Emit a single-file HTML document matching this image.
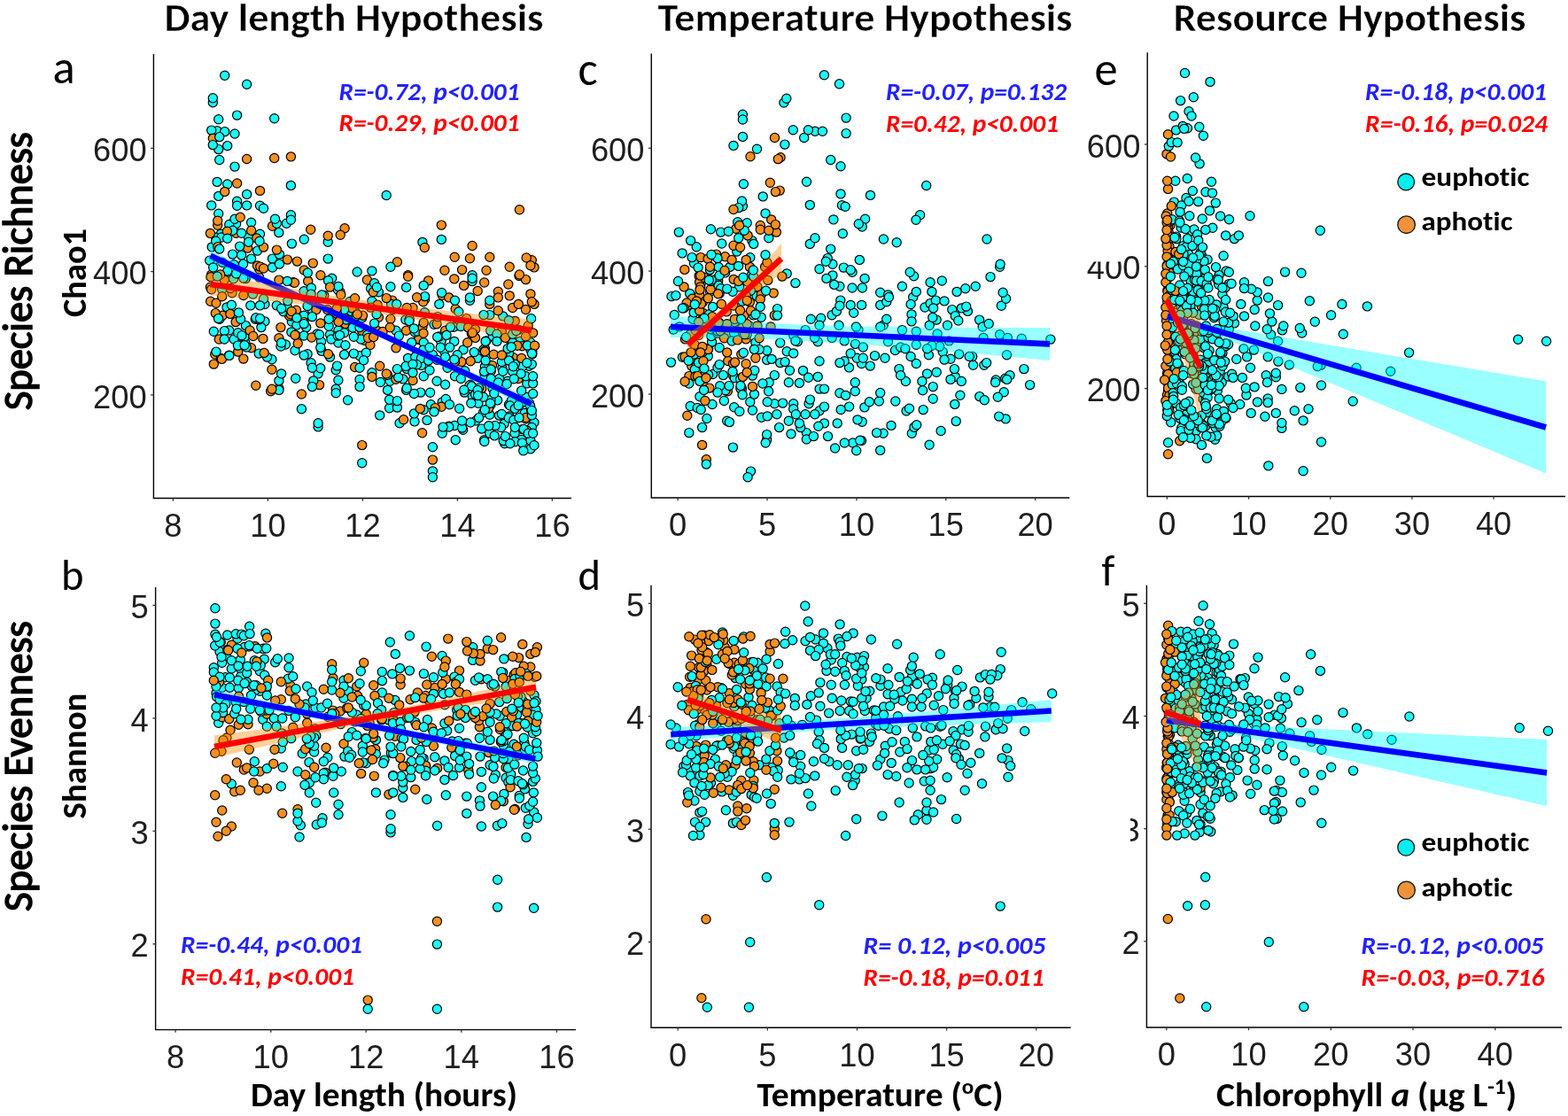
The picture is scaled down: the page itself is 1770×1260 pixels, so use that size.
<!DOCTYPE html>
<html><head><meta charset="utf-8"><title>Figure</title>
<style>html,body{margin:0;padding:0;background:#fff;overflow:hidden;} svg{display:block;} text{font-variant-ligatures:none;font-kerning:normal;} .c{fill:#18FFFC;} .o{fill:#F8901E;}</style>
</head><body>
<svg width="1770" height="1260" viewBox="0 0 1770 1260">
<rect width="1770" height="1260" fill="#fff"/>
<g stroke="#000" stroke-width="1.2">
<circle cx="597.1" cy="413.3" r="5.1" class="c"/>
<circle cx="574.5" cy="456.7" r="5.1" class="c"/>
<circle cx="266.6" cy="252.6" r="5.1" class="c"/>
<circle cx="470.8" cy="399.4" r="5.1" class="c"/>
<circle cx="283.5" cy="392.8" r="5.1" class="o"/>
<circle cx="241.3" cy="374.3" r="5.1" class="c"/>
<circle cx="592.2" cy="466.4" r="5.1" class="c"/>
<circle cx="474.8" cy="443.1" r="5.1" class="c"/>
<circle cx="588.3" cy="455.4" r="5.1" class="c"/>
<circle cx="545.6" cy="465.8" r="5.1" class="c"/>
<circle cx="547.4" cy="393.6" r="5.1" class="c"/>
<circle cx="406.0" cy="401.8" r="5.1" class="c"/>
<circle cx="533.1" cy="310.7" r="5.1" class="c"/>
<circle cx="248.0" cy="360.3" r="5.1" class="c"/>
<circle cx="372.5" cy="377.7" r="5.1" class="c"/>
<circle cx="306.9" cy="405.8" r="5.1" class="c"/>
<circle cx="599.5" cy="463.3" r="5.1" class="c"/>
<circle cx="383.3" cy="353.3" r="5.1" class="c"/>
<circle cx="466.0" cy="347.5" r="5.1" class="o"/>
<circle cx="399.3" cy="399.1" r="5.1" class="c"/>
<circle cx="598.9" cy="506.9" r="5.1" class="c"/>
<circle cx="594.5" cy="448.5" r="5.1" class="c"/>
<circle cx="523.0" cy="394.9" r="5.1" class="c"/>
<circle cx="488.4" cy="400.5" r="5.1" class="c"/>
<circle cx="589.9" cy="484.6" r="5.1" class="c"/>
<circle cx="589.7" cy="413.8" r="5.1" class="c"/>
<circle cx="247.7" cy="180.5" r="5.1" class="c"/>
<circle cx="598.9" cy="331.9" r="5.1" class="o"/>
<circle cx="372.5" cy="403.1" r="5.1" class="c"/>
<circle cx="347.1" cy="399.8" r="5.1" class="c"/>
<circle cx="488.4" cy="504.8" r="5.1" class="c"/>
<circle cx="408.7" cy="358.9" r="5.1" class="c"/>
<circle cx="514.2" cy="496.7" r="5.1" class="c"/>
<circle cx="381.9" cy="387.0" r="5.1" class="c"/>
<circle cx="278.6" cy="231.9" r="5.1" class="c"/>
<circle cx="309.7" cy="133.7" r="5.1" class="c"/>
<circle cx="513.5" cy="424.7" r="5.1" class="c"/>
<circle cx="292.6" cy="313.1" r="5.1" class="o"/>
<circle cx="460.6" cy="310.7" r="5.1" class="o"/>
<circle cx="381.8" cy="362.0" r="5.1" class="c"/>
<circle cx="546.7" cy="319.0" r="5.1" class="o"/>
<circle cx="488.4" cy="531.9" r="5.1" class="c"/>
<circle cx="269.4" cy="389.0" r="5.1" class="c"/>
<circle cx="501.0" cy="379.0" r="5.1" class="o"/>
<circle cx="521.6" cy="304.6" r="5.1" class="o"/>
<circle cx="601.6" cy="375.9" r="5.1" class="o"/>
<circle cx="278.6" cy="95.3" r="5.1" class="c"/>
<circle cx="383.9" cy="329.5" r="5.1" class="c"/>
<circle cx="298.9" cy="362.9" r="5.1" class="c"/>
<circle cx="238.7" cy="310.0" r="5.1" class="o"/>
<circle cx="335.4" cy="295.1" r="5.1" class="o"/>
<circle cx="245.1" cy="147.7" r="5.1" class="c"/>
<circle cx="603.0" cy="301.9" r="5.1" class="o"/>
<circle cx="307.5" cy="255.2" r="5.1" class="o"/>
<circle cx="527.7" cy="386.8" r="5.1" class="o"/>
<circle cx="360.5" cy="434.6" r="5.1" class="o"/>
<circle cx="499.2" cy="333.2" r="5.1" class="o"/>
<circle cx="563.5" cy="469.1" r="5.1" class="c"/>
<circle cx="460.6" cy="404.4" r="5.1" class="c"/>
<circle cx="552.8" cy="290.3" r="5.1" class="o"/>
<circle cx="546.6" cy="496.7" r="5.1" class="c"/>
<circle cx="576.8" cy="385.6" r="5.1" class="c"/>
<circle cx="345.7" cy="369.6" r="5.1" class="c"/>
<circle cx="352.4" cy="349.5" r="5.1" class="c"/>
<circle cx="401.2" cy="352.4" r="5.1" class="c"/>
<circle cx="505.1" cy="415.2" r="5.1" class="c"/>
<circle cx="556.9" cy="481.1" r="5.1" class="c"/>
<circle cx="358.2" cy="376.9" r="5.1" class="c"/>
<circle cx="579.6" cy="403.8" r="5.1" class="o"/>
<circle cx="442.7" cy="339.1" r="5.1" class="o"/>
<circle cx="328.4" cy="209.4" r="5.1" class="c"/>
<circle cx="322.4" cy="389.0" r="5.1" class="c"/>
<circle cx="400.6" cy="414.5" r="5.1" class="o"/>
<circle cx="427.4" cy="358.3" r="5.1" class="o"/>
<circle cx="343.1" cy="379.0" r="5.1" class="c"/>
<circle cx="329.3" cy="363.0" r="5.1" class="c"/>
<circle cx="459.2" cy="416.6" r="5.1" class="c"/>
<circle cx="298.9" cy="343.5" r="5.1" class="c"/>
<circle cx="242.7" cy="400.0" r="5.1" class="o"/>
<circle cx="258.8" cy="253.5" r="5.1" class="c"/>
<circle cx="408.7" cy="522.7" r="5.1" class="c"/>
<circle cx="577.4" cy="452.3" r="5.1" class="c"/>
<circle cx="499.2" cy="454.0" r="5.1" class="c"/>
<circle cx="285.5" cy="332.1" r="5.1" class="c"/>
<circle cx="512.8" cy="385.4" r="5.1" class="c"/>
<circle cx="515.4" cy="367.9" r="5.1" class="o"/>
<circle cx="353.3" cy="297.1" r="5.1" class="o"/>
<circle cx="594.8" cy="432.9" r="5.1" class="c"/>
<circle cx="293.5" cy="232.3" r="5.1" class="c"/>
<circle cx="381.9" cy="429.2" r="5.1" class="c"/>
<circle cx="329.7" cy="356.9" r="5.1" class="c"/>
<circle cx="485.6" cy="443.2" r="5.1" class="c"/>
<circle cx="543.7" cy="438.9" r="5.1" class="o"/>
<circle cx="314.9" cy="438.6" r="5.1" class="c"/>
<circle cx="483.6" cy="316.9" r="5.1" class="o"/>
<circle cx="249.2" cy="264.2" r="5.1" class="c"/>
<circle cx="429.4" cy="431.5" r="5.1" class="c"/>
<circle cx="408.9" cy="373.9" r="5.1" class="o"/>
<circle cx="277.4" cy="367.6" r="5.1" class="c"/>
<circle cx="288.2" cy="360.3" r="5.1" class="c"/>
<circle cx="293.5" cy="264.2" r="5.1" class="c"/>
<circle cx="381.9" cy="358.9" r="5.1" class="c"/>
<circle cx="536.0" cy="371.8" r="5.1" class="o"/>
<circle cx="294.9" cy="369.6" r="5.1" class="c"/>
<circle cx="506.7" cy="481.1" r="5.1" class="c"/>
<circle cx="243.7" cy="268.2" r="5.1" class="c"/>
<circle cx="262.0" cy="330.8" r="5.1" class="o"/>
<circle cx="593.5" cy="473.0" r="5.1" class="c"/>
<circle cx="471.9" cy="383.2" r="5.1" class="o"/>
<circle cx="307.5" cy="292.1" r="5.1" class="c"/>
<circle cx="328.4" cy="242.7" r="5.1" class="c"/>
<circle cx="246.7" cy="221.4" r="5.1" class="c"/>
<circle cx="532.3" cy="376.6" r="5.1" class="o"/>
<circle cx="468.0" cy="475.9" r="5.1" class="c"/>
<circle cx="246.7" cy="134.7" r="5.1" class="c"/>
<circle cx="533.3" cy="447.8" r="5.1" class="c"/>
<circle cx="569.1" cy="478.4" r="5.1" class="c"/>
<circle cx="333.0" cy="395.7" r="5.1" class="c"/>
<circle cx="493.1" cy="430.2" r="5.1" class="c"/>
<circle cx="323.4" cy="252.2" r="5.1" class="c"/>
<circle cx="297.5" cy="337.5" r="5.1" class="c"/>
<circle cx="539.9" cy="455.3" r="5.1" class="c"/>
<circle cx="600.3" cy="293.7" r="5.1" class="o"/>
<circle cx="343.1" cy="356.2" r="5.1" class="c"/>
<circle cx="513.2" cy="290.3" r="5.1" class="o"/>
<circle cx="588.7" cy="441.1" r="5.1" class="c"/>
<circle cx="334.4" cy="350.2" r="5.1" class="o"/>
<circle cx="379.4" cy="358.2" r="5.1" class="c"/>
<circle cx="573.1" cy="430.2" r="5.1" class="c"/>
<circle cx="548.8" cy="384.9" r="5.1" class="c"/>
<circle cx="239.2" cy="278.9" r="5.1" class="c"/>
<circle cx="512.1" cy="369.2" r="5.1" class="c"/>
<circle cx="388.6" cy="364.3" r="5.1" class="c"/>
<circle cx="440.3" cy="430.2" r="5.1" class="c"/>
<circle cx="603.0" cy="477.0" r="5.1" class="c"/>
<circle cx="472.8" cy="382.7" r="5.1" class="o"/>
<circle cx="601.6" cy="432.9" r="5.1" class="c"/>
<circle cx="328.4" cy="248.3" r="5.1" class="c"/>
<circle cx="539.2" cy="404.4" r="5.1" class="c"/>
<circle cx="588.7" cy="404.4" r="5.1" class="o"/>
<circle cx="343.1" cy="363.6" r="5.1" class="o"/>
<circle cx="333.6" cy="378.4" r="5.1" class="c"/>
<circle cx="264.1" cy="383.0" r="5.1" class="c"/>
<circle cx="454.9" cy="427.9" r="5.1" class="c"/>
<circle cx="440.9" cy="323.7" r="5.1" class="c"/>
<circle cx="312.3" cy="344.9" r="5.1" class="c"/>
<circle cx="549.8" cy="400.7" r="5.1" class="c"/>
<circle cx="594.2" cy="291.0" r="5.1" class="o"/>
<circle cx="238.7" cy="231.9" r="5.1" class="c"/>
<circle cx="335.0" cy="367.0" r="5.1" class="c"/>
<circle cx="411.7" cy="384.4" r="5.1" class="o"/>
<circle cx="262.0" cy="313.4" r="5.1" class="c"/>
<circle cx="276.9" cy="387.1" r="5.1" class="c"/>
<circle cx="439.6" cy="460.8" r="5.1" class="c"/>
<circle cx="266.4" cy="356.2" r="5.1" class="o"/>
<circle cx="490.0" cy="366.2" r="5.1" class="c"/>
<circle cx="536.5" cy="381.4" r="5.1" class="o"/>
<circle cx="240.3" cy="115.8" r="5.1" class="c"/>
<circle cx="554.2" cy="419.3" r="5.1" class="c"/>
<circle cx="556.0" cy="438.4" r="5.1" class="c"/>
<circle cx="552.8" cy="468.2" r="5.1" class="c"/>
<circle cx="478.2" cy="424.7" r="5.1" class="c"/>
<circle cx="292.2" cy="360.9" r="5.1" class="o"/>
<circle cx="280.6" cy="268.2" r="5.1" class="c"/>
<circle cx="562.3" cy="329.2" r="5.1" class="o"/>
<circle cx="585.3" cy="427.5" r="5.1" class="o"/>
<circle cx="440.9" cy="360.3" r="5.1" class="o"/>
<circle cx="424.6" cy="327.2" r="5.1" class="o"/>
<circle cx="237.4" cy="324.3" r="5.1" class="o"/>
<circle cx="266.6" cy="263.2" r="5.1" class="o"/>
<circle cx="258.7" cy="373.0" r="5.1" class="c"/>
<circle cx="593.5" cy="424.7" r="5.1" class="c"/>
<circle cx="290.5" cy="283.1" r="5.1" class="c"/>
<circle cx="447.0" cy="392.9" r="5.1" class="o"/>
<circle cx="565.6" cy="482.5" r="5.1" class="c"/>
<circle cx="343.1" cy="401.1" r="5.1" class="c"/>
<circle cx="467.4" cy="444.5" r="5.1" class="c"/>
<circle cx="389.9" cy="365.6" r="5.1" class="o"/>
<circle cx="419.9" cy="420.7" r="5.1" class="c"/>
<circle cx="256.0" cy="346.9" r="5.1" class="c"/>
<circle cx="260.1" cy="325.5" r="5.1" class="o"/>
<circle cx="506.7" cy="335.9" r="5.1" class="o"/>
<circle cx="498.6" cy="382.7" r="5.1" class="c"/>
<circle cx="447.0" cy="373.2" r="5.1" class="c"/>
<circle cx="414.6" cy="378.3" r="5.1" class="c"/>
<circle cx="437.5" cy="423.4" r="5.1" class="c"/>
<circle cx="241.3" cy="411.1" r="5.1" class="o"/>
<circle cx="369.6" cy="349.8" r="5.1" class="o"/>
<circle cx="408.7" cy="502.6" r="5.1" class="o"/>
<circle cx="446.9" cy="428.3" r="5.1" class="o"/>
<circle cx="326.6" cy="356.5" r="5.1" class="o"/>
<circle cx="245.1" cy="205.4" r="5.1" class="c"/>
<circle cx="283.6" cy="292.1" r="5.1" class="c"/>
<circle cx="552.8" cy="355.6" r="5.1" class="c"/>
<circle cx="251.3" cy="356.2" r="5.1" class="o"/>
<circle cx="253.3" cy="316.1" r="5.1" class="o"/>
<circle cx="406.0" cy="415.2" r="5.1" class="c"/>
<circle cx="276.1" cy="380.3" r="5.1" class="c"/>
<circle cx="258.7" cy="401.1" r="5.1" class="o"/>
<circle cx="322.0" cy="330.7" r="5.1" class="o"/>
<circle cx="256.7" cy="208.0" r="5.1" class="c"/>
<circle cx="501.3" cy="396.3" r="5.1" class="c"/>
<circle cx="552.8" cy="343.4" r="5.1" class="o"/>
<circle cx="547.2" cy="423.5" r="5.1" class="c"/>
<circle cx="359.1" cy="421.9" r="5.1" class="c"/>
<circle cx="468.7" cy="403.1" r="5.1" class="c"/>
<circle cx="514.2" cy="348.8" r="5.1" class="o"/>
<circle cx="267.6" cy="227.3" r="5.1" class="c"/>
<circle cx="586.7" cy="385.4" r="5.1" class="c"/>
<circle cx="240.6" cy="294.6" r="5.1" class="c"/>
<circle cx="585.1" cy="372.1" r="5.1" class="c"/>
<circle cx="266.7" cy="354.9" r="5.1" class="c"/>
<circle cx="417.9" cy="389.5" r="5.1" class="o"/>
<circle cx="293.5" cy="344.9" r="5.1" class="c"/>
<circle cx="443.5" cy="349.5" r="5.1" class="c"/>
<circle cx="581.3" cy="362.4" r="5.1" class="o"/>
<circle cx="555.5" cy="412.5" r="5.1" class="o"/>
<circle cx="314.9" cy="316.1" r="5.1" class="o"/>
<circle cx="513.1" cy="480.5" r="5.1" class="c"/>
<circle cx="238.6" cy="326.8" r="5.1" class="o"/>
<circle cx="567.7" cy="356.9" r="5.1" class="c"/>
<circle cx="353.8" cy="429.9" r="5.1" class="c"/>
<circle cx="312.4" cy="252.2" r="5.1" class="c"/>
<circle cx="363.1" cy="396.4" r="5.1" class="c"/>
<circle cx="448.4" cy="460.1" r="5.1" class="c"/>
<circle cx="598.9" cy="497.4" r="5.1" class="c"/>
<circle cx="314.9" cy="429.9" r="5.1" class="c"/>
<circle cx="497.8" cy="385.7" r="5.1" class="c"/>
<circle cx="309.7" cy="178.5" r="5.1" class="o"/>
<circle cx="540.6" cy="438.3" r="5.1" class="c"/>
<circle cx="319.9" cy="351.8" r="5.1" class="c"/>
<circle cx="381.3" cy="327.0" r="5.1" class="c"/>
<circle cx="365.8" cy="333.5" r="5.1" class="o"/>
<circle cx="370.2" cy="292.1" r="5.1" class="c"/>
<circle cx="351.1" cy="409.8" r="5.1" class="c"/>
<circle cx="246.7" cy="241.3" r="5.1" class="c"/>
<circle cx="265.0" cy="188.1" r="5.1" class="c"/>
<circle cx="343.1" cy="328.8" r="5.1" class="c"/>
<circle cx="249.3" cy="404.4" r="5.1" class="c"/>
<circle cx="291.8" cy="360.6" r="5.1" class="c"/>
<circle cx="495.8" cy="380.0" r="5.1" class="c"/>
<circle cx="336.2" cy="387.8" r="5.1" class="o"/>
<circle cx="498.3" cy="270.4" r="5.1" class="c"/>
<circle cx="441.6" cy="343.4" r="5.1" class="c"/>
<circle cx="384.2" cy="357.5" r="5.1" class="o"/>
<circle cx="479.6" cy="338.0" r="5.1" class="c"/>
<circle cx="575.2" cy="301.2" r="5.1" class="o"/>
<circle cx="578.6" cy="386.8" r="5.1" class="c"/>
<circle cx="297.5" cy="279.1" r="5.1" class="o"/>
<circle cx="479.4" cy="352.8" r="5.1" class="c"/>
<circle cx="394.0" cy="353.2" r="5.1" class="c"/>
<circle cx="574.9" cy="469.9" r="5.1" class="c"/>
<circle cx="507.6" cy="392.1" r="5.1" class="c"/>
<circle cx="278.2" cy="392.0" r="5.1" class="c"/>
<circle cx="589.4" cy="390.8" r="5.1" class="o"/>
<circle cx="305.6" cy="441.7" r="5.1" class="o"/>
<circle cx="563.6" cy="427.5" r="5.1" class="c"/>
<circle cx="371.2" cy="368.3" r="5.1" class="c"/>
<circle cx="379.2" cy="417.8" r="5.1" class="c"/>
<circle cx="274.8" cy="333.5" r="5.1" class="o"/>
<circle cx="264.1" cy="298.7" r="5.1" class="c"/>
<circle cx="476.6" cy="488.7" r="5.1" class="o"/>
<circle cx="558.6" cy="381.8" r="5.1" class="c"/>
<circle cx="600.8" cy="396.4" r="5.1" class="o"/>
<circle cx="361.8" cy="415.8" r="5.1" class="c"/>
<circle cx="343.3" cy="270.2" r="5.1" class="c"/>
<circle cx="458.6" cy="440.4" r="5.1" class="c"/>
<circle cx="296.9" cy="382.4" r="5.1" class="o"/>
<circle cx="477.7" cy="340.8" r="5.1" class="o"/>
<circle cx="381.9" cy="323.4" r="5.1" class="c"/>
<circle cx="259.9" cy="354.4" r="5.1" class="o"/>
<circle cx="600.3" cy="482.5" r="5.1" class="c"/>
<circle cx="596.2" cy="367.8" r="5.1" class="o"/>
<circle cx="520.3" cy="368.5" r="5.1" class="c"/>
<circle cx="581.1" cy="489.3" r="5.1" class="c"/>
<circle cx="479.0" cy="393.9" r="5.1" class="c"/>
<circle cx="457.9" cy="361.0" r="5.1" class="c"/>
<circle cx="395.1" cy="340.5" r="5.1" class="c"/>
<circle cx="488.4" cy="519.1" r="5.1" class="o"/>
<circle cx="262.6" cy="260.2" r="5.1" class="c"/>
<circle cx="268.7" cy="375.7" r="5.1" class="c"/>
<circle cx="561.6" cy="451.9" r="5.1" class="c"/>
<circle cx="333.7" cy="427.2" r="5.1" class="c"/>
<circle cx="292.7" cy="304.0" r="5.1" class="o"/>
<circle cx="356.9" cy="349.8" r="5.1" class="o"/>
<circle cx="559.0" cy="480.6" r="5.1" class="c"/>
<circle cx="243.3" cy="353.6" r="5.1" class="o"/>
<circle cx="374.7" cy="314.3" r="5.1" class="c"/>
<circle cx="581.3" cy="411.2" r="5.1" class="c"/>
<circle cx="566.9" cy="415.8" r="5.1" class="c"/>
<circle cx="498.6" cy="330.5" r="5.1" class="c"/>
<circle cx="450.4" cy="379.1" r="5.1" class="c"/>
<circle cx="554.0" cy="457.0" r="5.1" class="c"/>
<circle cx="569.7" cy="500.8" r="5.1" class="c"/>
<circle cx="546.0" cy="355.6" r="5.1" class="c"/>
<circle cx="418.6" cy="325.8" r="5.1" class="c"/>
<circle cx="594.9" cy="486.2" r="5.1" class="o"/>
<circle cx="574.5" cy="399.0" r="5.1" class="c"/>
<circle cx="520.9" cy="408.5" r="5.1" class="o"/>
<circle cx="419.9" cy="340.0" r="5.1" class="c"/>
<circle cx="249.9" cy="268.0" r="5.1" class="c"/>
<circle cx="475.5" cy="412.5" r="5.1" class="c"/>
<circle cx="557.3" cy="400.3" r="5.1" class="o"/>
<circle cx="310.5" cy="247.3" r="5.1" class="c"/>
<circle cx="522.7" cy="485.3" r="5.1" class="c"/>
<circle cx="478.2" cy="386.8" r="5.1" class="c"/>
<circle cx="266.1" cy="363.6" r="5.1" class="o"/>
<circle cx="533.1" cy="317.6" r="5.1" class="c"/>
<circle cx="591.1" cy="484.6" r="5.1" class="c"/>
<circle cx="278.6" cy="219.4" r="5.1" class="c"/>
<circle cx="324.3" cy="346.9" r="5.1" class="c"/>
<circle cx="476.9" cy="273.4" r="5.1" class="c"/>
<circle cx="331.0" cy="318.7" r="5.1" class="c"/>
<circle cx="265.0" cy="247.3" r="5.1" class="c"/>
<circle cx="464.7" cy="386.8" r="5.1" class="c"/>
<circle cx="315.4" cy="287.1" r="5.1" class="c"/>
<circle cx="359.1" cy="481.9" r="5.1" class="c"/>
<circle cx="547.4" cy="413.9" r="5.1" class="c"/>
<circle cx="530.4" cy="339.3" r="5.1" class="c"/>
<circle cx="521.6" cy="483.1" r="5.1" class="c"/>
<circle cx="575.7" cy="458.0" r="5.1" class="c"/>
<circle cx="459.2" cy="438.3" r="5.1" class="c"/>
<circle cx="468.3" cy="375.0" r="5.1" class="c"/>
<circle cx="524.3" cy="443.1" r="5.1" class="c"/>
<circle cx="600.3" cy="411.2" r="5.1" class="c"/>
<circle cx="531.8" cy="455.3" r="5.1" class="c"/>
<circle cx="272.9" cy="378.7" r="5.1" class="c"/>
<circle cx="528.6" cy="369.9" r="5.1" class="o"/>
<circle cx="271.2" cy="245.3" r="5.1" class="o"/>
<circle cx="240.3" cy="110.8" r="5.1" class="c"/>
<circle cx="598.9" cy="394.9" r="5.1" class="c"/>
<circle cx="343.3" cy="305.0" r="5.1" class="o"/>
<circle cx="400.6" cy="336.8" r="5.1" class="o"/>
<circle cx="253.7" cy="148.6" r="5.1" class="c"/>
<circle cx="427.4" cy="329.8" r="5.1" class="c"/>
<circle cx="495.8" cy="343.4" r="5.1" class="c"/>
<circle cx="567.1" cy="401.5" r="5.1" class="c"/>
<circle cx="581.3" cy="461.4" r="5.1" class="c"/>
<circle cx="588.5" cy="496.5" r="5.1" class="c"/>
<circle cx="467.4" cy="466.9" r="5.1" class="c"/>
<circle cx="237.9" cy="312.7" r="5.1" class="o"/>
<circle cx="277.2" cy="314.6" r="5.1" class="c"/>
<circle cx="573.1" cy="393.6" r="5.1" class="c"/>
<circle cx="554.2" cy="427.5" r="5.1" class="c"/>
<circle cx="361.8" cy="364.9" r="5.1" class="o"/>
<circle cx="407.3" cy="383.0" r="5.1" class="c"/>
<circle cx="283.6" cy="251.2" r="5.1" class="c"/>
<circle cx="603.0" cy="343.4" r="5.1" class="o"/>
<circle cx="379.2" cy="439.3" r="5.1" class="c"/>
<circle cx="597.5" cy="455.3" r="5.1" class="c"/>
<circle cx="596.2" cy="489.2" r="5.1" class="c"/>
<circle cx="328.1" cy="354.8" r="5.1" class="o"/>
<circle cx="598.9" cy="386.8" r="5.1" class="c"/>
<circle cx="250.7" cy="326.8" r="5.1" class="c"/>
<circle cx="458.6" cy="324.4" r="5.1" class="c"/>
<circle cx="396.1" cy="351.4" r="5.1" class="c"/>
<circle cx="436.2" cy="336.6" r="5.1" class="o"/>
<circle cx="329.1" cy="351.5" r="5.1" class="o"/>
<circle cx="458.6" cy="373.2" r="5.1" class="o"/>
<circle cx="530.4" cy="291.7" r="5.1" class="o"/>
<circle cx="545.9" cy="394.7" r="5.1" class="c"/>
<circle cx="584.0" cy="390.2" r="5.1" class="o"/>
<circle cx="462.3" cy="360.2" r="5.1" class="c"/>
<circle cx="409.5" cy="356.2" r="5.1" class="o"/>
<circle cx="437.5" cy="440.4" r="5.1" class="c"/>
<circle cx="531.1" cy="434.2" r="5.1" class="c"/>
<circle cx="238.7" cy="147.1" r="5.1" class="c"/>
<circle cx="265.0" cy="151.0" r="5.1" class="c"/>
<circle cx="240.3" cy="156.2" r="5.1" class="o"/>
<circle cx="458.1" cy="413.5" r="5.1" class="c"/>
<circle cx="461.9" cy="362.4" r="5.1" class="c"/>
<circle cx="593.8" cy="471.5" r="5.1" class="o"/>
<circle cx="389.9" cy="389.7" r="5.1" class="c"/>
<circle cx="588.1" cy="422.0" r="5.1" class="c"/>
<circle cx="271.6" cy="360.3" r="5.1" class="c"/>
<circle cx="475.5" cy="404.4" r="5.1" class="c"/>
<circle cx="552.8" cy="489.2" r="5.1" class="c"/>
<circle cx="568.2" cy="497.6" r="5.1" class="c"/>
<circle cx="578.6" cy="419.3" r="5.1" class="c"/>
<circle cx="289.8" cy="269.0" r="5.1" class="o"/>
<circle cx="535.2" cy="397.6" r="5.1" class="c"/>
<circle cx="256.3" cy="261.2" r="5.1" class="o"/>
<circle cx="390.8" cy="361.0" r="5.1" class="c"/>
<circle cx="256.7" cy="306.0" r="5.1" class="c"/>
<circle cx="312.4" cy="282.1" r="5.1" class="o"/>
<circle cx="350.7" cy="259.2" r="5.1" class="o"/>
<circle cx="593.5" cy="349.5" r="5.1" class="o"/>
<circle cx="577.2" cy="391.8" r="5.1" class="c"/>
<circle cx="493.1" cy="365.8" r="5.1" class="o"/>
<circle cx="499.2" cy="489.2" r="5.1" class="c"/>
<circle cx="328.9" cy="374.9" r="5.1" class="c"/>
<circle cx="352.4" cy="415.2" r="5.1" class="c"/>
<circle cx="578.6" cy="347.5" r="5.1" class="o"/>
<circle cx="256.7" cy="269.2" r="5.1" class="c"/>
<circle cx="470.6" cy="411.7" r="5.1" class="c"/>
<circle cx="566.4" cy="467.5" r="5.1" class="c"/>
<circle cx="347.7" cy="317.4" r="5.1" class="o"/>
<circle cx="290.5" cy="300.0" r="5.1" class="o"/>
<circle cx="268.7" cy="397.1" r="5.1" class="o"/>
<circle cx="581.3" cy="498.7" r="5.1" class="c"/>
<circle cx="536.5" cy="371.9" r="5.1" class="o"/>
<circle cx="575.2" cy="333.9" r="5.1" class="o"/>
<circle cx="543.7" cy="484.1" r="5.1" class="c"/>
<circle cx="317.6" cy="421.9" r="5.1" class="c"/>
<circle cx="556.2" cy="379.4" r="5.1" class="c"/>
<circle cx="601.6" cy="424.7" r="5.1" class="c"/>
<circle cx="516.2" cy="400.8" r="5.1" class="c"/>
<circle cx="589.4" cy="500.1" r="5.1" class="c"/>
<circle cx="575.0" cy="407.1" r="5.1" class="c"/>
<circle cx="567.7" cy="419.3" r="5.1" class="c"/>
<circle cx="425.1" cy="354.7" r="5.1" class="c"/>
<circle cx="397.1" cy="347.7" r="5.1" class="o"/>
<circle cx="566.4" cy="408.5" r="5.1" class="c"/>
<circle cx="466.0" cy="411.2" r="5.1" class="c"/>
<circle cx="237.4" cy="263.4" r="5.1" class="o"/>
<circle cx="316.9" cy="391.0" r="5.1" class="c"/>
<circle cx="595.3" cy="390.1" r="5.1" class="c"/>
<circle cx="419.9" cy="305.9" r="5.1" class="c"/>
<circle cx="314.9" cy="381.7" r="5.1" class="o"/>
<circle cx="537.2" cy="475.0" r="5.1" class="c"/>
<circle cx="246.5" cy="359.6" r="5.1" class="c"/>
<circle cx="382.0" cy="373.0" r="5.1" class="c"/>
<circle cx="370.2" cy="273.2" r="5.1" class="c"/>
<circle cx="384.8" cy="332.7" r="5.1" class="o"/>
<circle cx="388.6" cy="375.7" r="5.1" class="c"/>
<circle cx="574.3" cy="471.8" r="5.1" class="c"/>
<circle cx="340.4" cy="461.8" r="5.1" class="c"/>
<circle cx="402.1" cy="356.5" r="5.1" class="c"/>
<circle cx="362.5" cy="385.7" r="5.1" class="c"/>
<circle cx="548.1" cy="407.1" r="5.1" class="c"/>
<circle cx="288.9" cy="358.8" r="5.1" class="c"/>
<circle cx="488.4" cy="538.7" r="5.1" class="c"/>
<circle cx="471.0" cy="374.0" r="5.1" class="c"/>
<circle cx="333.0" cy="378.3" r="5.1" class="o"/>
<circle cx="347.1" cy="345.5" r="5.1" class="c"/>
<circle cx="517.8" cy="352.0" r="5.1" class="c"/>
<circle cx="598.7" cy="458.6" r="5.1" class="c"/>
<circle cx="246.7" cy="168.6" r="5.1" class="c"/>
<circle cx="494.1" cy="357.6" r="5.1" class="c"/>
<circle cx="413.3" cy="398.3" r="5.1" class="c"/>
<circle cx="288.8" cy="435.2" r="5.1" class="o"/>
<circle cx="600.3" cy="468.9" r="5.1" class="c"/>
<circle cx="586.4" cy="236.8" r="5.1" class="o"/>
<circle cx="549.0" cy="305.3" r="5.1" class="o"/>
<circle cx="554.0" cy="451.4" r="5.1" class="c"/>
<circle cx="351.4" cy="325.0" r="5.1" class="c"/>
<circle cx="380.6" cy="413.1" r="5.1" class="c"/>
<circle cx="340.4" cy="445.0" r="5.1" class="o"/>
<circle cx="274.8" cy="314.1" r="5.1" class="c"/>
<circle cx="392.6" cy="451.7" r="5.1" class="c"/>
<circle cx="398.5" cy="368.0" r="5.1" class="o"/>
<circle cx="536.5" cy="445.2" r="5.1" class="c"/>
<circle cx="603.0" cy="502.8" r="5.1" class="c"/>
<circle cx="398.1" cy="370.0" r="5.1" class="c"/>
<circle cx="359.1" cy="477.8" r="5.1" class="c"/>
<circle cx="574.5" cy="407.1" r="5.1" class="c"/>
<circle cx="579.9" cy="474.3" r="5.1" class="c"/>
<circle cx="449.7" cy="426.1" r="5.1" class="c"/>
<circle cx="580.2" cy="427.7" r="5.1" class="c"/>
<circle cx="478.2" cy="322.4" r="5.1" class="c"/>
<circle cx="603.6" cy="390.2" r="5.1" class="o"/>
<circle cx="599.6" cy="359.7" r="5.1" class="c"/>
<circle cx="552.8" cy="339.3" r="5.1" class="c"/>
<circle cx="501.9" cy="305.3" r="5.1" class="o"/>
<circle cx="493.3" cy="406.3" r="5.1" class="c"/>
<circle cx="406.0" cy="369.6" r="5.1" class="c"/>
<circle cx="279.6" cy="280.1" r="5.1" class="o"/>
<circle cx="586.0" cy="471.6" r="5.1" class="c"/>
<circle cx="301.5" cy="403.1" r="5.1" class="c"/>
<circle cx="479.6" cy="334.6" r="5.1" class="c"/>
<circle cx="388.6" cy="349.5" r="5.1" class="c"/>
<circle cx="486.4" cy="456.7" r="5.1" class="c"/>
<circle cx="539.2" cy="328.5" r="5.1" class="o"/>
<circle cx="280.6" cy="273.2" r="5.1" class="c"/>
<circle cx="531.1" cy="477.0" r="5.1" class="c"/>
<circle cx="502.6" cy="434.2" r="5.1" class="c"/>
<circle cx="293.8" cy="301.1" r="5.1" class="o"/>
<circle cx="425.8" cy="373.4" r="5.1" class="o"/>
<circle cx="593.5" cy="380.0" r="5.1" class="o"/>
<circle cx="256.7" cy="164.6" r="5.1" class="c"/>
<circle cx="600.3" cy="463.5" r="5.1" class="c"/>
<circle cx="422.6" cy="365.1" r="5.1" class="c"/>
<circle cx="586.0" cy="311.5" r="5.1" class="o"/>
<circle cx="245.7" cy="254.2" r="5.1" class="o"/>
<circle cx="546.6" cy="419.4" r="5.1" class="c"/>
<circle cx="530.4" cy="335.9" r="5.1" class="c"/>
<circle cx="250.4" cy="405.4" r="5.1" class="o"/>
<circle cx="545.6" cy="448.3" r="5.1" class="c"/>
<circle cx="247.7" cy="154.6" r="5.1" class="c"/>
<circle cx="447.7" cy="343.4" r="5.1" class="c"/>
<circle cx="547.1" cy="396.2" r="5.1" class="o"/>
<circle cx="593.5" cy="315.6" r="5.1" class="o"/>
<circle cx="439.6" cy="451.3" r="5.1" class="c"/>
<circle cx="258.8" cy="401.4" r="5.1" class="c"/>
<circle cx="261.4" cy="344.2" r="5.1" class="c"/>
<circle cx="476.9" cy="369.2" r="5.1" class="o"/>
<circle cx="373.9" cy="383.0" r="5.1" class="c"/>
<circle cx="502.6" cy="373.2" r="5.1" class="o"/>
<circle cx="262.6" cy="287.1" r="5.1" class="c"/>
<circle cx="293.5" cy="215.4" r="5.1" class="o"/>
<circle cx="243.7" cy="272.2" r="5.1" class="c"/>
<circle cx="253.3" cy="373.6" r="5.1" class="c"/>
<circle cx="370.5" cy="399.8" r="5.1" class="o"/>
<circle cx="274.8" cy="405.1" r="5.1" class="o"/>
<circle cx="361.9" cy="310.8" r="5.1" class="o"/>
<circle cx="551.6" cy="461.1" r="5.1" class="o"/>
<circle cx="585.2" cy="457.8" r="5.1" class="c"/>
<circle cx="415.6" cy="381.5" r="5.1" class="o"/>
<circle cx="470.6" cy="335.7" r="5.1" class="o"/>
<circle cx="506.8" cy="482.0" r="5.1" class="c"/>
<circle cx="351.8" cy="381.0" r="5.1" class="o"/>
<circle cx="504.0" cy="378.4" r="5.1" class="c"/>
<circle cx="553.6" cy="373.3" r="5.1" class="c"/>
<circle cx="533.1" cy="314.2" r="5.1" class="c"/>
<circle cx="335.0" cy="358.9" r="5.1" class="c"/>
<circle cx="566.4" cy="373.9" r="5.1" class="o"/>
<circle cx="406.0" cy="428.5" r="5.1" class="c"/>
<circle cx="253.7" cy="216.4" r="5.1" class="o"/>
<circle cx="297.5" cy="235.3" r="5.1" class="c"/>
<circle cx="459.2" cy="347.5" r="5.1" class="o"/>
<circle cx="498.3" cy="254.1" r="5.1" class="o"/>
<circle cx="421.7" cy="380.5" r="5.1" class="o"/>
<circle cx="253.7" cy="85.3" r="5.1" class="c"/>
<circle cx="479.3" cy="279.5" r="5.1" class="o"/>
<circle cx="272.6" cy="288.1" r="5.1" class="c"/>
<circle cx="500.1" cy="482.1" r="5.1" class="c"/>
<circle cx="598.9" cy="299.8" r="5.1" class="o"/>
<circle cx="343.1" cy="365.6" r="5.1" class="c"/>
<circle cx="553.5" cy="455.3" r="5.1" class="c"/>
<circle cx="406.0" cy="436.6" r="5.1" class="c"/>
<circle cx="278.6" cy="179.5" r="5.1" class="o"/>
<circle cx="388.6" cy="400.4" r="5.1" class="c"/>
<circle cx="432.0" cy="374.5" r="5.1" class="o"/>
<circle cx="314.9" cy="440.4" r="5.1" class="c"/>
<circle cx="263.6" cy="314.7" r="5.1" class="c"/>
<circle cx="448.4" cy="295.8" r="5.1" class="o"/>
<circle cx="600.9" cy="399.7" r="5.1" class="o"/>
<circle cx="466.0" cy="429.5" r="5.1" class="o"/>
<circle cx="498.3" cy="459.2" r="5.1" class="o"/>
<circle cx="566.4" cy="401.0" r="5.1" class="o"/>
<circle cx="477.6" cy="395.3" r="5.1" class="c"/>
<circle cx="236.7" cy="294.1" r="5.1" class="c"/>
<circle cx="332.5" cy="319.2" r="5.1" class="o"/>
<circle cx="370.5" cy="316.7" r="5.1" class="c"/>
<circle cx="466.0" cy="420.7" r="5.1" class="c"/>
<circle cx="478.2" cy="364.4" r="5.1" class="o"/>
<circle cx="562.5" cy="432.0" r="5.1" class="c"/>
<circle cx="293.5" cy="359.6" r="5.1" class="c"/>
<circle cx="267.6" cy="130.1" r="5.1" class="c"/>
<circle cx="485.0" cy="392.2" r="5.1" class="c"/>
<circle cx="513.5" cy="339.3" r="5.1" class="c"/>
<circle cx="292.2" cy="399.1" r="5.1" class="c"/>
<circle cx="237.6" cy="340.3" r="5.1" class="o"/>
<circle cx="240.3" cy="163.6" r="5.1" class="c"/>
<circle cx="247.3" cy="383.0" r="5.1" class="o"/>
<circle cx="316.9" cy="369.6" r="5.1" class="o"/>
<circle cx="414.4" cy="316.0" r="5.1" class="o"/>
<circle cx="399.3" cy="380.3" r="5.1" class="c"/>
<circle cx="389.1" cy="257.8" r="5.1" class="o"/>
<circle cx="381.2" cy="379.1" r="5.1" class="c"/>
<circle cx="282.1" cy="373.0" r="5.1" class="o"/>
<circle cx="570.4" cy="381.4" r="5.1" class="o"/>
<circle cx="600.3" cy="340.7" r="5.1" class="o"/>
<circle cx="448.4" cy="452.6" r="5.1" class="c"/>
<circle cx="560.9" cy="377.3" r="5.1" class="c"/>
<circle cx="491.2" cy="460.6" r="5.1" class="o"/>
<circle cx="521.6" cy="475.0" r="5.1" class="c"/>
<circle cx="317.6" cy="348.2" r="5.1" class="c"/>
<circle cx="578.6" cy="377.3" r="5.1" class="c"/>
<circle cx="426.1" cy="344.1" r="5.1" class="o"/>
<circle cx="379.2" cy="443.7" r="5.1" class="c"/>
<circle cx="547.3" cy="462.8" r="5.1" class="c"/>
<circle cx="317.6" cy="387.0" r="5.1" class="c"/>
<circle cx="370.2" cy="266.2" r="5.1" class="o"/>
<circle cx="524.7" cy="418.8" r="5.1" class="c"/>
<circle cx="531.1" cy="407.8" r="5.1" class="o"/>
<circle cx="436.2" cy="422.0" r="5.1" class="o"/>
<circle cx="306.9" cy="439.3" r="5.1" class="o"/>
<circle cx="351.1" cy="332.1" r="5.1" class="c"/>
<circle cx="600.5" cy="399.2" r="5.1" class="c"/>
<circle cx="372.5" cy="324.1" r="5.1" class="o"/>
<circle cx="533.3" cy="375.8" r="5.1" class="o"/>
<circle cx="285.8" cy="379.5" r="5.1" class="o"/>
<circle cx="586.4" cy="310.0" r="5.1" class="o"/>
<circle cx="360.5" cy="377.7" r="5.1" class="c"/>
<circle cx="562.3" cy="335.9" r="5.1" class="o"/>
<circle cx="601.6" cy="489.2" r="5.1" class="c"/>
<circle cx="267.6" cy="232.3" r="5.1" class="c"/>
<circle cx="573.8" cy="321.0" r="5.1" class="o"/>
<circle cx="547.4" cy="396.9" r="5.1" class="o"/>
<circle cx="497.2" cy="392.2" r="5.1" class="c"/>
<circle cx="558.2" cy="491.9" r="5.1" class="c"/>
<circle cx="530.0" cy="435.1" r="5.1" class="c"/>
<circle cx="448.4" cy="416.6" r="5.1" class="c"/>
<circle cx="307.5" cy="302.0" r="5.1" class="c"/>
<circle cx="266.6" cy="309.0" r="5.1" class="c"/>
<circle cx="251.0" cy="296.2" r="5.1" class="c"/>
<circle cx="574.5" cy="361.7" r="5.1" class="c"/>
<circle cx="248.7" cy="310.0" r="5.1" class="o"/>
<circle cx="328.4" cy="176.9" r="5.1" class="o"/>
<circle cx="601.6" cy="444.5" r="5.1" class="c"/>
<circle cx="482.0" cy="474.4" r="5.1" class="c"/>
<circle cx="554.1" cy="417.0" r="5.1" class="c"/>
<circle cx="421.3" cy="329.8" r="5.1" class="o"/>
<circle cx="460.6" cy="312.2" r="5.1" class="o"/>
<circle cx="579.3" cy="413.7" r="5.1" class="c"/>
<circle cx="532.4" cy="436.1" r="5.1" class="c"/>
<circle cx="523.8" cy="440.2" r="5.1" class="c"/>
<circle cx="283.6" cy="260.2" r="5.1" class="o"/>
<circle cx="314.8" cy="262.6" r="5.1" class="c"/>
<circle cx="478.2" cy="462.8" r="5.1" class="c"/>
<circle cx="268.4" cy="390.1" r="5.1" class="c"/>
<circle cx="371.2" cy="360.3" r="5.1" class="c"/>
<circle cx="512.8" cy="314.9" r="5.1" class="o"/>
<circle cx="253.3" cy="383.0" r="5.1" class="c"/>
<circle cx="478.0" cy="376.3" r="5.1" class="o"/>
<circle cx="380.4" cy="354.2" r="5.1" class="o"/>
<circle cx="551.7" cy="480.7" r="5.1" class="c"/>
<circle cx="418.4" cy="347.1" r="5.1" class="o"/>
<circle cx="548.1" cy="385.4" r="5.1" class="c"/>
<circle cx="570.4" cy="492.6" r="5.1" class="c"/>
<circle cx="523.6" cy="322.4" r="5.1" class="o"/>
<circle cx="245.8" cy="278.6" r="5.1" class="o"/>
<circle cx="382.2" cy="363.4" r="5.1" class="o"/>
<circle cx="502.6" cy="403.1" r="5.1" class="c"/>
<circle cx="503.3" cy="450.5" r="5.1" class="c"/>
<circle cx="384.2" cy="265.2" r="5.1" class="o"/>
<circle cx="306.9" cy="417.2" r="5.1" class="o"/>
<circle cx="276.1" cy="389.7" r="5.1" class="c"/>
<circle cx="422.6" cy="319.7" r="5.1" class="c"/>
<circle cx="483.6" cy="407.1" r="5.1" class="c"/>
<circle cx="585.3" cy="343.4" r="5.1" class="o"/>
<circle cx="581.3" cy="482.5" r="5.1" class="c"/>
<circle cx="526.6" cy="359.6" r="5.1" class="o"/>
<circle cx="590.8" cy="508.9" r="5.1" class="c"/>
<circle cx="485.0" cy="418.0" r="5.1" class="c"/>
<circle cx="539.2" cy="440.4" r="5.1" class="c"/>
<circle cx="363.3" cy="333.0" r="5.1" class="c"/>
<circle cx="293.0" cy="272.3" r="5.1" class="c"/>
<circle cx="352.4" cy="436.6" r="5.1" class="c"/>
<circle cx="572.1" cy="433.5" r="5.1" class="c"/>
<circle cx="315.4" cy="298.1" r="5.1" class="c"/>
<circle cx="493.7" cy="380.4" r="5.1" class="c"/>
<circle cx="403.1" cy="307.0" r="5.1" class="c"/>
<circle cx="425.4" cy="324.2" r="5.1" class="c"/>
<circle cx="440.9" cy="301.2" r="5.1" class="c"/>
<circle cx="440.3" cy="369.8" r="5.1" class="o"/>
<circle cx="361.8" cy="392.4" r="5.1" class="c"/>
<circle cx="582.8" cy="373.6" r="5.1" class="c"/>
<circle cx="513.5" cy="408.4" r="5.1" class="o"/>
<circle cx="533.1" cy="277.5" r="5.1" class="o"/>
<circle cx="244.0" cy="397.1" r="5.1" class="c"/>
<circle cx="539.6" cy="446.6" r="5.1" class="c"/>
<circle cx="594.8" cy="409.8" r="5.1" class="c"/>
<circle cx="490.0" cy="464.9" r="5.1" class="c"/>
<circle cx="245.3" cy="312.1" r="5.1" class="c"/>
<circle cx="410.5" cy="406.7" r="5.1" class="c"/>
<circle cx="269.4" cy="352.9" r="5.1" class="c"/>
<circle cx="451.1" cy="477.7" r="5.1" class="c"/>
<circle cx="560.9" cy="385.4" r="5.1" class="c"/>
<circle cx="282.8" cy="344.9" r="5.1" class="c"/>
<circle cx="518.6" cy="461.2" r="5.1" class="c"/>
<circle cx="329.4" cy="275.1" r="5.1" class="c"/>
<circle cx="244.0" cy="342.2" r="5.1" class="o"/>
<circle cx="270.6" cy="278.1" r="5.1" class="c"/>
<circle cx="419.9" cy="425.4" r="5.1" class="o"/>
<circle cx="474.3" cy="461.4" r="5.1" class="o"/>
<circle cx="512.9" cy="405.9" r="5.1" class="c"/>
<circle cx="347.3" cy="308.0" r="5.1" class="c"/>
<circle cx="383.5" cy="378.4" r="5.1" class="c"/>
<circle cx="557.8" cy="444.2" r="5.1" class="c"/>
<circle cx="575.8" cy="500.8" r="5.1" class="c"/>
<circle cx="403.3" cy="354.9" r="5.1" class="o"/>
<circle cx="324.3" cy="317.4" r="5.1" class="c"/>
<circle cx="455.6" cy="473.8" r="5.1" class="o"/>
<circle cx="274.6" cy="298.1" r="5.1" class="c"/>
<circle cx="507.4" cy="456.7" r="5.1" class="c"/>
<circle cx="467.3" cy="370.9" r="5.1" class="c"/>
<circle cx="297.5" cy="303.0" r="5.1" class="o"/>
<circle cx="298.2" cy="398.4" r="5.1" class="o"/>
<circle cx="267.6" cy="207.0" r="5.1" class="o"/>
<circle cx="428.7" cy="468.9" r="5.1" class="c"/>
<circle cx="540.6" cy="471.6" r="5.1" class="c"/>
<circle cx="324.4" cy="293.1" r="5.1" class="o"/>
<circle cx="272.6" cy="263.2" r="5.1" class="c"/>
<circle cx="250.7" cy="334.8" r="5.1" class="o"/>
<circle cx="380.2" cy="348.4" r="5.1" class="o"/>
<circle cx="240.7" cy="302.0" r="5.1" class="c"/>
<circle cx="508.5" cy="369.3" r="5.1" class="c"/>
<circle cx="562.3" cy="350.8" r="5.1" class="o"/>
<circle cx="436.2" cy="220.5" r="5.1" class="c"/>
<circle cx="324.8" cy="339.7" r="5.1" class="c"/>
<circle cx="245.7" cy="249.2" r="5.1" class="o"/>
<circle cx="247.7" cy="281.1" r="5.1" class="c"/>
<circle cx="546.8" cy="498.5" r="5.1" class="c"/>
<circle cx="428.7" cy="413.2" r="5.1" class="o"/>
<circle cx="352.4" cy="357.6" r="5.1" class="c"/>
<circle cx="520.3" cy="427.5" r="5.1" class="c"/>
</g>
<polygon points="237.5,282.8 249.6,288.6 261.7,294.5 273.8,300.3 285.8,306.1 297.9,311.9 310.0,317.7 322.1,323.4 334.2,329.2 346.2,334.9 358.3,340.6 370.4,346.3 382.5,352.0 394.6,357.7 406.7,363.3 418.8,368.9 430.8,374.4 442.9,379.9 455.0,385.4 467.1,390.9 479.2,396.3 491.2,401.8 503.3,407.2 515.4,412.6 527.5,417.9 539.6,423.3 551.7,428.6 563.8,434.0 575.8,439.3 587.9,444.6 600.0,449.9 600.0,461.9 587.9,456.1 575.8,450.2 563.8,444.4 551.7,438.6 539.6,432.8 527.5,427.0 515.4,421.3 503.3,415.5 491.2,409.8 479.2,404.1 467.1,398.4 455.0,392.7 442.9,387.0 430.8,381.4 418.8,375.9 406.7,370.3 394.6,364.8 382.5,359.3 370.4,353.8 358.3,348.4 346.2,342.9 334.2,337.5 322.1,332.1 310.0,326.8 297.9,321.4 285.8,316.1 273.8,310.7 261.7,305.4 249.6,300.1 237.5,294.8" fill="#00FFFF" fill-opacity="0.4"/>
<line x1="237.5" y1="288.8" x2="600" y2="455.9" stroke="#0000FF" stroke-width="6.6"/>
<polygon points="237.5,308.5 249.6,310.8 261.7,313.1 273.8,315.4 285.8,317.7 297.9,320.0 310.0,322.2 322.1,324.4 334.2,326.6 346.2,328.7 358.3,330.8 370.4,332.9 382.5,334.8 394.6,336.7 406.7,338.6 418.8,340.4 430.8,342.0 442.9,343.7 455.0,345.2 467.1,346.7 479.2,348.1 491.2,349.5 503.3,350.9 515.4,352.2 527.5,353.5 539.6,354.7 551.7,356.0 563.8,357.2 575.8,358.4 587.9,359.5 600.0,360.7 600.0,384.7 587.9,382.4 575.8,380.1 563.8,377.9 551.7,375.7 539.6,373.4 527.5,371.2 515.4,369.1 503.3,366.9 491.2,364.8 479.2,362.8 467.1,360.8 455.0,358.8 442.9,356.9 430.8,355.1 418.8,353.4 406.7,351.7 394.6,350.1 382.5,348.5 370.4,347.1 358.3,345.6 346.2,344.3 334.2,343.0 322.1,341.7 310.0,340.5 297.9,339.3 285.8,338.1 273.8,336.9 261.7,335.8 249.6,334.6 237.5,333.5" fill="#FF8C00" fill-opacity="0.4"/>
<line x1="237.5" y1="321.0" x2="600" y2="372.7" stroke="#FF0000" stroke-width="6.6"/>
<path d="M173.4,61.0 V562.5 H645.0" fill="none" stroke="#000" stroke-width="1.4"/>
<line x1="195.4" y1="562.5" x2="195.4" y2="565.7" stroke="#333" stroke-width="1.3"/>
<text x="195.4" y="605.8" font-family="'Liberation Sans', Arial, sans-serif" font-size="36.3" font-weight="normal" font-style="normal" fill="#1e1e1e" text-anchor="middle">8</text>
<line x1="302.4" y1="562.5" x2="302.4" y2="565.7" stroke="#333" stroke-width="1.3"/>
<text x="302.4" y="605.8" font-family="'Liberation Sans', Arial, sans-serif" font-size="36.3" font-weight="normal" font-style="normal" fill="#1e1e1e" text-anchor="middle">10</text>
<line x1="409.4" y1="562.5" x2="409.4" y2="565.7" stroke="#333" stroke-width="1.3"/>
<text x="409.4" y="605.8" font-family="'Liberation Sans', Arial, sans-serif" font-size="36.3" font-weight="normal" font-style="normal" fill="#1e1e1e" text-anchor="middle">12</text>
<line x1="516.4" y1="562.5" x2="516.4" y2="565.7" stroke="#333" stroke-width="1.3"/>
<text x="516.4" y="605.8" font-family="'Liberation Sans', Arial, sans-serif" font-size="36.3" font-weight="normal" font-style="normal" fill="#1e1e1e" text-anchor="middle">14</text>
<line x1="623.4" y1="562.5" x2="623.4" y2="565.7" stroke="#333" stroke-width="1.3"/>
<text x="623.4" y="605.8" font-family="'Liberation Sans', Arial, sans-serif" font-size="36.3" font-weight="normal" font-style="normal" fill="#1e1e1e" text-anchor="middle">16</text>
<line x1="170.2" y1="445.9" x2="173.4" y2="445.9" stroke="#333" stroke-width="1.3"/>
<text x="165.6" y="460.5" font-family="'Liberation Sans', Arial, sans-serif" font-size="36.3" font-weight="normal" font-style="normal" fill="#1e1e1e" text-anchor="end">200</text>
<line x1="170.2" y1="306.6" x2="173.4" y2="306.6" stroke="#333" stroke-width="1.3"/>
<text x="165.6" y="321.2" font-family="'Liberation Sans', Arial, sans-serif" font-size="36.3" font-weight="normal" font-style="normal" fill="#1e1e1e" text-anchor="end">400</text>
<line x1="170.2" y1="167.3" x2="173.4" y2="167.3" stroke="#333" stroke-width="1.3"/>
<text x="165.6" y="181.9" font-family="'Liberation Sans', Arial, sans-serif" font-size="36.3" font-weight="normal" font-style="normal" fill="#1e1e1e" text-anchor="end">600</text>
<g stroke="#000" stroke-width="1.2">
<circle cx="1078.3" cy="425.4" r="5.1" class="c"/>
<circle cx="793.4" cy="341.1" r="5.1" class="o"/>
<circle cx="925.1" cy="463.8" r="5.1" class="c"/>
<circle cx="858.3" cy="254.5" r="5.1" class="o"/>
<circle cx="873.2" cy="330.9" r="5.1" class="o"/>
<circle cx="782.1" cy="360.4" r="5.1" class="c"/>
<circle cx="760.2" cy="372.1" r="5.1" class="c"/>
<circle cx="1079.2" cy="475.6" r="5.1" class="c"/>
<circle cx="766.3" cy="262.1" r="5.1" class="c"/>
<circle cx="939.9" cy="310.9" r="5.1" class="c"/>
<circle cx="818.6" cy="307.9" r="5.1" class="c"/>
<circle cx="997.2" cy="367.3" r="5.1" class="c"/>
<circle cx="949.0" cy="218.9" r="5.1" class="c"/>
<circle cx="837.3" cy="438.3" r="5.1" class="o"/>
<circle cx="776.7" cy="344.5" r="5.1" class="o"/>
<circle cx="827.8" cy="424.4" r="5.1" class="o"/>
<circle cx="758.0" cy="334.6" r="5.1" class="c"/>
<circle cx="945.2" cy="477.9" r="5.1" class="c"/>
<circle cx="811.1" cy="301.4" r="5.1" class="c"/>
<circle cx="784.1" cy="293.2" r="5.1" class="o"/>
<circle cx="1105.6" cy="361.1" r="5.1" class="c"/>
<circle cx="950.4" cy="231.8" r="5.1" class="c"/>
<circle cx="777.9" cy="424.6" r="5.1" class="o"/>
<circle cx="993.7" cy="508.4" r="5.1" class="c"/>
<circle cx="780.7" cy="413.3" r="5.1" class="o"/>
<circle cx="783.4" cy="373.5" r="5.1" class="o"/>
<circle cx="919.8" cy="467.8" r="5.1" class="c"/>
<circle cx="854.1" cy="334.3" r="5.1" class="c"/>
<circle cx="888.2" cy="308.9" r="5.1" class="c"/>
<circle cx="783.4" cy="297.2" r="5.1" class="c"/>
<circle cx="837.2" cy="440.1" r="5.1" class="c"/>
<circle cx="810.7" cy="316.7" r="5.1" class="o"/>
<circle cx="975.9" cy="459.9" r="5.1" class="c"/>
<circle cx="786.3" cy="411.4" r="5.1" class="o"/>
<circle cx="987.5" cy="401.6" r="5.1" class="c"/>
<circle cx="1058.1" cy="377.0" r="5.1" class="c"/>
<circle cx="778.7" cy="331.4" r="5.1" class="c"/>
<circle cx="925.1" cy="439.1" r="5.1" class="c"/>
<circle cx="888.2" cy="396.8" r="5.1" class="c"/>
<circle cx="942.6" cy="506.0" r="5.1" class="c"/>
<circle cx="1109.2" cy="369.0" r="5.1" class="c"/>
<circle cx="778.9" cy="406.4" r="5.1" class="o"/>
<circle cx="812.1" cy="364.6" r="5.1" class="o"/>
<circle cx="876.4" cy="262.1" r="5.1" class="o"/>
<circle cx="1130.3" cy="345.2" r="5.1" class="c"/>
<circle cx="1010.8" cy="453.0" r="5.1" class="c"/>
<circle cx="937.7" cy="180.5" r="5.1" class="c"/>
<circle cx="926.7" cy="359.3" r="5.1" class="c"/>
<circle cx="870.7" cy="247.9" r="5.1" class="o"/>
<circle cx="910.5" cy="205.2" r="5.1" class="c"/>
<circle cx="1074.8" cy="349.6" r="5.1" class="c"/>
<circle cx="1044.0" cy="347.0" r="5.1" class="c"/>
<circle cx="1069.5" cy="367.3" r="5.1" class="c"/>
<circle cx="1014.9" cy="416.6" r="5.1" class="c"/>
<circle cx="1077.8" cy="456.4" r="5.1" class="c"/>
<circle cx="808.4" cy="315.5" r="5.1" class="c"/>
<circle cx="1155.9" cy="416.6" r="5.1" class="c"/>
<circle cx="777.8" cy="433.0" r="5.1" class="c"/>
<circle cx="972.5" cy="497.5" r="5.1" class="c"/>
<circle cx="982.3" cy="413.1" r="5.1" class="c"/>
<circle cx="947.9" cy="443.7" r="5.1" class="c"/>
<circle cx="1082.7" cy="399.9" r="5.1" class="c"/>
<circle cx="834.6" cy="376.4" r="5.1" class="o"/>
<circle cx="820.2" cy="351.9" r="5.1" class="o"/>
<circle cx="997.1" cy="489.3" r="5.1" class="c"/>
<circle cx="854.5" cy="168.2" r="5.1" class="c"/>
<circle cx="791.0" cy="290.6" r="5.1" class="o"/>
<circle cx="1050.1" cy="342.6" r="5.1" class="c"/>
<circle cx="1023.1" cy="464.0" r="5.1" class="c"/>
<circle cx="895.7" cy="455.8" r="5.1" class="c"/>
<circle cx="1034.3" cy="410.5" r="5.1" class="c"/>
<circle cx="799.1" cy="292.1" r="5.1" class="o"/>
<circle cx="829.3" cy="426.8" r="5.1" class="c"/>
<circle cx="874.3" cy="455.8" r="5.1" class="c"/>
<circle cx="858.3" cy="259.3" r="5.1" class="o"/>
<circle cx="839.4" cy="207.7" r="5.1" class="c"/>
<circle cx="963.7" cy="353.2" r="5.1" class="c"/>
<circle cx="794.1" cy="353.7" r="5.1" class="o"/>
<circle cx="842.1" cy="382.9" r="5.1" class="o"/>
<circle cx="814.3" cy="343.2" r="5.1" class="o"/>
<circle cx="859.5" cy="471.2" r="5.1" class="c"/>
<circle cx="914.3" cy="231.4" r="5.1" class="c"/>
<circle cx="865.6" cy="496.6" r="5.1" class="c"/>
<circle cx="866.2" cy="453.8" r="5.1" class="c"/>
<circle cx="1073.0" cy="405.2" r="5.1" class="c"/>
<circle cx="859.3" cy="332.5" r="5.1" class="o"/>
<circle cx="972.6" cy="410.5" r="5.1" class="c"/>
<circle cx="864.0" cy="240.9" r="5.1" class="c"/>
<circle cx="1098.6" cy="412.2" r="5.1" class="c"/>
<circle cx="828.0" cy="164.4" r="5.1" class="c"/>
<circle cx="846.4" cy="301.4" r="5.1" class="o"/>
<circle cx="939.1" cy="381.4" r="5.1" class="c"/>
<circle cx="818.5" cy="289.7" r="5.1" class="o"/>
<circle cx="1022.4" cy="430.5" r="5.1" class="c"/>
<circle cx="793.1" cy="359.9" r="5.1" class="o"/>
<circle cx="775.8" cy="469.2" r="5.1" class="o"/>
<circle cx="958.5" cy="414.9" r="5.1" class="c"/>
<circle cx="784.3" cy="417.1" r="5.1" class="c"/>
<circle cx="849.5" cy="463.2" r="5.1" class="c"/>
<circle cx="939.9" cy="298.2" r="5.1" class="c"/>
<circle cx="767.1" cy="368.9" r="5.1" class="c"/>
<circle cx="801.4" cy="329.3" r="5.1" class="c"/>
<circle cx="893.0" cy="489.9" r="5.1" class="c"/>
<circle cx="821.1" cy="373.9" r="5.1" class="c"/>
<circle cx="847.1" cy="368.7" r="5.1" class="o"/>
<circle cx="1134.7" cy="427.2" r="5.1" class="c"/>
<circle cx="848.9" cy="271.6" r="5.1" class="c"/>
<circle cx="814.7" cy="275.0" r="5.1" class="c"/>
<circle cx="1049.2" cy="367.3" r="5.1" class="c"/>
<circle cx="799.7" cy="393.7" r="5.1" class="c"/>
<circle cx="1056.3" cy="339.1" r="5.1" class="c"/>
<circle cx="1085.3" cy="430.5" r="5.1" class="c"/>
<circle cx="1051.9" cy="329.4" r="5.1" class="c"/>
<circle cx="831.8" cy="284.0" r="5.1" class="c"/>
<circle cx="843.2" cy="377.5" r="5.1" class="o"/>
<circle cx="837.9" cy="340.0" r="5.1" class="c"/>
<circle cx="849.4" cy="424.1" r="5.1" class="c"/>
<circle cx="910.4" cy="488.6" r="5.1" class="c"/>
<circle cx="781.5" cy="337.3" r="5.1" class="o"/>
<circle cx="788.5" cy="409.5" r="5.1" class="c"/>
<circle cx="1016.6" cy="423.7" r="5.1" class="c"/>
<circle cx="880.7" cy="409.6" r="5.1" class="c"/>
<circle cx="835.9" cy="438.6" r="5.1" class="c"/>
<circle cx="920.0" cy="148.3" r="5.1" class="c"/>
<circle cx="852.9" cy="386.6" r="5.1" class="c"/>
<circle cx="762.9" cy="333.6" r="5.1" class="c"/>
<circle cx="838.4" cy="232.7" r="5.1" class="c"/>
<circle cx="934.5" cy="492.6" r="5.1" class="c"/>
<circle cx="802.1" cy="326.7" r="5.1" class="o"/>
<circle cx="976.1" cy="314.4" r="5.1" class="c"/>
<circle cx="842.1" cy="410.7" r="5.1" class="o"/>
<circle cx="846.8" cy="290.8" r="5.1" class="c"/>
<circle cx="1089.8" cy="325.8" r="5.1" class="c"/>
<circle cx="804.6" cy="422.5" r="5.1" class="c"/>
<circle cx="1050.1" cy="318.8" r="5.1" class="c"/>
<circle cx="948.8" cy="339.1" r="5.1" class="c"/>
<circle cx="788.6" cy="378.4" r="5.1" class="o"/>
<circle cx="811.1" cy="322.3" r="5.1" class="c"/>
<circle cx="793.8" cy="395.8" r="5.1" class="o"/>
<circle cx="949.0" cy="187.8" r="5.1" class="c"/>
<circle cx="842.2" cy="293.4" r="5.1" class="o"/>
<circle cx="812.1" cy="331.4" r="5.1" class="o"/>
<circle cx="1078.3" cy="356.7" r="5.1" class="c"/>
<circle cx="883.6" cy="455.1" r="5.1" class="c"/>
<circle cx="792.6" cy="482.6" r="5.1" class="c"/>
<circle cx="939.1" cy="355.8" r="5.1" class="c"/>
<circle cx="791.5" cy="319.3" r="5.1" class="c"/>
<circle cx="821.8" cy="407.5" r="5.1" class="o"/>
<circle cx="788.9" cy="374.3" r="5.1" class="o"/>
<circle cx="925.0" cy="303.8" r="5.1" class="c"/>
<circle cx="909.1" cy="467.8" r="5.1" class="c"/>
<circle cx="789.1" cy="311.6" r="5.1" class="o"/>
<circle cx="789.6" cy="332.5" r="5.1" class="o"/>
<circle cx="1010.5" cy="395.5" r="5.1" class="c"/>
<circle cx="1029.3" cy="489.3" r="5.1" class="c"/>
<circle cx="1118.0" cy="312.6" r="5.1" class="c"/>
<circle cx="827.4" cy="505.1" r="5.1" class="c"/>
<circle cx="1092.4" cy="351.4" r="5.1" class="c"/>
<circle cx="804.0" cy="456.5" r="5.1" class="c"/>
<circle cx="803.6" cy="386.1" r="5.1" class="c"/>
<circle cx="797.9" cy="472.5" r="5.1" class="c"/>
<circle cx="822.9" cy="376.4" r="5.1" class="o"/>
<circle cx="1029.0" cy="354.9" r="5.1" class="c"/>
<circle cx="820.7" cy="475.2" r="5.1" class="c"/>
<circle cx="834.6" cy="323.9" r="5.1" class="c"/>
<circle cx="955.1" cy="150.6" r="5.1" class="c"/>
<circle cx="868.2" cy="431.7" r="5.1" class="c"/>
<circle cx="793.1" cy="393.2" r="5.1" class="c"/>
<circle cx="848.6" cy="310.0" r="5.1" class="c"/>
<circle cx="1140.0" cy="423.7" r="5.1" class="c"/>
<circle cx="954.2" cy="233.3" r="5.1" class="c"/>
<circle cx="895.3" cy="146.8" r="5.1" class="c"/>
<circle cx="1133.2" cy="442.8" r="5.1" class="c"/>
<circle cx="914.3" cy="275.4" r="5.1" class="c"/>
<circle cx="843.6" cy="318.0" r="5.1" class="o"/>
<circle cx="813.7" cy="325.7" r="5.1" class="c"/>
<circle cx="783.5" cy="400.1" r="5.1" class="c"/>
<circle cx="808.7" cy="373.9" r="5.1" class="c"/>
<circle cx="877.5" cy="348.6" r="5.1" class="c"/>
<circle cx="795.6" cy="437.0" r="5.1" class="o"/>
<circle cx="1097.7" cy="402.5" r="5.1" class="c"/>
<circle cx="775.2" cy="342.0" r="5.1" class="o"/>
<circle cx="846.8" cy="453.8" r="5.1" class="c"/>
<circle cx="932.9" cy="314.4" r="5.1" class="c"/>
<circle cx="1128.6" cy="377.8" r="5.1" class="c"/>
<circle cx="865.6" cy="490.6" r="5.1" class="c"/>
<circle cx="1162.6" cy="434.6" r="5.1" class="c"/>
<circle cx="965.3" cy="441.7" r="5.1" class="c"/>
<circle cx="1062.1" cy="486.5" r="5.1" class="c"/>
<circle cx="930.5" cy="477.9" r="5.1" class="c"/>
<circle cx="789.9" cy="447.8" r="5.1" class="c"/>
<circle cx="953.2" cy="384.9" r="5.1" class="c"/>
<circle cx="895.7" cy="461.8" r="5.1" class="c"/>
<circle cx="947.5" cy="94.8" r="5.1" class="c"/>
<circle cx="795.0" cy="370.0" r="5.1" class="c"/>
<circle cx="850.5" cy="312.0" r="5.1" class="c"/>
<circle cx="1116.2" cy="365.5" r="5.1" class="c"/>
<circle cx="838.4" cy="129.3" r="5.1" class="c"/>
<circle cx="799.3" cy="402.1" r="5.1" class="c"/>
<circle cx="915.3" cy="360.2" r="5.1" class="c"/>
<circle cx="802.9" cy="379.6" r="5.1" class="c"/>
<circle cx="835.7" cy="359.5" r="5.1" class="c"/>
<circle cx="823.4" cy="476.6" r="5.1" class="c"/>
<circle cx="952.3" cy="302.1" r="5.1" class="c"/>
<circle cx="903.7" cy="482.6" r="5.1" class="c"/>
<circle cx="1185.9" cy="383.1" r="5.1" class="c"/>
<circle cx="810.0" cy="415.0" r="5.1" class="c"/>
<circle cx="846.4" cy="341.1" r="5.1" class="o"/>
<circle cx="800.4" cy="355.0" r="5.1" class="c"/>
<circle cx="962.6" cy="500.0" r="5.1" class="c"/>
<circle cx="890.3" cy="475.2" r="5.1" class="c"/>
<circle cx="885.9" cy="163.1" r="5.1" class="c"/>
<circle cx="1110.1" cy="381.4" r="5.1" class="c"/>
<circle cx="784.3" cy="389.3" r="5.1" class="o"/>
<circle cx="812.1" cy="311.1" r="5.1" class="c"/>
<circle cx="865.7" cy="406.4" r="5.1" class="c"/>
<circle cx="1073.0" cy="428.4" r="5.1" class="c"/>
<circle cx="860.9" cy="433.0" r="5.1" class="c"/>
<circle cx="816.4" cy="423.6" r="5.1" class="c"/>
<circle cx="863.6" cy="301.4" r="5.1" class="o"/>
<circle cx="1083.9" cy="446.2" r="5.1" class="c"/>
<circle cx="770.4" cy="403.2" r="5.1" class="c"/>
<circle cx="879.6" cy="482.6" r="5.1" class="c"/>
<circle cx="808.6" cy="287.1" r="5.1" class="o"/>
<circle cx="958.6" cy="459.1" r="5.1" class="c"/>
<circle cx="838.4" cy="154.4" r="5.1" class="c"/>
<circle cx="810.0" cy="291.6" r="5.1" class="c"/>
<circle cx="972.6" cy="344.4" r="5.1" class="c"/>
<circle cx="772.2" cy="347.8" r="5.1" class="o"/>
<circle cx="840.6" cy="377.6" r="5.1" class="o"/>
<circle cx="962.0" cy="307.3" r="5.1" class="c"/>
<circle cx="1136.6" cy="428.4" r="5.1" class="c"/>
<circle cx="781.1" cy="290.6" r="5.1" class="c"/>
<circle cx="852.9" cy="404.3" r="5.1" class="o"/>
<circle cx="910.4" cy="496.0" r="5.1" class="c"/>
<circle cx="838.1" cy="445.8" r="5.1" class="c"/>
<circle cx="828.2" cy="315.4" r="5.1" class="o"/>
<circle cx="850.3" cy="305.0" r="5.1" class="c"/>
<circle cx="913.1" cy="455.8" r="5.1" class="c"/>
<circle cx="884.9" cy="116.0" r="5.1" class="c"/>
<circle cx="838.4" cy="135.0" r="5.1" class="c"/>
<circle cx="1006.0" cy="480.4" r="5.1" class="c"/>
<circle cx="993.7" cy="344.4" r="5.1" class="c"/>
<circle cx="871.1" cy="405.4" r="5.1" class="c"/>
<circle cx="779.0" cy="381.7" r="5.1" class="o"/>
<circle cx="997.4" cy="270.0" r="5.1" class="c"/>
<circle cx="969.0" cy="372.6" r="5.1" class="c"/>
<circle cx="1034.3" cy="389.3" r="5.1" class="c"/>
<circle cx="859.3" cy="358.2" r="5.1" class="c"/>
<circle cx="965.3" cy="431.7" r="5.1" class="c"/>
<circle cx="799.3" cy="336.8" r="5.1" class="o"/>
<circle cx="803.6" cy="372.1" r="5.1" class="c"/>
<circle cx="799.6" cy="423.1" r="5.1" class="c"/>
<circle cx="833.6" cy="317.5" r="5.1" class="o"/>
<circle cx="810.0" cy="376.4" r="5.1" class="o"/>
<circle cx="923.2" cy="425.4" r="5.1" class="c"/>
<circle cx="989.6" cy="488.6" r="5.1" class="c"/>
<circle cx="772.8" cy="304.4" r="5.1" class="o"/>
<circle cx="880.2" cy="215.1" r="5.1" class="o"/>
<circle cx="1038.6" cy="242.7" r="5.1" class="c"/>
<circle cx="865.9" cy="296.3" r="5.1" class="o"/>
<circle cx="804.0" cy="357.6" r="5.1" class="o"/>
<circle cx="923.8" cy="481.2" r="5.1" class="c"/>
<circle cx="947.0" cy="367.3" r="5.1" class="c"/>
<circle cx="837.9" cy="367.9" r="5.1" class="o"/>
<circle cx="786.2" cy="278.8" r="5.1" class="c"/>
<circle cx="858.2" cy="337.9" r="5.1" class="o"/>
<circle cx="960.2" cy="304.7" r="5.1" class="c"/>
<circle cx="1114.0" cy="270.0" r="5.1" class="c"/>
<circle cx="1000.8" cy="340.8" r="5.1" class="c"/>
<circle cx="965.5" cy="388.4" r="5.1" class="c"/>
<circle cx="780.0" cy="376.4" r="5.1" class="o"/>
<circle cx="854.9" cy="323.8" r="5.1" class="o"/>
<circle cx="1136.5" cy="400.8" r="5.1" class="c"/>
<circle cx="866.2" cy="469.9" r="5.1" class="c"/>
<circle cx="1094.2" cy="402.5" r="5.1" class="c"/>
<circle cx="828.7" cy="459.8" r="5.1" class="c"/>
<circle cx="925.0" cy="407.8" r="5.1" class="c"/>
<circle cx="823.9" cy="301.4" r="5.1" class="c"/>
<circle cx="866.8" cy="316.4" r="5.1" class="o"/>
<circle cx="783.2" cy="352.9" r="5.1" class="c"/>
<circle cx="993.7" cy="330.3" r="5.1" class="c"/>
<circle cx="974.3" cy="392.0" r="5.1" class="c"/>
<circle cx="1110.9" cy="412.2" r="5.1" class="c"/>
<circle cx="827.1" cy="329.3" r="5.1" class="c"/>
<circle cx="797.3" cy="518.7" r="5.1" class="o"/>
<circle cx="1046.6" cy="421.9" r="5.1" class="c"/>
<circle cx="874.3" cy="356.1" r="5.1" class="o"/>
<circle cx="1126.3" cy="448.2" r="5.1" class="c"/>
<circle cx="840.0" cy="356.1" r="5.1" class="o"/>
<circle cx="1016.6" cy="392.0" r="5.1" class="c"/>
<circle cx="812.1" cy="392.5" r="5.1" class="c"/>
<circle cx="1002.5" cy="332.9" r="5.1" class="c"/>
<circle cx="891.4" cy="418.2" r="5.1" class="c"/>
<circle cx="1135.2" cy="472.9" r="5.1" class="c"/>
<circle cx="907.7" cy="155.5" r="5.1" class="c"/>
<circle cx="1064.2" cy="397.2" r="5.1" class="c"/>
<circle cx="812.1" cy="411.6" r="5.1" class="c"/>
<circle cx="967.3" cy="404.3" r="5.1" class="c"/>
<circle cx="801.4" cy="304.6" r="5.1" class="c"/>
<circle cx="804.6" cy="346.4" r="5.1" class="c"/>
<circle cx="847.4" cy="328.3" r="5.1" class="c"/>
<circle cx="864.6" cy="328.2" r="5.1" class="c"/>
<circle cx="828.7" cy="376.7" r="5.1" class="c"/>
<circle cx="1048.4" cy="400.8" r="5.1" class="c"/>
<circle cx="842.1" cy="333.6" r="5.1" class="o"/>
<circle cx="1063.3" cy="317.0" r="5.1" class="c"/>
<circle cx="1085.4" cy="347.9" r="5.1" class="c"/>
<circle cx="1128.6" cy="301.2" r="5.1" class="c"/>
<circle cx="838.9" cy="313.2" r="5.1" class="c"/>
<circle cx="817.5" cy="381.8" r="5.1" class="o"/>
<circle cx="792.6" cy="502.4" r="5.1" class="o"/>
<circle cx="820.7" cy="397.9" r="5.1" class="o"/>
<circle cx="1057.2" cy="361.1" r="5.1" class="c"/>
<circle cx="826.1" cy="385.0" r="5.1" class="c"/>
<circle cx="770.1" cy="285.9" r="5.1" class="c"/>
<circle cx="835.7" cy="427.9" r="5.1" class="c"/>
<circle cx="1028.1" cy="402.5" r="5.1" class="c"/>
<circle cx="779.2" cy="458.5" r="5.1" class="c"/>
<circle cx="1090.7" cy="346.1" r="5.1" class="c"/>
<circle cx="844.1" cy="265.9" r="5.1" class="o"/>
<circle cx="821.4" cy="441.7" r="5.1" class="o"/>
<circle cx="1101.2" cy="323.2" r="5.1" class="c"/>
<circle cx="800.8" cy="438.1" r="5.1" class="o"/>
<circle cx="1026.5" cy="461.2" r="5.1" class="c"/>
<circle cx="1052.8" cy="358.5" r="5.1" class="c"/>
<circle cx="826.1" cy="293.4" r="5.1" class="o"/>
<circle cx="954.6" cy="446.4" r="5.1" class="c"/>
<circle cx="865.7" cy="395.7" r="5.1" class="c"/>
<circle cx="772.1" cy="323.9" r="5.1" class="o"/>
<circle cx="1032.0" cy="482.4" r="5.1" class="c"/>
<circle cx="830.8" cy="258.3" r="5.1" class="o"/>
<circle cx="779.6" cy="271.6" r="5.1" class="c"/>
<circle cx="789.6" cy="318.6" r="5.1" class="o"/>
<circle cx="1031.6" cy="311.7" r="5.1" class="c"/>
<circle cx="1018.4" cy="323.2" r="5.1" class="c"/>
<circle cx="966.4" cy="369.0" r="5.1" class="c"/>
<circle cx="1030.7" cy="335.5" r="5.1" class="c"/>
<circle cx="992.3" cy="453.0" r="5.1" class="c"/>
<circle cx="881.1" cy="177.7" r="5.1" class="o"/>
<circle cx="973.2" cy="476.3" r="5.1" class="c"/>
<circle cx="784.9" cy="424.9" r="5.1" class="o"/>
<circle cx="1060.7" cy="391.1" r="5.1" class="c"/>
<circle cx="831.0" cy="363.0" r="5.1" class="o"/>
<circle cx="757.5" cy="409.1" r="5.1" class="c"/>
<circle cx="902.4" cy="432.4" r="5.1" class="c"/>
<circle cx="828.0" cy="277.3" r="5.1" class="o"/>
<circle cx="819.0" cy="440.7" r="5.1" class="c"/>
<circle cx="787.2" cy="460.5" r="5.1" class="c"/>
<circle cx="1105.8" cy="447.6" r="5.1" class="c"/>
<circle cx="832.7" cy="250.8" r="5.1" class="c"/>
<circle cx="928.5" cy="148.3" r="5.1" class="c"/>
<circle cx="974.3" cy="404.3" r="5.1" class="c"/>
<circle cx="793.9" cy="407.5" r="5.1" class="o"/>
<circle cx="934.2" cy="291.6" r="5.1" class="c"/>
<circle cx="1135.6" cy="337.3" r="5.1" class="c"/>
<circle cx="818.0" cy="305.5" r="5.1" class="o"/>
<circle cx="1153.2" cy="382.3" r="5.1" class="c"/>
<circle cx="930.4" cy="84.7" r="5.1" class="c"/>
<circle cx="932.3" cy="295.3" r="5.1" class="c"/>
<circle cx="837.5" cy="227.0" r="5.1" class="c"/>
<circle cx="1051.9" cy="390.2" r="5.1" class="c"/>
<circle cx="788.1" cy="302.1" r="5.1" class="c"/>
<circle cx="864.0" cy="287.8" r="5.1" class="c"/>
<circle cx="982.5" cy="220.4" r="5.1" class="c"/>
<circle cx="973.4" cy="325.0" r="5.1" class="c"/>
<circle cx="802.5" cy="317.5" r="5.1" class="c"/>
<circle cx="813.7" cy="262.1" r="5.1" class="c"/>
<circle cx="761.3" cy="355.5" r="5.1" class="c"/>
<circle cx="1034.7" cy="479.7" r="5.1" class="c"/>
<circle cx="795.9" cy="452.5" r="5.1" class="o"/>
<circle cx="1066.0" cy="406.1" r="5.1" class="c"/>
<circle cx="823.0" cy="435.6" r="5.1" class="c"/>
<circle cx="970.3" cy="293.4" r="5.1" class="c"/>
<circle cx="829.3" cy="363.6" r="5.1" class="o"/>
<circle cx="855.0" cy="367.9" r="5.1" class="o"/>
<circle cx="810.2" cy="374.1" r="5.1" class="c"/>
<circle cx="828.0" cy="345.0" r="5.1" class="o"/>
<circle cx="1034.3" cy="374.3" r="5.1" class="c"/>
<circle cx="1127.7" cy="470.1" r="5.1" class="c"/>
<circle cx="793.1" cy="397.6" r="5.1" class="c"/>
<circle cx="833.7" cy="234.6" r="5.1" class="c"/>
<circle cx="1053.2" cy="450.3" r="5.1" class="c"/>
<circle cx="1124.2" cy="429.0" r="5.1" class="c"/>
<circle cx="906.5" cy="418.4" r="5.1" class="c"/>
<circle cx="953.2" cy="407.8" r="5.1" class="c"/>
<circle cx="1053.6" cy="347.9" r="5.1" class="c"/>
<circle cx="791.2" cy="462.5" r="5.1" class="c"/>
<circle cx="803.2" cy="316.1" r="5.1" class="c"/>
<circle cx="789.6" cy="350.7" r="5.1" class="o"/>
<circle cx="1137.4" cy="381.4" r="5.1" class="c"/>
<circle cx="981.4" cy="453.7" r="5.1" class="c"/>
<circle cx="836.8" cy="400.0" r="5.1" class="o"/>
<circle cx="1132.1" cy="330.3" r="5.1" class="c"/>
<circle cx="799.4" cy="315.1" r="5.1" class="o"/>
<circle cx="843.3" cy="339.4" r="5.1" class="o"/>
<circle cx="887.8" cy="111.3" r="5.1" class="c"/>
<circle cx="874.3" cy="423.6" r="5.1" class="c"/>
<circle cx="857.1" cy="394.6" r="5.1" class="c"/>
<circle cx="765.5" cy="317.5" r="5.1" class="c"/>
<circle cx="1002.5" cy="385.8" r="5.1" class="c"/>
<circle cx="1034.3" cy="329.4" r="5.1" class="c"/>
<circle cx="955.1" cy="133.1" r="5.1" class="c"/>
<circle cx="858.2" cy="346.4" r="5.1" class="c"/>
<circle cx="912.6" cy="426.3" r="5.1" class="c"/>
<circle cx="777.8" cy="488.6" r="5.1" class="c"/>
<circle cx="970.7" cy="497.3" r="5.1" class="c"/>
<circle cx="1012.2" cy="273.7" r="5.1" class="c"/>
<circle cx="867.8" cy="268.8" r="5.1" class="c"/>
<circle cx="773.0" cy="402.9" r="5.1" class="o"/>
<circle cx="795.0" cy="359.3" r="5.1" class="c"/>
<circle cx="787.5" cy="424.6" r="5.1" class="o"/>
<circle cx="794.6" cy="440.4" r="5.1" class="c"/>
<circle cx="780.0" cy="397.9" r="5.1" class="o"/>
<circle cx="795.0" cy="313.2" r="5.1" class="o"/>
<circle cx="851.5" cy="445.1" r="5.1" class="c"/>
<circle cx="797.3" cy="524.1" r="5.1" class="c"/>
<circle cx="849.5" cy="436.4" r="5.1" class="o"/>
<circle cx="947.9" cy="323.2" r="5.1" class="c"/>
<circle cx="847.5" cy="532.1" r="5.1" class="c"/>
<circle cx="875.4" cy="253.6" r="5.1" class="o"/>
<circle cx="886.1" cy="408.6" r="5.1" class="c"/>
<circle cx="1081.8" cy="362.0" r="5.1" class="c"/>
<circle cx="870.0" cy="368.9" r="5.1" class="o"/>
<circle cx="777.2" cy="407.3" r="5.1" class="c"/>
<circle cx="976.6" cy="247.3" r="5.1" class="c"/>
<circle cx="835.5" cy="350.5" r="5.1" class="o"/>
<circle cx="785.3" cy="373.0" r="5.1" class="o"/>
<circle cx="820.7" cy="365.7" r="5.1" class="o"/>
<circle cx="843.2" cy="365.7" r="5.1" class="o"/>
<circle cx="827.5" cy="410.6" r="5.1" class="o"/>
<circle cx="898.4" cy="467.8" r="5.1" class="c"/>
<circle cx="828.0" cy="236.5" r="5.1" class="o"/>
<circle cx="773.4" cy="382.9" r="5.1" class="o"/>
<circle cx="902.4" cy="477.9" r="5.1" class="c"/>
<circle cx="820.7" cy="326.1" r="5.1" class="c"/>
<circle cx="940.9" cy="247.9" r="5.1" class="c"/>
<circle cx="1029.0" cy="362.9" r="5.1" class="c"/>
<circle cx="827.0" cy="419.5" r="5.1" class="c"/>
<circle cx="960.2" cy="399.0" r="5.1" class="c"/>
<circle cx="973.2" cy="256.0" r="5.1" class="c"/>
<circle cx="832.5" cy="383.9" r="5.1" class="o"/>
<circle cx="925.0" cy="367.3" r="5.1" class="c"/>
<circle cx="912.4" cy="146.8" r="5.1" class="c"/>
<circle cx="829.3" cy="360.4" r="5.1" class="o"/>
<circle cx="791.5" cy="343.1" r="5.1" class="o"/>
<circle cx="788.6" cy="363.6" r="5.1" class="o"/>
<circle cx="867.6" cy="441.7" r="5.1" class="c"/>
<circle cx="851.8" cy="418.2" r="5.1" class="c"/>
<circle cx="802.0" cy="371.4" r="5.1" class="c"/>
<circle cx="844.1" cy="538.8" r="5.1" class="c"/>
<circle cx="789.9" cy="430.4" r="5.1" class="c"/>
<circle cx="923.2" cy="385.8" r="5.1" class="c"/>
<circle cx="850.5" cy="355.9" r="5.1" class="c"/>
<circle cx="790.7" cy="311.1" r="5.1" class="o"/>
<circle cx="834.8" cy="464.5" r="5.1" class="c"/>
<circle cx="838.5" cy="425.4" r="5.1" class="o"/>
<circle cx="969.3" cy="252.7" r="5.1" class="c"/>
<circle cx="802.4" cy="258.7" r="5.1" class="c"/>
<circle cx="1057.2" cy="420.2" r="5.1" class="c"/>
<circle cx="812.7" cy="435.7" r="5.1" class="c"/>
<circle cx="1003.4" cy="335.5" r="5.1" class="c"/>
<circle cx="895.7" cy="398.9" r="5.1" class="c"/>
<circle cx="801.5" cy="301.2" r="5.1" class="o"/>
<circle cx="1041.6" cy="440.7" r="5.1" class="c"/>
<circle cx="822.3" cy="261.2" r="5.1" class="c"/>
<circle cx="944.4" cy="351.4" r="5.1" class="c"/>
<circle cx="966.7" cy="508.7" r="5.1" class="c"/>
<circle cx="803.0" cy="287.5" r="5.1" class="c"/>
<circle cx="839.3" cy="398.3" r="5.1" class="c"/>
<circle cx="1021.9" cy="393.7" r="5.1" class="c"/>
<circle cx="857.1" cy="381.8" r="5.1" class="o"/>
<circle cx="810.0" cy="443.1" r="5.1" class="c"/>
<circle cx="882.9" cy="312.1" r="5.1" class="o"/>
<circle cx="790.7" cy="323.9" r="5.1" class="o"/>
<circle cx="864.2" cy="500.0" r="5.1" class="c"/>
<circle cx="773.1" cy="430.7" r="5.1" class="o"/>
<circle cx="851.4" cy="394.4" r="5.1" class="c"/>
<circle cx="909.1" cy="372.6" r="5.1" class="c"/>
<circle cx="1018.4" cy="372.6" r="5.1" class="c"/>
<circle cx="876.9" cy="467.8" r="5.1" class="c"/>
<circle cx="833.7" cy="268.8" r="5.1" class="c"/>
<circle cx="1077.4" cy="416.6" r="5.1" class="c"/>
<circle cx="861.2" cy="221.9" r="5.1" class="c"/>
<circle cx="799.3" cy="394.6" r="5.1" class="o"/>
<circle cx="1028.1" cy="343.5" r="5.1" class="c"/>
<circle cx="797.0" cy="426.7" r="5.1" class="o"/>
<circle cx="835.6" cy="279.2" r="5.1" class="o"/>
<circle cx="790.0" cy="327.1" r="5.1" class="o"/>
<circle cx="949.2" cy="462.5" r="5.1" class="c"/>
<circle cx="1045.7" cy="209.5" r="5.1" class="c"/>
<circle cx="792.9" cy="391.4" r="5.1" class="o"/>
<circle cx="1066.0" cy="339.9" r="5.1" class="c"/>
<circle cx="836.6" cy="360.3" r="5.1" class="c"/>
<circle cx="843.2" cy="251.7" r="5.1" class="c"/>
<circle cx="1071.3" cy="384.9" r="5.1" class="c"/>
<circle cx="836.0" cy="435.5" r="5.1" class="c"/>
<circle cx="960.2" cy="344.4" r="5.1" class="c"/>
<circle cx="930.5" cy="439.1" r="5.1" class="c"/>
<circle cx="847.5" cy="350.7" r="5.1" class="o"/>
<circle cx="1111.3" cy="451.7" r="5.1" class="c"/>
<circle cx="1000.8" cy="360.2" r="5.1" class="c"/>
<circle cx="1080.1" cy="329.4" r="5.1" class="c"/>
<circle cx="895.7" cy="378.6" r="5.1" class="c"/>
<circle cx="900.3" cy="385.8" r="5.1" class="c"/>
<circle cx="850.7" cy="275.4" r="5.1" class="c"/>
<circle cx="877.5" cy="356.1" r="5.1" class="c"/>
<circle cx="918.4" cy="492.6" r="5.1" class="c"/>
<circle cx="817.4" cy="452.5" r="5.1" class="c"/>
<circle cx="812.9" cy="373.6" r="5.1" class="o"/>
<circle cx="800.3" cy="316.2" r="5.1" class="c"/>
<circle cx="993.7" cy="369.0" r="5.1" class="c"/>
<circle cx="1046.6" cy="393.7" r="5.1" class="c"/>
<circle cx="890.3" cy="431.7" r="5.1" class="c"/>
<circle cx="1049.1" cy="502.2" r="5.1" class="c"/>
<circle cx="774.6" cy="380.5" r="5.1" class="c"/>
<circle cx="999.0" cy="404.3" r="5.1" class="c"/>
<circle cx="993.7" cy="443.5" r="5.1" class="c"/>
<circle cx="811.1" cy="364.1" r="5.1" class="o"/>
<circle cx="786.4" cy="340.0" r="5.1" class="o"/>
<circle cx="878.3" cy="179.6" r="5.1" class="o"/>
<circle cx="875.4" cy="216.6" r="5.1" class="o"/>
<circle cx="784.3" cy="343.8" r="5.1" class="c"/>
<circle cx="930.5" cy="459.1" r="5.1" class="c"/>
<circle cx="843.2" cy="420.4" r="5.1" class="o"/>
<circle cx="833.6" cy="300.4" r="5.1" class="c"/>
<circle cx="790.7" cy="397.9" r="5.1" class="o"/>
<circle cx="947.9" cy="409.6" r="5.1" class="c"/>
<circle cx="852.9" cy="355.0" r="5.1" class="c"/>
<circle cx="795.0" cy="416.1" r="5.1" class="c"/>
<circle cx="1053.2" cy="436.6" r="5.1" class="c"/>
<circle cx="919.7" cy="381.4" r="5.1" class="c"/>
<circle cx="880.7" cy="387.1" r="5.1" class="c"/>
<circle cx="920.0" cy="268.8" r="5.1" class="c"/>
<circle cx="962.0" cy="325.0" r="5.1" class="c"/>
<circle cx="937.7" cy="281.1" r="5.1" class="c"/>
<circle cx="953.3" cy="500.0" r="5.1" class="c"/>
<circle cx="869.3" cy="206.2" r="5.1" class="o"/>
<circle cx="947.9" cy="345.2" r="5.1" class="c"/>
<circle cx="897.9" cy="319.6" r="5.1" class="c"/>
<circle cx="847.0" cy="176.7" r="5.1" class="o"/>
<circle cx="1123.6" cy="431.8" r="5.1" class="c"/>
<circle cx="1129.1" cy="298.3" r="5.1" class="c"/>
<circle cx="1027.2" cy="307.3" r="5.1" class="c"/>
<circle cx="867.8" cy="260.2" r="5.1" class="o"/>
<circle cx="1040.9" cy="430.5" r="5.1" class="c"/>
<circle cx="1042.2" cy="462.6" r="5.1" class="c"/>
<circle cx="1034.0" cy="248.2" r="5.1" class="c"/>
<circle cx="840.3" cy="260.2" r="5.1" class="c"/>
<circle cx="941.7" cy="321.4" r="5.1" class="c"/>
<circle cx="810.6" cy="331.7" r="5.1" class="o"/>
<circle cx="874.5" cy="155.5" r="5.1" class="o"/>
<circle cx="914.4" cy="451.1" r="5.1" class="c"/>
<circle cx="770.4" cy="348.0" r="5.1" class="c"/>
<circle cx="829.6" cy="408.9" r="5.1" class="o"/>
<circle cx="834.6" cy="254.5" r="5.1" class="o"/>
<circle cx="951.3" cy="263.7" r="5.1" class="c"/>
<circle cx="968.0" cy="473.9" r="5.1" class="c"/>
<circle cx="897.9" cy="385.0" r="5.1" class="c"/>
<circle cx="1113.6" cy="409.6" r="5.1" class="c"/>
</g>
<polygon points="757.0,356.9 771.3,358.1 785.5,359.3 799.8,360.4 814.1,361.5 828.3,362.5 842.6,363.4 856.9,364.3 871.1,365.1 885.4,365.8 899.7,366.4 913.9,366.9 928.2,367.4 942.5,367.8 956.7,368.2 971.0,368.5 985.3,368.8 999.5,369.0 1013.8,369.2 1028.1,369.4 1042.3,369.5 1056.6,369.7 1070.9,369.7 1085.1,369.8 1099.4,369.9 1113.7,369.9 1127.9,369.9 1142.2,369.9 1156.5,369.9 1170.7,369.9 1185.0,369.9 1185.0,406.9 1170.7,405.6 1156.5,404.3 1142.2,403.0 1127.9,401.7 1113.7,400.4 1099.4,399.1 1085.1,397.9 1070.9,396.7 1056.6,395.4 1042.3,394.3 1028.1,393.1 1013.8,392.0 999.5,390.9 985.3,389.8 971.0,388.8 956.7,387.8 942.5,386.9 928.2,386.0 913.9,385.2 899.7,384.4 885.4,383.8 871.1,383.1 856.9,382.6 842.6,382.2 828.3,381.8 814.1,381.5 799.8,381.3 785.5,381.1 771.3,381.0 757.0,380.9" fill="#00FFFF" fill-opacity="0.4"/>
<line x1="757" y1="368.9" x2="1185" y2="388.4" stroke="#0000FF" stroke-width="6.6"/>
<polygon points="776.3,377.3 779.8,374.8 783.3,372.3 786.9,369.7 790.4,367.2 793.9,364.6 797.4,362.0 801.0,359.3 804.5,356.7 808.0,353.9 811.5,351.1 815.1,348.2 818.6,345.2 822.1,342.1 825.6,338.9 829.1,335.4 832.7,331.8 836.2,328.1 839.7,324.2 843.2,320.3 846.8,316.3 850.3,312.3 853.8,308.2 857.3,304.1 860.9,300.0 864.4,295.8 867.9,291.7 871.4,287.5 875.0,283.4 878.5,279.2 882.0,275.0 882.0,309.0 878.5,311.3 875.0,313.6 871.4,315.9 867.9,318.3 864.4,320.6 860.9,322.9 857.3,325.3 853.8,327.7 850.3,330.1 846.8,332.6 843.2,335.0 839.7,337.6 836.2,340.2 832.7,343.0 829.1,345.9 825.6,348.9 822.1,352.2 818.6,355.5 815.1,359.0 811.5,362.6 808.0,366.3 804.5,370.0 801.0,373.8 797.4,377.7 793.9,381.6 790.4,385.5 786.9,389.4 783.3,393.4 779.8,397.3 776.3,401.3" fill="#FF8C00" fill-opacity="0.4"/>
<line x1="776.3" y1="389.3" x2="882" y2="292" stroke="#FF0000" stroke-width="6.6"/>
<path d="M735.3,60.6 V562.0 H1207.3" fill="none" stroke="#000" stroke-width="1.4"/>
<line x1="765.2" y1="562.0" x2="765.2" y2="565.2" stroke="#333" stroke-width="1.3"/>
<text x="765.2" y="605.3" font-family="'Liberation Sans', Arial, sans-serif" font-size="36.3" font-weight="normal" font-style="normal" fill="#1e1e1e" text-anchor="middle">0</text>
<line x1="866.0" y1="562.0" x2="866.0" y2="565.2" stroke="#333" stroke-width="1.3"/>
<text x="866.0" y="605.3" font-family="'Liberation Sans', Arial, sans-serif" font-size="36.3" font-weight="normal" font-style="normal" fill="#1e1e1e" text-anchor="middle">5</text>
<line x1="966.9" y1="562.0" x2="966.9" y2="565.2" stroke="#333" stroke-width="1.3"/>
<text x="966.9" y="605.3" font-family="'Liberation Sans', Arial, sans-serif" font-size="36.3" font-weight="normal" font-style="normal" fill="#1e1e1e" text-anchor="middle">10</text>
<line x1="1067.8" y1="562.0" x2="1067.8" y2="565.2" stroke="#333" stroke-width="1.3"/>
<text x="1067.8" y="605.3" font-family="'Liberation Sans', Arial, sans-serif" font-size="36.3" font-weight="normal" font-style="normal" fill="#1e1e1e" text-anchor="middle">15</text>
<line x1="1168.6" y1="562.0" x2="1168.6" y2="565.2" stroke="#333" stroke-width="1.3"/>
<text x="1168.6" y="605.3" font-family="'Liberation Sans', Arial, sans-serif" font-size="36.3" font-weight="normal" font-style="normal" fill="#1e1e1e" text-anchor="middle">20</text>
<line x1="732.1" y1="445.0" x2="735.3" y2="445.0" stroke="#333" stroke-width="1.3"/>
<text x="727.5" y="459.6" font-family="'Liberation Sans', Arial, sans-serif" font-size="36.3" font-weight="normal" font-style="normal" fill="#1e1e1e" text-anchor="end">200</text>
<line x1="732.1" y1="306.1" x2="735.3" y2="306.1" stroke="#333" stroke-width="1.3"/>
<text x="727.5" y="320.8" font-family="'Liberation Sans', Arial, sans-serif" font-size="36.3" font-weight="normal" font-style="normal" fill="#1e1e1e" text-anchor="end">400</text>
<line x1="732.1" y1="167.3" x2="735.3" y2="167.3" stroke="#333" stroke-width="1.3"/>
<text x="727.5" y="181.9" font-family="'Liberation Sans', Arial, sans-serif" font-size="36.3" font-weight="normal" font-style="normal" fill="#1e1e1e" text-anchor="end">600</text>
<g stroke="#000" stroke-width="1.2">
<circle cx="1320.8" cy="439.7" r="5.1" class="o"/>
<circle cx="1317.6" cy="421.4" r="5.1" class="o"/>
<circle cx="1319.0" cy="309.8" r="5.1" class="o"/>
<circle cx="1318.4" cy="345.8" r="5.1" class="o"/>
<circle cx="1317.7" cy="315.2" r="5.1" class="o"/>
<circle cx="1317.9" cy="327.9" r="5.1" class="o"/>
<circle cx="1319.2" cy="385.4" r="5.1" class="o"/>
<circle cx="1319.4" cy="448.7" r="5.1" class="o"/>
<circle cx="1318.7" cy="347.4" r="5.1" class="o"/>
<circle cx="1318.9" cy="272.3" r="5.1" class="o"/>
<circle cx="1320.9" cy="254.6" r="5.1" class="o"/>
<circle cx="1318.4" cy="458.7" r="5.1" class="o"/>
<circle cx="1321.0" cy="266.2" r="5.1" class="o"/>
<circle cx="1319.1" cy="407.1" r="5.1" class="o"/>
<circle cx="1317.8" cy="462.7" r="5.1" class="o"/>
<circle cx="1320.7" cy="351.0" r="5.1" class="o"/>
<circle cx="1320.9" cy="301.3" r="5.1" class="o"/>
<circle cx="1318.3" cy="256.5" r="5.1" class="o"/>
<circle cx="1317.6" cy="299.1" r="5.1" class="o"/>
<circle cx="1319.4" cy="346.2" r="5.1" class="o"/>
<circle cx="1319.3" cy="262.8" r="5.1" class="o"/>
<circle cx="1318.3" cy="416.1" r="5.1" class="o"/>
<circle cx="1321.0" cy="430.6" r="5.1" class="o"/>
<circle cx="1318.6" cy="457.3" r="5.1" class="o"/>
<circle cx="1318.0" cy="329.3" r="5.1" class="o"/>
<circle cx="1320.3" cy="399.1" r="5.1" class="o"/>
<circle cx="1318.5" cy="287.7" r="5.1" class="o"/>
<circle cx="1320.9" cy="391.2" r="5.1" class="o"/>
<circle cx="1320.7" cy="293.9" r="5.1" class="o"/>
<circle cx="1318.8" cy="265.7" r="5.1" class="o"/>
<circle cx="1317.8" cy="340.5" r="5.1" class="o"/>
<circle cx="1320.1" cy="452.2" r="5.1" class="o"/>
<circle cx="1319.5" cy="280.2" r="5.1" class="o"/>
<circle cx="1318.8" cy="433.7" r="5.1" class="o"/>
<circle cx="1319.1" cy="373.5" r="5.1" class="o"/>
<circle cx="1319.7" cy="357.5" r="5.1" class="o"/>
<circle cx="1318.5" cy="440.2" r="5.1" class="o"/>
<circle cx="1320.5" cy="382.1" r="5.1" class="o"/>
<circle cx="1319.6" cy="283.9" r="5.1" class="o"/>
<circle cx="1320.3" cy="303.6" r="5.1" class="o"/>
<circle cx="1319.0" cy="431.1" r="5.1" class="o"/>
<circle cx="1317.8" cy="303.0" r="5.1" class="o"/>
<circle cx="1319.2" cy="376.3" r="5.1" class="o"/>
<circle cx="1319.5" cy="302.2" r="5.1" class="o"/>
<circle cx="1320.4" cy="333.1" r="5.1" class="o"/>
<circle cx="1320.0" cy="278.2" r="5.1" class="o"/>
<circle cx="1318.5" cy="299.4" r="5.1" class="o"/>
<circle cx="1320.9" cy="457.4" r="5.1" class="o"/>
<circle cx="1318.5" cy="265.8" r="5.1" class="o"/>
<circle cx="1317.7" cy="414.8" r="5.1" class="o"/>
<circle cx="1320.2" cy="308.0" r="5.1" class="o"/>
<circle cx="1318.3" cy="427.1" r="5.1" class="o"/>
<circle cx="1318.1" cy="283.1" r="5.1" class="o"/>
<circle cx="1320.5" cy="250.1" r="5.1" class="o"/>
<circle cx="1317.5" cy="445.7" r="5.1" class="o"/>
<circle cx="1338.0" cy="399.3" r="5.1" class="c"/>
<circle cx="1331.6" cy="468.5" r="5.1" class="c"/>
<circle cx="1344.2" cy="317.6" r="5.1" class="c"/>
<circle cx="1362.2" cy="429.5" r="5.1" class="c"/>
<circle cx="1342.1" cy="453.2" r="5.1" class="c"/>
<circle cx="1380.0" cy="398.6" r="5.1" class="c"/>
<circle cx="1381.1" cy="347.1" r="5.1" class="c"/>
<circle cx="1431.2" cy="402.9" r="5.1" class="c"/>
<circle cx="1362.2" cy="465.8" r="5.1" class="c"/>
<circle cx="1364.1" cy="374.6" r="5.1" class="c"/>
<circle cx="1334.4" cy="380.3" r="5.1" class="c"/>
<circle cx="1404.5" cy="356.9" r="5.1" class="c"/>
<circle cx="1329.9" cy="293.4" r="5.1" class="c"/>
<circle cx="1361.0" cy="216.7" r="5.1" class="c"/>
<circle cx="1321.7" cy="476.7" r="5.1" class="c"/>
<circle cx="1381.4" cy="368.0" r="5.1" class="c"/>
<circle cx="1373.3" cy="382.1" r="5.1" class="c"/>
<circle cx="1356.0" cy="435.0" r="5.1" class="c"/>
<circle cx="1403.9" cy="393.8" r="5.1" class="c"/>
<circle cx="1347.5" cy="415.0" r="5.1" class="c"/>
<circle cx="1364.5" cy="340.6" r="5.1" class="c"/>
<circle cx="1335.6" cy="368.0" r="5.1" class="c"/>
<circle cx="1333.0" cy="332.0" r="5.1" class="c"/>
<circle cx="1339.0" cy="223.5" r="5.1" class="c"/>
<circle cx="1353.6" cy="334.2" r="5.1" class="c"/>
<circle cx="1407.6" cy="402.9" r="5.1" class="c"/>
<circle cx="1327.6" cy="146.9" r="5.1" class="c"/>
<circle cx="1354.1" cy="293.5" r="5.1" class="c"/>
<circle cx="1330.3" cy="411.8" r="5.1" class="c"/>
<circle cx="1348.4" cy="316.1" r="5.1" class="c"/>
<circle cx="1342.6" cy="421.0" r="5.1" class="c"/>
<circle cx="1357.0" cy="353.1" r="5.1" class="c"/>
<circle cx="1318.6" cy="438.2" r="5.1" class="o"/>
<circle cx="1331.7" cy="497.8" r="5.1" class="o"/>
<circle cx="1327.7" cy="455.2" r="5.1" class="c"/>
<circle cx="1359.3" cy="342.8" r="5.1" class="c"/>
<circle cx="1377.2" cy="419.0" r="5.1" class="c"/>
<circle cx="1543.4" cy="345.9" r="5.1" class="c"/>
<circle cx="1358.2" cy="450.5" r="5.1" class="c"/>
<circle cx="1360.2" cy="312.0" r="5.1" class="c"/>
<circle cx="1346.3" cy="215.5" r="5.1" class="c"/>
<circle cx="1713.6" cy="383.3" r="5.1" class="c"/>
<circle cx="1386.6" cy="425.1" r="5.1" class="c"/>
<circle cx="1380.1" cy="413.3" r="5.1" class="c"/>
<circle cx="1355.0" cy="382.9" r="5.1" class="c"/>
<circle cx="1377.2" cy="472.4" r="5.1" class="c"/>
<circle cx="1375.7" cy="321.3" r="5.1" class="c"/>
<circle cx="1393.4" cy="364.9" r="5.1" class="c"/>
<circle cx="1383.4" cy="352.2" r="5.1" class="c"/>
<circle cx="1343.0" cy="327.4" r="5.1" class="c"/>
<circle cx="1384.2" cy="305.9" r="5.1" class="c"/>
<circle cx="1383.7" cy="390.7" r="5.1" class="c"/>
<circle cx="1338.2" cy="484.0" r="5.1" class="c"/>
<circle cx="1350.3" cy="481.9" r="5.1" class="c"/>
<circle cx="1356.5" cy="288.7" r="5.1" class="c"/>
<circle cx="1356.5" cy="345.9" r="5.1" class="o"/>
<circle cx="1323.9" cy="433.6" r="5.1" class="c"/>
<circle cx="1323.3" cy="329.9" r="5.1" class="o"/>
<circle cx="1335.6" cy="359.4" r="5.1" class="c"/>
<circle cx="1359.0" cy="392.6" r="5.1" class="c"/>
<circle cx="1326.7" cy="416.0" r="5.1" class="c"/>
<circle cx="1353.4" cy="355.3" r="5.1" class="c"/>
<circle cx="1352.8" cy="318.8" r="5.1" class="c"/>
<circle cx="1340.2" cy="201.5" r="5.1" class="c"/>
<circle cx="1384.0" cy="472.2" r="5.1" class="c"/>
<circle cx="1349.1" cy="374.5" r="5.1" class="c"/>
<circle cx="1338.6" cy="327.2" r="5.1" class="c"/>
<circle cx="1315.9" cy="318.8" r="5.1" class="o"/>
<circle cx="1359.3" cy="426.8" r="5.1" class="c"/>
<circle cx="1368.5" cy="217.9" r="5.1" class="c"/>
<circle cx="1331.8" cy="322.0" r="5.1" class="c"/>
<circle cx="1344.1" cy="479.6" r="5.1" class="c"/>
<circle cx="1356.3" cy="478.2" r="5.1" class="c"/>
<circle cx="1350.5" cy="486.2" r="5.1" class="c"/>
<circle cx="1325.3" cy="228.1" r="5.1" class="c"/>
<circle cx="1316.5" cy="361.9" r="5.1" class="o"/>
<circle cx="1358.4" cy="153.3" r="5.1" class="c"/>
<circle cx="1419.2" cy="339.1" r="5.1" class="c"/>
<circle cx="1363.9" cy="380.7" r="5.1" class="c"/>
<circle cx="1387.3" cy="320.6" r="5.1" class="c"/>
<circle cx="1331.5" cy="432.8" r="5.1" class="c"/>
<circle cx="1361.3" cy="450.4" r="5.1" class="c"/>
<circle cx="1377.8" cy="399.6" r="5.1" class="c"/>
<circle cx="1368.8" cy="382.8" r="5.1" class="c"/>
<circle cx="1431.5" cy="336.0" r="5.1" class="c"/>
<circle cx="1330.2" cy="418.5" r="5.1" class="c"/>
<circle cx="1338.7" cy="286.8" r="5.1" class="c"/>
<circle cx="1355.1" cy="406.3" r="5.1" class="c"/>
<circle cx="1350.8" cy="316.7" r="5.1" class="c"/>
<circle cx="1333.3" cy="350.6" r="5.1" class="c"/>
<circle cx="1340.8" cy="491.9" r="5.1" class="c"/>
<circle cx="1361.2" cy="409.1" r="5.1" class="c"/>
<circle cx="1317.0" cy="173.9" r="5.1" class="o"/>
<circle cx="1317.7" cy="241.0" r="5.1" class="o"/>
<circle cx="1333.7" cy="483.2" r="5.1" class="c"/>
<circle cx="1345.2" cy="260.6" r="5.1" class="c"/>
<circle cx="1326.0" cy="397.6" r="5.1" class="c"/>
<circle cx="1366.6" cy="341.9" r="5.1" class="c"/>
<circle cx="1329.4" cy="304.0" r="5.1" class="c"/>
<circle cx="1335.6" cy="277.6" r="5.1" class="c"/>
<circle cx="1335.6" cy="299.7" r="5.1" class="c"/>
<circle cx="1336.9" cy="468.3" r="5.1" class="c"/>
<circle cx="1442.9" cy="408.1" r="5.1" class="c"/>
<circle cx="1332.6" cy="460.2" r="5.1" class="c"/>
<circle cx="1352.3" cy="428.5" r="5.1" class="c"/>
<circle cx="1333.7" cy="340.2" r="5.1" class="c"/>
<circle cx="1340.5" cy="144.7" r="5.1" class="c"/>
<circle cx="1387.3" cy="371.7" r="5.1" class="c"/>
<circle cx="1333.7" cy="231.9" r="5.1" class="c"/>
<circle cx="1354.1" cy="184.9" r="5.1" class="c"/>
<circle cx="1363.9" cy="375.4" r="5.1" class="c"/>
<circle cx="1371.6" cy="496.3" r="5.1" class="c"/>
<circle cx="1347.7" cy="410.4" r="5.1" class="c"/>
<circle cx="1342.6" cy="379.0" r="5.1" class="c"/>
<circle cx="1328.4" cy="420.5" r="5.1" class="o"/>
<circle cx="1399.7" cy="456.5" r="5.1" class="c"/>
<circle cx="1352.5" cy="338.7" r="5.1" class="c"/>
<circle cx="1382.7" cy="408.1" r="5.1" class="c"/>
<circle cx="1516.3" cy="377.2" r="5.1" class="c"/>
<circle cx="1416.2" cy="349.6" r="5.1" class="c"/>
<circle cx="1346.9" cy="401.2" r="5.1" class="c"/>
<circle cx="1326.8" cy="204.3" r="5.1" class="c"/>
<circle cx="1379.9" cy="332.3" r="5.1" class="c"/>
<circle cx="1377.7" cy="397.8" r="5.1" class="c"/>
<circle cx="1531.1" cy="415.3" r="5.1" class="c"/>
<circle cx="1356.4" cy="469.3" r="5.1" class="c"/>
<circle cx="1367.4" cy="477.5" r="5.1" class="c"/>
<circle cx="1324.4" cy="362.9" r="5.1" class="c"/>
<circle cx="1342.4" cy="493.0" r="5.1" class="c"/>
<circle cx="1386.6" cy="388.7" r="5.1" class="c"/>
<circle cx="1347.9" cy="259.0" r="5.1" class="c"/>
<circle cx="1339.3" cy="474.4" r="5.1" class="c"/>
<circle cx="1315.9" cy="413.3" r="5.1" class="o"/>
<circle cx="1327.0" cy="284.4" r="5.1" class="o"/>
<circle cx="1372.2" cy="482.7" r="5.1" class="c"/>
<circle cx="1360.5" cy="481.4" r="5.1" class="c"/>
<circle cx="1317.1" cy="336.0" r="5.1" class="o"/>
<circle cx="1569.7" cy="419.2" r="5.1" class="c"/>
<circle cx="1358.3" cy="480.8" r="5.1" class="c"/>
<circle cx="1393.4" cy="269.6" r="5.1" class="c"/>
<circle cx="1323.4" cy="369.6" r="5.1" class="c"/>
<circle cx="1315.9" cy="347.1" r="5.1" class="o"/>
<circle cx="1343.3" cy="400.2" r="5.1" class="c"/>
<circle cx="1416.8" cy="368.0" r="5.1" class="c"/>
<circle cx="1349.6" cy="178.0" r="5.1" class="c"/>
<circle cx="1386.7" cy="364.4" r="5.1" class="c"/>
<circle cx="1355.4" cy="482.4" r="5.1" class="c"/>
<circle cx="1434.6" cy="377.8" r="5.1" class="c"/>
<circle cx="1342.2" cy="293.1" r="5.1" class="c"/>
<circle cx="1342.0" cy="227.3" r="5.1" class="c"/>
<circle cx="1335.2" cy="142.4" r="5.1" class="c"/>
<circle cx="1350.0" cy="439.3" r="5.1" class="c"/>
<circle cx="1327.6" cy="267.1" r="5.1" class="c"/>
<circle cx="1346.2" cy="334.4" r="5.1" class="c"/>
<circle cx="1363.6" cy="442.5" r="5.1" class="c"/>
<circle cx="1353.4" cy="418.1" r="5.1" class="c"/>
<circle cx="1469.0" cy="308.3" r="5.1" class="c"/>
<circle cx="1355.4" cy="327.3" r="5.1" class="c"/>
<circle cx="1363.1" cy="293.1" r="5.1" class="c"/>
<circle cx="1337.7" cy="399.7" r="5.1" class="c"/>
<circle cx="1402.4" cy="426.4" r="5.1" class="c"/>
<circle cx="1365.1" cy="395.7" r="5.1" class="c"/>
<circle cx="1342.1" cy="352.2" r="5.1" class="c"/>
<circle cx="1350.1" cy="416.8" r="5.1" class="c"/>
<circle cx="1341.5" cy="286.7" r="5.1" class="c"/>
<circle cx="1318.6" cy="512.8" r="5.1" class="o"/>
<circle cx="1373.6" cy="427.7" r="5.1" class="c"/>
<circle cx="1366.0" cy="92.4" r="5.1" class="c"/>
<circle cx="1317.1" cy="277.0" r="5.1" class="o"/>
<circle cx="1491.5" cy="499.0" r="5.1" class="c"/>
<circle cx="1325.0" cy="131.0" r="5.1" class="c"/>
<circle cx="1398.3" cy="265.9" r="5.1" class="c"/>
<circle cx="1419.4" cy="453.9" r="5.1" class="c"/>
<circle cx="1353.9" cy="427.7" r="5.1" class="c"/>
<circle cx="1383.1" cy="324.6" r="5.1" class="c"/>
<circle cx="1389.3" cy="455.2" r="5.1" class="c"/>
<circle cx="1376.9" cy="481.3" r="5.1" class="c"/>
<circle cx="1391.9" cy="460.5" r="5.1" class="c"/>
<circle cx="1377.4" cy="470.1" r="5.1" class="c"/>
<circle cx="1347.9" cy="384.0" r="5.1" class="c"/>
<circle cx="1318.4" cy="386.5" r="5.1" class="o"/>
<circle cx="1447.5" cy="372.9" r="5.1" class="c"/>
<circle cx="1360.8" cy="313.7" r="5.1" class="c"/>
<circle cx="1339.5" cy="278.1" r="5.1" class="c"/>
<circle cx="1319.3" cy="165.1" r="5.1" class="c"/>
<circle cx="1440.3" cy="425.8" r="5.1" class="c"/>
<circle cx="1419.2" cy="329.9" r="5.1" class="c"/>
<circle cx="1344.2" cy="349.6" r="5.1" class="c"/>
<circle cx="1336.4" cy="457.6" r="5.1" class="c"/>
<circle cx="1376.1" cy="310.6" r="5.1" class="c"/>
<circle cx="1335.6" cy="392.6" r="5.1" class="c"/>
<circle cx="1373.6" cy="491.9" r="5.1" class="c"/>
<circle cx="1502.6" cy="355.8" r="5.1" class="c"/>
<circle cx="1368.8" cy="257.3" r="5.1" class="c"/>
<circle cx="1346.6" cy="419.6" r="5.1" class="c"/>
<circle cx="1327.8" cy="405.6" r="5.1" class="c"/>
<circle cx="1338.0" cy="341.6" r="5.1" class="c"/>
<circle cx="1346.0" cy="277.6" r="5.1" class="c"/>
<circle cx="1446.9" cy="483.4" r="5.1" class="c"/>
<circle cx="1358.9" cy="410.9" r="5.1" class="c"/>
<circle cx="1406.9" cy="446.1" r="5.1" class="c"/>
<circle cx="1357.6" cy="430.6" r="5.1" class="c"/>
<circle cx="1364.9" cy="419.7" r="5.1" class="c"/>
<circle cx="1350.0" cy="495.8" r="5.1" class="c"/>
<circle cx="1336.4" cy="418.5" r="5.1" class="c"/>
<circle cx="1357.5" cy="413.8" r="5.1" class="c"/>
<circle cx="1315.9" cy="355.7" r="5.1" class="o"/>
<circle cx="1350.7" cy="471.2" r="5.1" class="c"/>
<circle cx="1332.6" cy="378.9" r="5.1" class="c"/>
<circle cx="1347.3" cy="109.8" r="5.1" class="c"/>
<circle cx="1342.0" cy="125.7" r="5.1" class="c"/>
<circle cx="1379.2" cy="431.9" r="5.1" class="c"/>
<circle cx="1327.9" cy="269.7" r="5.1" class="c"/>
<circle cx="1333.1" cy="345.9" r="5.1" class="c"/>
<circle cx="1355.4" cy="329.1" r="5.1" class="c"/>
<circle cx="1363.9" cy="353.2" r="5.1" class="c"/>
<circle cx="1461.3" cy="463.7" r="5.1" class="c"/>
<circle cx="1431.5" cy="317.6" r="5.1" class="c"/>
<circle cx="1323.4" cy="434.2" r="5.1" class="c"/>
<circle cx="1363.1" cy="412.0" r="5.1" class="c"/>
<circle cx="1317.1" cy="289.9" r="5.1" class="o"/>
<circle cx="1337.6" cy="388.7" r="5.1" class="c"/>
<circle cx="1317.1" cy="368.0" r="5.1" class="o"/>
<circle cx="1386.6" cy="451.3" r="5.1" class="c"/>
<circle cx="1322.4" cy="339.7" r="5.1" class="c"/>
<circle cx="1429.2" cy="423.8" r="5.1" class="c"/>
<circle cx="1346.7" cy="395.1" r="5.1" class="c"/>
<circle cx="1373.1" cy="343.9" r="5.1" class="c"/>
<circle cx="1353.8" cy="143.2" r="5.1" class="c"/>
<circle cx="1342.8" cy="243.7" r="5.1" class="c"/>
<circle cx="1319.9" cy="446.7" r="5.1" class="o"/>
<circle cx="1365.1" cy="338.5" r="5.1" class="c"/>
<circle cx="1332.8" cy="435.6" r="5.1" class="c"/>
<circle cx="1360.7" cy="391.1" r="5.1" class="c"/>
<circle cx="1446.9" cy="439.5" r="5.1" class="c"/>
<circle cx="1361.8" cy="461.8" r="5.1" class="c"/>
<circle cx="1322.3" cy="232.6" r="5.1" class="o"/>
<circle cx="1317.8" cy="395.1" r="5.1" class="o"/>
<circle cx="1406.3" cy="438.2" r="5.1" class="c"/>
<circle cx="1381.1" cy="363.1" r="5.1" class="c"/>
<circle cx="1440.3" cy="466.4" r="5.1" class="c"/>
<circle cx="1366.9" cy="493.3" r="5.1" class="c"/>
<circle cx="1378.8" cy="476.2" r="5.1" class="c"/>
<circle cx="1363.4" cy="399.6" r="5.1" class="c"/>
<circle cx="1390.1" cy="320.3" r="5.1" class="c"/>
<circle cx="1404.5" cy="318.8" r="5.1" class="c"/>
<circle cx="1315.3" cy="390.1" r="5.1" class="o"/>
<circle cx="1383.6" cy="387.7" r="5.1" class="c"/>
<circle cx="1477.0" cy="461.8" r="5.1" class="c"/>
<circle cx="1370.8" cy="406.8" r="5.1" class="c"/>
<circle cx="1435.8" cy="363.1" r="5.1" class="c"/>
<circle cx="1359.8" cy="339.3" r="5.1" class="c"/>
<circle cx="1322.5" cy="343.1" r="5.1" class="c"/>
<circle cx="1328.4" cy="433.0" r="5.1" class="c"/>
<circle cx="1347.0" cy="329.2" r="5.1" class="c"/>
<circle cx="1335.6" cy="423.8" r="5.1" class="c"/>
<circle cx="1478.3" cy="339.7" r="5.1" class="c"/>
<circle cx="1471.1" cy="474.9" r="5.1" class="c"/>
<circle cx="1347.9" cy="392.6" r="5.1" class="c"/>
<circle cx="1353.7" cy="413.3" r="5.1" class="c"/>
<circle cx="1322.3" cy="160.6" r="5.1" class="c"/>
<circle cx="1375.9" cy="467.1" r="5.1" class="c"/>
<circle cx="1331.3" cy="356.6" r="5.1" class="c"/>
<circle cx="1400.8" cy="343.4" r="5.1" class="c"/>
<circle cx="1448.8" cy="368.0" r="5.1" class="c"/>
<circle cx="1334.3" cy="436.1" r="5.1" class="c"/>
<circle cx="1450.6" cy="307.1" r="5.1" class="c"/>
<circle cx="1361.2" cy="439.5" r="5.1" class="c"/>
<circle cx="1350.6" cy="308.9" r="5.1" class="c"/>
<circle cx="1317.1" cy="377.8" r="5.1" class="o"/>
<circle cx="1319.9" cy="463.7" r="5.1" class="o"/>
<circle cx="1491.5" cy="435.0" r="5.1" class="c"/>
<circle cx="1745.6" cy="385.3" r="5.1" class="c"/>
<circle cx="1430.3" cy="371.7" r="5.1" class="c"/>
<circle cx="1317.3" cy="469.6" r="5.1" class="c"/>
<circle cx="1358.6" cy="443.6" r="5.1" class="c"/>
<circle cx="1351.3" cy="477.5" r="5.1" class="c"/>
<circle cx="1514.9" cy="343.5" r="5.1" class="c"/>
<circle cx="1326.4" cy="395.1" r="5.1" class="c"/>
<circle cx="1316.2" cy="244.0" r="5.1" class="o"/>
<circle cx="1317.1" cy="251.2" r="5.1" class="o"/>
<circle cx="1362.8" cy="353.8" r="5.1" class="c"/>
<circle cx="1527.2" cy="453.0" r="5.1" class="c"/>
<circle cx="1372.5" cy="301.6" r="5.1" class="c"/>
<circle cx="1374.3" cy="441.2" r="5.1" class="c"/>
<circle cx="1590.6" cy="398.1" r="5.1" class="c"/>
<circle cx="1390.6" cy="422.2" r="5.1" class="c"/>
<circle cx="1325.9" cy="268.3" r="5.1" class="c"/>
<circle cx="1490.3" cy="260.3" r="5.1" class="c"/>
<circle cx="1351.6" cy="340.3" r="5.1" class="c"/>
<circle cx="1327.0" cy="380.3" r="5.1" class="c"/>
<circle cx="1368.7" cy="477.5" r="5.1" class="c"/>
<circle cx="1359.3" cy="372.5" r="5.1" class="c"/>
<circle cx="1352.2" cy="327.4" r="5.1" class="c"/>
<circle cx="1318.5" cy="213.4" r="5.1" class="o"/>
<circle cx="1317.1" cy="300.4" r="5.1" class="o"/>
<circle cx="1318.6" cy="499.7" r="5.1" class="c"/>
<circle cx="1427.9" cy="470.3" r="5.1" class="c"/>
<circle cx="1343.7" cy="494.4" r="5.1" class="c"/>
<circle cx="1431.8" cy="525.9" r="5.1" class="c"/>
<circle cx="1334.8" cy="472.3" r="5.1" class="c"/>
<circle cx="1354.0" cy="296.7" r="5.1" class="c"/>
<circle cx="1361.9" cy="421.0" r="5.1" class="c"/>
<circle cx="1359.4" cy="437.5" r="5.1" class="c"/>
<circle cx="1320.3" cy="408.1" r="5.1" class="c"/>
<circle cx="1383.6" cy="265.9" r="5.1" class="c"/>
<circle cx="1332.5" cy="472.6" r="5.1" class="c"/>
<circle cx="1373.7" cy="315.1" r="5.1" class="c"/>
<circle cx="1359.5" cy="348.9" r="5.1" class="c"/>
<circle cx="1324.4" cy="295.2" r="5.1" class="c"/>
<circle cx="1324.1" cy="443.8" r="5.1" class="c"/>
<circle cx="1357.2" cy="247.0" r="5.1" class="c"/>
<circle cx="1329.1" cy="160.9" r="5.1" class="c"/>
<circle cx="1339.5" cy="476.2" r="5.1" class="c"/>
<circle cx="1340.5" cy="269.6" r="5.1" class="c"/>
<circle cx="1491.0" cy="412.4" r="5.1" class="c"/>
<circle cx="1329.5" cy="364.2" r="5.1" class="c"/>
<circle cx="1337.5" cy="82.5" r="5.1" class="c"/>
<circle cx="1351.6" cy="264.7" r="5.1" class="c"/>
<circle cx="1352.6" cy="227.6" r="5.1" class="c"/>
<circle cx="1341.9" cy="298.3" r="5.1" class="c"/>
<circle cx="1355.3" cy="285.0" r="5.1" class="c"/>
<circle cx="1335.6" cy="336.0" r="5.1" class="c"/>
<circle cx="1411.5" cy="415.3" r="5.1" class="c"/>
<circle cx="1412.5" cy="326.2" r="5.1" class="c"/>
<circle cx="1387.5" cy="247.8" r="5.1" class="c"/>
<circle cx="1356.5" cy="374.2" r="5.1" class="c"/>
<circle cx="1340.6" cy="325.2" r="5.1" class="c"/>
<circle cx="1359.1" cy="294.9" r="5.1" class="c"/>
<circle cx="1371.4" cy="349.2" r="5.1" class="c"/>
<circle cx="1352.8" cy="271.4" r="5.1" class="c"/>
<circle cx="1373.6" cy="461.8" r="5.1" class="c"/>
<circle cx="1363.1" cy="448.7" r="5.1" class="c"/>
<circle cx="1323.1" cy="327.5" r="5.1" class="c"/>
<circle cx="1360.3" cy="304.6" r="5.1" class="c"/>
<circle cx="1344.8" cy="365.6" r="5.1" class="c"/>
<circle cx="1370.5" cy="358.7" r="5.1" class="c"/>
<circle cx="1372.3" cy="229.1" r="5.1" class="c"/>
<circle cx="1350.6" cy="293.4" r="5.1" class="c"/>
<circle cx="1352.2" cy="411.6" r="5.1" class="c"/>
<circle cx="1315.9" cy="452.6" r="5.1" class="o"/>
<circle cx="1332.8" cy="340.4" r="5.1" class="c"/>
<circle cx="1341.7" cy="306.8" r="5.1" class="c"/>
<circle cx="1327.0" cy="328.6" r="5.1" class="o"/>
<circle cx="1361.4" cy="417.2" r="5.1" class="c"/>
<circle cx="1333.0" cy="486.6" r="5.1" class="c"/>
<circle cx="1487.3" cy="413.6" r="5.1" class="c"/>
<circle cx="1376.4" cy="478.9" r="5.1" class="c"/>
<circle cx="1330.8" cy="468.6" r="5.1" class="c"/>
<circle cx="1332.6" cy="113.6" r="5.1" class="c"/>
<circle cx="1334.4" cy="350.8" r="5.1" class="c"/>
<circle cx="1325.8" cy="353.2" r="5.1" class="c"/>
<circle cx="1392.2" cy="356.9" r="5.1" class="c"/>
<circle cx="1362.4" cy="517.4" r="5.1" class="c"/>
<circle cx="1345.0" cy="131.0" r="5.1" class="c"/>
<circle cx="1469.7" cy="376.0" r="5.1" class="c"/>
<circle cx="1359.3" cy="417.3" r="5.1" class="c"/>
<circle cx="1356.9" cy="413.3" r="5.1" class="c"/>
<circle cx="1346.7" cy="433.9" r="5.1" class="c"/>
<circle cx="1371.3" cy="356.9" r="5.1" class="c"/>
<circle cx="1317.7" cy="204.3" r="5.1" class="o"/>
<circle cx="1357.3" cy="482.9" r="5.1" class="c"/>
<circle cx="1467.2" cy="370.5" r="5.1" class="c"/>
<circle cx="1361.8" cy="491.9" r="5.1" class="c"/>
<circle cx="1343.9" cy="345.4" r="5.1" class="c"/>
<circle cx="1330.3" cy="468.3" r="5.1" class="c"/>
<circle cx="1368.3" cy="419.2" r="5.1" class="c"/>
<circle cx="1335.0" cy="366.9" r="5.1" class="c"/>
<circle cx="1350.4" cy="316.9" r="5.1" class="c"/>
<circle cx="1339.5" cy="345.4" r="5.1" class="c"/>
<circle cx="1395.8" cy="405.5" r="5.1" class="c"/>
<circle cx="1321.4" cy="325.0" r="5.1" class="c"/>
<circle cx="1341.7" cy="379.1" r="5.1" class="c"/>
<circle cx="1376.2" cy="450.0" r="5.1" class="c"/>
<circle cx="1318.2" cy="464.8" r="5.1" class="c"/>
<circle cx="1344.2" cy="338.5" r="5.1" class="c"/>
<circle cx="1335.5" cy="493.7" r="5.1" class="c"/>
<circle cx="1345.9" cy="368.2" r="5.1" class="c"/>
<circle cx="1381.4" cy="464.4" r="5.1" class="c"/>
<circle cx="1360.5" cy="455.2" r="5.1" class="c"/>
<circle cx="1345.7" cy="474.8" r="5.1" class="c"/>
<circle cx="1342.0" cy="485.2" r="5.1" class="c"/>
<circle cx="1336.8" cy="312.0" r="5.1" class="c"/>
<circle cx="1375.0" cy="426.1" r="5.1" class="c"/>
<circle cx="1352.3" cy="474.7" r="5.1" class="c"/>
<circle cx="1433.4" cy="353.9" r="5.1" class="c"/>
<circle cx="1365.5" cy="237.9" r="5.1" class="c"/>
<circle cx="1352.6" cy="439.5" r="5.1" class="c"/>
<circle cx="1372.6" cy="423.8" r="5.1" class="c"/>
<circle cx="1368.8" cy="348.3" r="5.1" class="c"/>
<circle cx="1317.3" cy="457.2" r="5.1" class="c"/>
<circle cx="1455.4" cy="412.0" r="5.1" class="c"/>
<circle cx="1336.7" cy="145.4" r="5.1" class="c"/>
<circle cx="1334.3" cy="440.2" r="5.1" class="c"/>
<circle cx="1367.6" cy="439.2" r="5.1" class="c"/>
<circle cx="1368.3" cy="474.9" r="5.1" class="c"/>
<circle cx="1333.1" cy="257.0" r="5.1" class="c"/>
<circle cx="1346.7" cy="353.2" r="5.1" class="c"/>
<circle cx="1338.8" cy="387.1" r="5.1" class="c"/>
<circle cx="1336.1" cy="287.3" r="5.1" class="c"/>
<circle cx="1340.4" cy="353.4" r="5.1" class="c"/>
<circle cx="1360.2" cy="434.9" r="5.1" class="c"/>
<circle cx="1330.7" cy="286.8" r="5.1" class="o"/>
<circle cx="1334.7" cy="335.9" r="5.1" class="c"/>
<circle cx="1356.2" cy="317.3" r="5.1" class="c"/>
<circle cx="1332.1" cy="239.4" r="5.1" class="c"/>
<circle cx="1377.6" cy="244.0" r="5.1" class="c"/>
<circle cx="1324.7" cy="447.4" r="5.1" class="c"/>
<circle cx="1332.2" cy="355.4" r="5.1" class="c"/>
<circle cx="1446.9" cy="477.5" r="5.1" class="c"/>
<circle cx="1350.4" cy="368.0" r="5.1" class="c"/>
<circle cx="1330.7" cy="385.2" r="5.1" class="c"/>
<circle cx="1341.1" cy="376.4" r="5.1" class="c"/>
<circle cx="1411.0" cy="243.7" r="5.1" class="c"/>
<circle cx="1440.3" cy="421.2" r="5.1" class="c"/>
<circle cx="1332.4" cy="382.9" r="5.1" class="c"/>
<circle cx="1347.6" cy="469.8" r="5.1" class="c"/>
<circle cx="1318.6" cy="422.5" r="5.1" class="o"/>
<circle cx="1338.2" cy="455.2" r="5.1" class="c"/>
<circle cx="1359.8" cy="356.1" r="5.1" class="c"/>
<circle cx="1329.0" cy="410.1" r="5.1" class="c"/>
<circle cx="1315.9" cy="309.0" r="5.1" class="o"/>
<circle cx="1324.4" cy="451.3" r="5.1" class="c"/>
<circle cx="1337.2" cy="397.4" r="5.1" class="c"/>
<circle cx="1361.2" cy="458.5" r="5.1" class="c"/>
<circle cx="1353.5" cy="288.3" r="5.1" class="c"/>
<circle cx="1318.5" cy="151.8" r="5.1" class="o"/>
<circle cx="1360.8" cy="259.4" r="5.1" class="c"/>
<circle cx="1367.5" cy="205.3" r="5.1" class="c"/>
<circle cx="1368.3" cy="438.2" r="5.1" class="c"/>
<circle cx="1471.1" cy="531.8" r="5.1" class="c"/>
<circle cx="1378.2" cy="409.2" r="5.1" class="c"/>
<circle cx="1379.9" cy="325.0" r="5.1" class="c"/>
<circle cx="1353.5" cy="413.6" r="5.1" class="c"/>
<circle cx="1336.4" cy="474.5" r="5.1" class="c"/>
<circle cx="1325.8" cy="338.5" r="5.1" class="c"/>
<circle cx="1376.2" cy="435.6" r="5.1" class="c"/>
<circle cx="1314.6" cy="429.0" r="5.1" class="o"/>
<circle cx="1387.3" cy="307.3" r="5.1" class="c"/>
<circle cx="1323.1" cy="247.8" r="5.1" class="c"/>
<circle cx="1375.2" cy="315.9" r="5.1" class="c"/>
<circle cx="1431.2" cy="450.0" r="5.1" class="c"/>
<circle cx="1362.2" cy="320.4" r="5.1" class="c"/>
<circle cx="1325.1" cy="427.7" r="5.1" class="c"/>
<circle cx="1363.9" cy="312.8" r="5.1" class="c"/>
<circle cx="1317.9" cy="405.5" r="5.1" class="o"/>
<circle cx="1484.3" cy="363.2" r="5.1" class="c"/>
<circle cx="1343.7" cy="480.6" r="5.1" class="c"/>
<circle cx="1321.5" cy="177.0" r="5.1" class="o"/>
<circle cx="1442.6" cy="385.2" r="5.1" class="c"/>
<circle cx="1364.3" cy="372.7" r="5.1" class="c"/>
<circle cx="1357.5" cy="279.1" r="5.1" class="c"/>
<circle cx="1373.9" cy="371.4" r="5.1" class="c"/>
<circle cx="1373.2" cy="467.4" r="5.1" class="c"/>
<circle cx="1381.1" cy="288.7" r="5.1" class="c"/>
<circle cx="1317.1" cy="259.8" r="5.1" class="o"/>
<circle cx="1383.5" cy="471.4" r="5.1" class="c"/>
<circle cx="1430.5" cy="431.7" r="5.1" class="c"/>
<circle cx="1349.5" cy="393.4" r="5.1" class="c"/>
<circle cx="1467.8" cy="437.6" r="5.1" class="c"/>
<circle cx="1333.5" cy="281.6" r="5.1" class="c"/>
<circle cx="1347.8" cy="422.4" r="5.1" class="c"/>
<circle cx="1357.8" cy="426.4" r="5.1" class="c"/>
<circle cx="1350.4" cy="301.0" r="5.1" class="c"/>
<circle cx="1321.4" cy="312.0" r="5.1" class="c"/>
<circle cx="1376.2" cy="386.5" r="5.1" class="c"/>
<circle cx="1363.4" cy="440.5" r="5.1" class="c"/>
<circle cx="1356.5" cy="502.4" r="5.1" class="c"/>
<circle cx="1404.5" cy="325.6" r="5.1" class="c"/>
<circle cx="1344.8" cy="463.1" r="5.1" class="c"/>
<circle cx="1442.6" cy="344.6" r="5.1" class="c"/>
<circle cx="1349.1" cy="370.5" r="5.1" class="c"/>
<circle cx="1343.5" cy="404.0" r="5.1" class="c"/>
<circle cx="1373.7" cy="375.4" r="5.1" class="c"/>
<circle cx="1317.7" cy="248.5" r="5.1" class="o"/>
<circle cx="1416.1" cy="436.9" r="5.1" class="c"/>
<circle cx="1338.1" cy="258.5" r="5.1" class="c"/>
<circle cx="1355.7" cy="330.7" r="5.1" class="c"/>
<circle cx="1321.4" cy="297.9" r="5.1" class="c"/>
<circle cx="1431.2" cy="454.6" r="5.1" class="c"/>
<circle cx="1415.5" cy="395.1" r="5.1" class="c"/>
<circle cx="1335.6" cy="295.4" r="5.1" class="c"/>
<circle cx="1350.0" cy="432.2" r="5.1" class="c"/>
<circle cx="1388.5" cy="353.2" r="5.1" class="c"/>
<circle cx="1412.2" cy="466.4" r="5.1" class="c"/>
<circle cx="1335.6" cy="328.6" r="5.1" class="c"/>
<circle cx="1358.8" cy="373.7" r="5.1" class="c"/>
<circle cx="1367.4" cy="434.8" r="5.1" class="c"/>
<circle cx="1383.6" cy="338.5" r="5.1" class="c"/>
<circle cx="1331.4" cy="249.3" r="5.1" class="c"/>
<circle cx="1391.9" cy="426.4" r="5.1" class="c"/>
<circle cx="1331.8" cy="339.6" r="5.1" class="c"/>
<circle cx="1346.7" cy="291.1" r="5.1" class="c"/>
<circle cx="1345.7" cy="418.6" r="5.1" class="c"/>
<circle cx="1361.4" cy="368.0" r="5.1" class="c"/>
<circle cx="1368.4" cy="417.7" r="5.1" class="c"/>
<circle cx="1363.9" cy="325.0" r="5.1" class="c"/>
<circle cx="1331.9" cy="251.2" r="5.1" class="c"/>
<circle cx="1353.0" cy="410.9" r="5.1" class="c"/>
<circle cx="1315.9" cy="269.6" r="5.1" class="o"/>
</g>
<polygon points="1317.8,353.0 1332.0,358.2 1346.3,362.0 1360.5,365.1 1374.8,367.9 1389.0,370.4 1403.3,372.9 1417.5,375.4 1431.7,377.8 1446.0,380.3 1460.2,382.7 1474.5,385.1 1488.7,387.5 1503.0,389.9 1517.2,392.3 1531.4,394.7 1545.7,397.1 1559.9,399.5 1574.2,401.9 1588.4,404.3 1602.7,406.6 1616.9,409.0 1631.2,411.4 1645.4,413.8 1659.6,416.2 1673.9,418.6 1688.1,421.0 1702.4,423.3 1716.6,425.7 1730.9,428.1 1745.1,430.5 1745.1,534.5 1730.9,528.5 1716.6,522.5 1702.4,516.6 1688.1,510.6 1673.9,504.6 1659.6,498.6 1645.4,492.6 1631.2,486.6 1616.9,480.7 1602.7,474.7 1588.4,468.7 1574.2,462.7 1559.9,456.8 1545.7,450.8 1531.4,444.8 1517.2,438.8 1503.0,432.9 1488.7,426.9 1474.5,420.9 1460.2,415.0 1446.0,409.0 1431.7,403.1 1417.5,397.2 1403.3,391.3 1389.0,385.4 1374.8,379.6 1360.5,374.0 1346.3,368.7 1332.0,364.2 1317.8,361.0" fill="#00FFFF" fill-opacity="0.4"/>
<line x1="1317.8" y1="357" x2="1745.1" y2="482.5" stroke="#0000FF" stroke-width="6.6"/>
<polygon points="1317.0,328.5 1318.3,331.9 1319.5,335.1 1320.8,338.0 1322.1,340.6 1323.3,342.5 1324.6,344.0 1325.9,345.1 1327.1,345.9 1328.4,346.6 1329.7,347.1 1330.9,347.6 1332.2,348.1 1333.5,348.5 1334.7,348.8 1336.0,349.2 1337.3,349.5 1338.5,349.8 1339.8,350.2 1341.1,350.5 1342.3,350.8 1343.6,351.0 1344.9,351.3 1346.1,351.6 1347.4,351.9 1348.7,352.2 1349.9,352.4 1351.2,352.7 1352.5,353.0 1353.7,353.2 1355.0,353.5 1355.0,475.5 1353.7,470.7 1352.5,465.9 1351.2,461.1 1349.9,456.3 1348.7,451.5 1347.4,446.7 1346.1,441.9 1344.9,437.1 1343.6,432.4 1342.3,427.6 1341.1,422.8 1339.8,418.0 1338.5,413.3 1337.3,408.5 1336.0,403.8 1334.7,399.1 1333.5,394.4 1332.2,389.7 1330.9,385.1 1329.7,380.5 1328.4,376.0 1327.1,371.6 1325.9,367.4 1324.6,363.4 1323.3,359.8 1322.1,356.7 1320.8,354.2 1319.5,352.0 1318.3,350.1 1317.0,348.5" fill="#FF8C00" fill-opacity="0.4"/>
<line x1="1317.0" y1="338.5" x2="1355.0" y2="414.5" stroke="#FF0000" stroke-width="6.6"/>
<path d="M1295.2,59.2 V560.5 H1767.0" fill="none" stroke="#000" stroke-width="1.4"/>
<line x1="1317.4" y1="560.5" x2="1317.4" y2="563.7" stroke="#333" stroke-width="1.3"/>
<text x="1317.4" y="603.8" font-family="'Liberation Sans', Arial, sans-serif" font-size="36.3" font-weight="normal" font-style="normal" fill="#1e1e1e" text-anchor="middle">0</text>
<line x1="1409.6" y1="560.5" x2="1409.6" y2="563.7" stroke="#333" stroke-width="1.3"/>
<text x="1409.6" y="603.8" font-family="'Liberation Sans', Arial, sans-serif" font-size="36.3" font-weight="normal" font-style="normal" fill="#1e1e1e" text-anchor="middle">10</text>
<line x1="1501.8" y1="560.5" x2="1501.8" y2="563.7" stroke="#333" stroke-width="1.3"/>
<text x="1501.8" y="603.8" font-family="'Liberation Sans', Arial, sans-serif" font-size="36.3" font-weight="normal" font-style="normal" fill="#1e1e1e" text-anchor="middle">20</text>
<line x1="1593.9" y1="560.5" x2="1593.9" y2="563.7" stroke="#333" stroke-width="1.3"/>
<text x="1593.9" y="603.8" font-family="'Liberation Sans', Arial, sans-serif" font-size="36.3" font-weight="normal" font-style="normal" fill="#1e1e1e" text-anchor="middle">30</text>
<line x1="1686.1" y1="560.5" x2="1686.1" y2="563.7" stroke="#333" stroke-width="1.3"/>
<text x="1686.1" y="603.8" font-family="'Liberation Sans', Arial, sans-serif" font-size="36.3" font-weight="normal" font-style="normal" fill="#1e1e1e" text-anchor="middle">40</text>
<line x1="1292.0" y1="438.6" x2="1295.2" y2="438.6" stroke="#333" stroke-width="1.3"/>
<text x="1287.4" y="453.2" font-family="'Liberation Sans', Arial, sans-serif" font-size="36.3" font-weight="normal" font-style="normal" fill="#1e1e1e" text-anchor="end">200</text>
<line x1="1292.0" y1="300.8" x2="1295.2" y2="300.8" stroke="#333" stroke-width="1.3"/>
<text x="1287.4" y="315.4" font-family="'Liberation Sans', Arial, sans-serif" font-size="36.3" font-weight="normal" font-style="normal" fill="#1e1e1e" text-anchor="end">400</text>
<line x1="1292.0" y1="163.0" x2="1295.2" y2="163.0" stroke="#333" stroke-width="1.3"/>
<text x="1287.4" y="177.6" font-family="'Liberation Sans', Arial, sans-serif" font-size="36.3" font-weight="normal" font-style="normal" fill="#1e1e1e" text-anchor="end">600</text>
<g stroke="#000" stroke-width="1.2">
<circle cx="550.3" cy="732.2" r="5.1" class="o"/>
<circle cx="464.5" cy="859.6" r="5.1" class="c"/>
<circle cx="246.7" cy="816.3" r="5.1" class="c"/>
<circle cx="502.1" cy="795.8" r="5.1" class="c"/>
<circle cx="244.0" cy="782.5" r="5.1" class="c"/>
<circle cx="493.6" cy="932.3" r="5.1" class="c"/>
<circle cx="570.4" cy="824.8" r="5.1" class="c"/>
<circle cx="478.1" cy="856.4" r="5.1" class="c"/>
<circle cx="369.8" cy="855.3" r="5.1" class="c"/>
<circle cx="470.1" cy="835.4" r="5.1" class="c"/>
<circle cx="376.0" cy="765.7" r="5.1" class="o"/>
<circle cx="500.5" cy="783.4" r="5.1" class="c"/>
<circle cx="297.7" cy="732.2" r="5.1" class="c"/>
<circle cx="533.7" cy="745.4" r="5.1" class="c"/>
<circle cx="590.5" cy="870.0" r="5.1" class="c"/>
<circle cx="296.7" cy="812.3" r="5.1" class="c"/>
<circle cx="603.0" cy="784.8" r="5.1" class="c"/>
<circle cx="468.8" cy="815.6" r="5.1" class="c"/>
<circle cx="542.0" cy="854.1" r="5.1" class="c"/>
<circle cx="275.0" cy="792.4" r="5.1" class="c"/>
<circle cx="376.7" cy="895.0" r="5.1" class="c"/>
<circle cx="518.5" cy="822.2" r="5.1" class="c"/>
<circle cx="241.3" cy="753.7" r="5.1" class="c"/>
<circle cx="591.5" cy="887.4" r="5.1" class="c"/>
<circle cx="541.4" cy="820.8" r="5.1" class="o"/>
<circle cx="578.9" cy="819.6" r="5.1" class="c"/>
<circle cx="493.6" cy="867.4" r="5.1" class="o"/>
<circle cx="482.5" cy="812.5" r="5.1" class="c"/>
<circle cx="267.3" cy="861.0" r="5.1" class="o"/>
<circle cx="411.5" cy="810.3" r="5.1" class="o"/>
<circle cx="261.3" cy="933.0" r="5.1" class="o"/>
<circle cx="278.7" cy="770.3" r="5.1" class="c"/>
<circle cx="264.7" cy="893.7" r="5.1" class="o"/>
<circle cx="412.4" cy="833.5" r="5.1" class="c"/>
<circle cx="413.3" cy="806.3" r="5.1" class="o"/>
<circle cx="503.3" cy="766.8" r="5.1" class="o"/>
<circle cx="489.4" cy="842.3" r="5.1" class="o"/>
<circle cx="281.3" cy="846.3" r="5.1" class="o"/>
<circle cx="599.2" cy="823.0" r="5.1" class="o"/>
<circle cx="349.0" cy="860.6" r="5.1" class="c"/>
<circle cx="518.5" cy="781.4" r="5.1" class="o"/>
<circle cx="271.3" cy="892.3" r="5.1" class="o"/>
<circle cx="317.3" cy="845.0" r="5.1" class="c"/>
<circle cx="589.0" cy="816.7" r="5.1" class="o"/>
<circle cx="349.3" cy="883.7" r="5.1" class="c"/>
<circle cx="553.1" cy="835.4" r="5.1" class="c"/>
<circle cx="561.4" cy="932.3" r="5.1" class="c"/>
<circle cx="242.9" cy="716.3" r="5.1" class="c"/>
<circle cx="540.6" cy="813.5" r="5.1" class="o"/>
<circle cx="281.3" cy="730.0" r="5.1" class="c"/>
<circle cx="545.1" cy="808.6" r="5.1" class="o"/>
<circle cx="487.5" cy="822.0" r="5.1" class="o"/>
<circle cx="507.4" cy="782.0" r="5.1" class="c"/>
<circle cx="346.7" cy="775.0" r="5.1" class="c"/>
<circle cx="397.3" cy="826.6" r="5.1" class="c"/>
<circle cx="248.0" cy="735.7" r="5.1" class="c"/>
<circle cx="388.9" cy="854.1" r="5.1" class="c"/>
<circle cx="375.7" cy="802.1" r="5.1" class="o"/>
<circle cx="287.3" cy="859.7" r="5.1" class="c"/>
<circle cx="468.7" cy="891.2" r="5.1" class="o"/>
<circle cx="261.3" cy="755.0" r="5.1" class="c"/>
<circle cx="575.3" cy="768.2" r="5.1" class="o"/>
<circle cx="481.1" cy="837.5" r="5.1" class="c"/>
<circle cx="301.2" cy="806.3" r="5.1" class="o"/>
<circle cx="480.4" cy="785.5" r="5.1" class="o"/>
<circle cx="388.0" cy="788.3" r="5.1" class="c"/>
<circle cx="601.6" cy="882.4" r="5.1" class="c"/>
<circle cx="563.7" cy="792.6" r="5.1" class="c"/>
<circle cx="445.8" cy="831.2" r="5.1" class="o"/>
<circle cx="518.1" cy="851.0" r="5.1" class="c"/>
<circle cx="525.2" cy="839.3" r="5.1" class="c"/>
<circle cx="596.0" cy="930.2" r="5.1" class="c"/>
<circle cx="326.0" cy="802.4" r="5.1" class="c"/>
<circle cx="602.3" cy="894.9" r="5.1" class="c"/>
<circle cx="402.7" cy="807.0" r="5.1" class="c"/>
<circle cx="598.8" cy="753.0" r="5.1" class="o"/>
<circle cx="605.0" cy="801.4" r="5.1" class="c"/>
<circle cx="293.3" cy="780.3" r="5.1" class="c"/>
<circle cx="288.3" cy="779.3" r="5.1" class="c"/>
<circle cx="585.5" cy="799.1" r="5.1" class="c"/>
<circle cx="454.8" cy="900.4" r="5.1" class="c"/>
<circle cx="483.9" cy="790.4" r="5.1" class="o"/>
<circle cx="296.8" cy="732.4" r="5.1" class="c"/>
<circle cx="490.8" cy="776.5" r="5.1" class="o"/>
<circle cx="269.3" cy="777.0" r="5.1" class="c"/>
<circle cx="284.5" cy="774.9" r="5.1" class="c"/>
<circle cx="438.1" cy="812.6" r="5.1" class="c"/>
<circle cx="328.0" cy="774.3" r="5.1" class="o"/>
<circle cx="580.1" cy="762.0" r="5.1" class="o"/>
<circle cx="385.3" cy="871.0" r="5.1" class="c"/>
<circle cx="601.5" cy="807.3" r="5.1" class="c"/>
<circle cx="598.8" cy="738.4" r="5.1" class="o"/>
<circle cx="591.9" cy="838.6" r="5.1" class="c"/>
<circle cx="480.6" cy="864.4" r="5.1" class="o"/>
<circle cx="271.3" cy="755.0" r="5.1" class="c"/>
<circle cx="536.5" cy="768.2" r="5.1" class="c"/>
<circle cx="457.9" cy="865.3" r="5.1" class="o"/>
<circle cx="581.3" cy="913.5" r="5.1" class="c"/>
<circle cx="415.2" cy="1139.3" r="5.1" class="c"/>
<circle cx="268.0" cy="721.0" r="5.1" class="c"/>
<circle cx="551.9" cy="849.6" r="5.1" class="o"/>
<circle cx="286.0" cy="883.7" r="5.1" class="o"/>
<circle cx="367.3" cy="872.2" r="5.1" class="o"/>
<circle cx="255.3" cy="740.8" r="5.1" class="c"/>
<circle cx="338.0" cy="945.0" r="5.1" class="c"/>
<circle cx="244.0" cy="928.3" r="5.1" class="o"/>
<circle cx="242.9" cy="704.1" r="5.1" class="c"/>
<circle cx="568.3" cy="904.7" r="5.1" class="o"/>
<circle cx="300.6" cy="778.0" r="5.1" class="c"/>
<circle cx="443.8" cy="812.5" r="5.1" class="o"/>
<circle cx="242.7" cy="729.0" r="5.1" class="c"/>
<circle cx="564.2" cy="808.3" r="5.1" class="c"/>
<circle cx="518.5" cy="757.1" r="5.1" class="o"/>
<circle cx="556.6" cy="899.1" r="5.1" class="c"/>
<circle cx="515.7" cy="801.4" r="5.1" class="c"/>
<circle cx="489.4" cy="783.4" r="5.1" class="c"/>
<circle cx="590.5" cy="791.7" r="5.1" class="c"/>
<circle cx="526.8" cy="918.4" r="5.1" class="c"/>
<circle cx="504.7" cy="825.0" r="5.1" class="c"/>
<circle cx="364.0" cy="923.7" r="5.1" class="c"/>
<circle cx="300.2" cy="802.0" r="5.1" class="c"/>
<circle cx="356.7" cy="906.3" r="5.1" class="c"/>
<circle cx="271.5" cy="764.0" r="5.1" class="c"/>
<circle cx="269.5" cy="786.2" r="5.1" class="o"/>
<circle cx="501.9" cy="816.7" r="5.1" class="c"/>
<circle cx="517.3" cy="799.1" r="5.1" class="c"/>
<circle cx="266.5" cy="793.3" r="5.1" class="c"/>
<circle cx="354.7" cy="849.0" r="5.1" class="c"/>
<circle cx="300.7" cy="732.0" r="5.1" class="c"/>
<circle cx="278.7" cy="759.7" r="5.1" class="c"/>
<circle cx="571.8" cy="803.5" r="5.1" class="o"/>
<circle cx="568.5" cy="841.6" r="5.1" class="c"/>
<circle cx="583.6" cy="807.0" r="5.1" class="c"/>
<circle cx="513.6" cy="853.4" r="5.1" class="c"/>
<circle cx="528.8" cy="869.7" r="5.1" class="o"/>
<circle cx="577.6" cy="809.8" r="5.1" class="o"/>
<circle cx="591.4" cy="849.2" r="5.1" class="c"/>
<circle cx="301.3" cy="785.0" r="5.1" class="c"/>
<circle cx="330.8" cy="821.2" r="5.1" class="o"/>
<circle cx="571.1" cy="878.3" r="5.1" class="c"/>
<circle cx="319.3" cy="837.7" r="5.1" class="c"/>
<circle cx="301.3" cy="820.3" r="5.1" class="c"/>
<circle cx="339.3" cy="931.7" r="5.1" class="c"/>
<circle cx="279.3" cy="752.3" r="5.1" class="c"/>
<circle cx="355.7" cy="822.6" r="5.1" class="c"/>
<circle cx="410.7" cy="796.3" r="5.1" class="c"/>
<circle cx="268.7" cy="768.3" r="5.1" class="c"/>
<circle cx="594.6" cy="804.2" r="5.1" class="o"/>
<circle cx="505.8" cy="721.1" r="5.1" class="o"/>
<circle cx="541.4" cy="903.9" r="5.1" class="c"/>
<circle cx="403.6" cy="785.5" r="5.1" class="o"/>
<circle cx="288.0" cy="729.7" r="5.1" class="o"/>
<circle cx="402.7" cy="775.0" r="5.1" class="o"/>
<circle cx="365.3" cy="873.0" r="5.1" class="c"/>
<circle cx="424.4" cy="894.9" r="5.1" class="c"/>
<circle cx="451.4" cy="754.4" r="5.1" class="c"/>
<circle cx="525.4" cy="801.4" r="5.1" class="c"/>
<circle cx="571.1" cy="775.1" r="5.1" class="c"/>
<circle cx="256.7" cy="717.0" r="5.1" class="c"/>
<circle cx="582.0" cy="759.7" r="5.1" class="o"/>
<circle cx="293.3" cy="757.7" r="5.1" class="c"/>
<circle cx="336.0" cy="913.7" r="5.1" class="o"/>
<circle cx="413.3" cy="861.7" r="5.1" class="c"/>
<circle cx="441.3" cy="850.0" r="5.1" class="c"/>
<circle cx="317.3" cy="789.7" r="5.1" class="o"/>
<circle cx="568.9" cy="896.4" r="5.1" class="c"/>
<circle cx="269.3" cy="818.3" r="5.1" class="o"/>
<circle cx="536.5" cy="810.4" r="5.1" class="o"/>
<circle cx="261.3" cy="728.3" r="5.1" class="o"/>
<circle cx="463.8" cy="877.6" r="5.1" class="c"/>
<circle cx="406.0" cy="771.7" r="5.1" class="c"/>
<circle cx="424.4" cy="835.4" r="5.1" class="c"/>
<circle cx="481.8" cy="902.5" r="5.1" class="c"/>
<circle cx="533.7" cy="730.8" r="5.1" class="c"/>
<circle cx="250.7" cy="809.7" r="5.1" class="o"/>
<circle cx="298.7" cy="762.3" r="5.1" class="c"/>
<circle cx="251.6" cy="790.2" r="5.1" class="o"/>
<circle cx="582.3" cy="847.1" r="5.1" class="o"/>
<circle cx="454.8" cy="889.4" r="5.1" class="c"/>
<circle cx="434.0" cy="858.1" r="5.1" class="c"/>
<circle cx="365.3" cy="879.7" r="5.1" class="c"/>
<circle cx="593.3" cy="843.0" r="5.1" class="c"/>
<circle cx="565.6" cy="719.8" r="5.1" class="o"/>
<circle cx="568.3" cy="825.0" r="5.1" class="c"/>
<circle cx="603.4" cy="764.3" r="5.1" class="o"/>
<circle cx="310.7" cy="747.7" r="5.1" class="c"/>
<circle cx="409.3" cy="842.3" r="5.1" class="c"/>
<circle cx="382.0" cy="908.3" r="5.1" class="c"/>
<circle cx="543.4" cy="766.8" r="5.1" class="o"/>
<circle cx="393.3" cy="780.3" r="5.1" class="c"/>
<circle cx="596.0" cy="813.9" r="5.1" class="o"/>
<circle cx="410.7" cy="748.3" r="5.1" class="o"/>
<circle cx="501.9" cy="880.4" r="5.1" class="c"/>
<circle cx="606.4" cy="730.8" r="5.1" class="o"/>
<circle cx="250.7" cy="748.3" r="5.1" class="c"/>
<circle cx="356.0" cy="799.0" r="5.1" class="c"/>
<circle cx="368.0" cy="844.3" r="5.1" class="o"/>
<circle cx="454.8" cy="883.1" r="5.1" class="c"/>
<circle cx="336.0" cy="927.0" r="5.1" class="c"/>
<circle cx="588.1" cy="786.9" r="5.1" class="c"/>
<circle cx="250.7" cy="776.3" r="5.1" class="c"/>
<circle cx="568.3" cy="836.8" r="5.1" class="c"/>
<circle cx="506.7" cy="813.9" r="5.1" class="o"/>
<circle cx="255.3" cy="938.3" r="5.1" class="o"/>
<circle cx="382.0" cy="919.7" r="5.1" class="c"/>
<circle cx="604.3" cy="879.0" r="5.1" class="c"/>
<circle cx="580.1" cy="840.2" r="5.1" class="c"/>
<circle cx="586.3" cy="898.4" r="5.1" class="c"/>
<circle cx="509.8" cy="844.0" r="5.1" class="o"/>
<circle cx="558.7" cy="855.5" r="5.1" class="c"/>
<circle cx="471.4" cy="782.0" r="5.1" class="o"/>
<circle cx="443.4" cy="816.6" r="5.1" class="c"/>
<circle cx="567.7" cy="759.2" r="5.1" class="c"/>
<circle cx="604.3" cy="823.6" r="5.1" class="o"/>
<circle cx="328.7" cy="833.7" r="5.1" class="c"/>
<circle cx="573.9" cy="856.8" r="5.1" class="c"/>
<circle cx="561.6" cy="1024.1" r="5.1" class="c"/>
<circle cx="431.3" cy="782.0" r="5.1" class="c"/>
<circle cx="384.4" cy="817.6" r="5.1" class="c"/>
<circle cx="501.9" cy="858.9" r="5.1" class="c"/>
<circle cx="601.6" cy="827.7" r="5.1" class="c"/>
<circle cx="289.0" cy="773.7" r="5.1" class="c"/>
<circle cx="481.1" cy="730.1" r="5.1" class="c"/>
<circle cx="287.3" cy="745.7" r="5.1" class="c"/>
<circle cx="581.0" cy="766.5" r="5.1" class="c"/>
<circle cx="275.3" cy="869.0" r="5.1" class="o"/>
<circle cx="565.6" cy="904.2" r="5.1" class="c"/>
<circle cx="499.1" cy="740.5" r="5.1" class="c"/>
<circle cx="423.7" cy="845.8" r="5.1" class="o"/>
<circle cx="241.3" cy="759.0" r="5.1" class="c"/>
<circle cx="467.9" cy="804.1" r="5.1" class="o"/>
<circle cx="278.7" cy="867.0" r="5.1" class="o"/>
<circle cx="560.1" cy="806.0" r="5.1" class="c"/>
<circle cx="345.3" cy="795.0" r="5.1" class="c"/>
<circle cx="407.6" cy="811.4" r="5.1" class="c"/>
<circle cx="476.1" cy="855.2" r="5.1" class="c"/>
<circle cx="519.2" cy="847.1" r="5.1" class="c"/>
<circle cx="421.2" cy="832.6" r="5.1" class="o"/>
<circle cx="276.1" cy="730.5" r="5.1" class="c"/>
<circle cx="568.3" cy="856.8" r="5.1" class="c"/>
<circle cx="266.3" cy="715.7" r="5.1" class="c"/>
<circle cx="256.0" cy="833.0" r="5.1" class="o"/>
<circle cx="595.3" cy="821.0" r="5.1" class="c"/>
<circle cx="596.7" cy="924.7" r="5.1" class="c"/>
<circle cx="565.8" cy="758.6" r="5.1" class="c"/>
<circle cx="356.8" cy="830.5" r="5.1" class="c"/>
<circle cx="298.3" cy="744.3" r="5.1" class="c"/>
<circle cx="271.3" cy="745.0" r="5.1" class="c"/>
<circle cx="430.7" cy="812.9" r="5.1" class="c"/>
<circle cx="583.4" cy="842.9" r="5.1" class="o"/>
<circle cx="542.0" cy="910.1" r="5.1" class="c"/>
<circle cx="407.6" cy="873.4" r="5.1" class="o"/>
<circle cx="499.8" cy="759.2" r="5.1" class="c"/>
<circle cx="571.1" cy="866.5" r="5.1" class="o"/>
<circle cx="413.3" cy="834.0" r="5.1" class="c"/>
<circle cx="454.8" cy="865.1" r="5.1" class="o"/>
<circle cx="585.3" cy="816.4" r="5.1" class="c"/>
<circle cx="564.5" cy="823.5" r="5.1" class="o"/>
<circle cx="244.6" cy="786.7" r="5.1" class="c"/>
<circle cx="256.7" cy="733.7" r="5.1" class="c"/>
<circle cx="242.7" cy="897.7" r="5.1" class="o"/>
<circle cx="571.1" cy="830.3" r="5.1" class="c"/>
<circle cx="575.0" cy="848.6" r="5.1" class="c"/>
<circle cx="470.1" cy="818.7" r="5.1" class="o"/>
<circle cx="354.7" cy="842.3" r="5.1" class="c"/>
<circle cx="573.9" cy="883.0" r="5.1" class="c"/>
<circle cx="254.3" cy="764.8" r="5.1" class="c"/>
<circle cx="293.3" cy="871.0" r="5.1" class="o"/>
<circle cx="299.9" cy="715.2" r="5.1" class="c"/>
<circle cx="518.5" cy="866.5" r="5.1" class="c"/>
<circle cx="558.7" cy="775.1" r="5.1" class="c"/>
<circle cx="513.0" cy="764.1" r="5.1" class="c"/>
<circle cx="344.0" cy="886.3" r="5.1" class="c"/>
<circle cx="584.3" cy="786.2" r="5.1" class="c"/>
<circle cx="276.1" cy="771.6" r="5.1" class="c"/>
<circle cx="550.3" cy="766.8" r="5.1" class="c"/>
<circle cx="346.6" cy="805.9" r="5.1" class="o"/>
<circle cx="310.7" cy="791.0" r="5.1" class="o"/>
<circle cx="576.7" cy="874.1" r="5.1" class="c"/>
<circle cx="424.4" cy="851.3" r="5.1" class="c"/>
<circle cx="370.2" cy="809.2" r="5.1" class="o"/>
<circle cx="261.3" cy="885.0" r="5.1" class="c"/>
<circle cx="327.3" cy="780.1" r="5.1" class="o"/>
<circle cx="249.3" cy="725.0" r="5.1" class="c"/>
<circle cx="268.0" cy="732.3" r="5.1" class="c"/>
<circle cx="333.3" cy="809.7" r="5.1" class="c"/>
<circle cx="255.3" cy="879.7" r="5.1" class="o"/>
<circle cx="388.0" cy="839.7" r="5.1" class="o"/>
<circle cx="480.7" cy="870.2" r="5.1" class="c"/>
<circle cx="542.0" cy="746.1" r="5.1" class="o"/>
<circle cx="453.4" cy="833.3" r="5.1" class="c"/>
<circle cx="247.5" cy="770.2" r="5.1" class="o"/>
<circle cx="441.0" cy="939.9" r="5.1" class="c"/>
<circle cx="493.4" cy="1066.1" r="5.1" class="c"/>
<circle cx="526.8" cy="854.1" r="5.1" class="c"/>
<circle cx="309.3" cy="811.0" r="5.1" class="c"/>
<circle cx="302.7" cy="768.3" r="5.1" class="o"/>
<circle cx="344.0" cy="799.0" r="5.1" class="c"/>
<circle cx="474.2" cy="846.5" r="5.1" class="c"/>
<circle cx="559.3" cy="874.8" r="5.1" class="c"/>
<circle cx="393.3" cy="831.7" r="5.1" class="c"/>
<circle cx="423.0" cy="785.5" r="5.1" class="o"/>
<circle cx="334.0" cy="777.7" r="5.1" class="c"/>
<circle cx="589.8" cy="727.4" r="5.1" class="o"/>
<circle cx="579.4" cy="802.8" r="5.1" class="o"/>
<circle cx="338.0" cy="795.0" r="5.1" class="o"/>
<circle cx="286.7" cy="871.0" r="5.1" class="c"/>
<circle cx="553.1" cy="863.8" r="5.1" class="c"/>
<circle cx="591.2" cy="752.3" r="5.1" class="o"/>
<circle cx="478.0" cy="788.1" r="5.1" class="o"/>
<circle cx="543.4" cy="933.0" r="5.1" class="c"/>
<circle cx="506.1" cy="866.5" r="5.1" class="c"/>
<circle cx="593.3" cy="912.2" r="5.1" class="c"/>
<circle cx="493.4" cy="1139.3" r="5.1" class="c"/>
<circle cx="516.3" cy="808.1" r="5.1" class="c"/>
<circle cx="455.5" cy="834.4" r="5.1" class="c"/>
<circle cx="280.0" cy="817.7" r="5.1" class="o"/>
<circle cx="604.3" cy="736.4" r="5.1" class="o"/>
<circle cx="384.0" cy="803.0" r="5.1" class="o"/>
<circle cx="409.3" cy="849.0" r="5.1" class="c"/>
<circle cx="557.3" cy="879.0" r="5.1" class="c"/>
<circle cx="341.3" cy="850.7" r="5.1" class="c"/>
<circle cx="462.4" cy="717.7" r="5.1" class="c"/>
<circle cx="475.7" cy="833.0" r="5.1" class="o"/>
<circle cx="439.6" cy="830.5" r="5.1" class="c"/>
<circle cx="542.0" cy="738.4" r="5.1" class="o"/>
<circle cx="566.8" cy="929.6" r="5.1" class="c"/>
<circle cx="534.4" cy="737.8" r="5.1" class="o"/>
<circle cx="463.8" cy="848.5" r="5.1" class="c"/>
<circle cx="580.4" cy="914.3" r="5.1" class="o"/>
<circle cx="413.3" cy="796.6" r="5.1" class="c"/>
<circle cx="410.0" cy="861.0" r="5.1" class="c"/>
<circle cx="525.4" cy="810.4" r="5.1" class="c"/>
<circle cx="529.6" cy="862.4" r="5.1" class="c"/>
<circle cx="261.3" cy="745.7" r="5.1" class="c"/>
<circle cx="540.5" cy="765.0" r="5.1" class="c"/>
<circle cx="581.5" cy="784.2" r="5.1" class="o"/>
<circle cx="515.3" cy="769.5" r="5.1" class="o"/>
<circle cx="258.7" cy="811.7" r="5.1" class="o"/>
<circle cx="431.3" cy="758.5" r="5.1" class="c"/>
<circle cx="269.0" cy="751.9" r="5.1" class="c"/>
<circle cx="518.5" cy="766.8" r="5.1" class="c"/>
<circle cx="554.9" cy="773.5" r="5.1" class="c"/>
<circle cx="474.2" cy="867.9" r="5.1" class="c"/>
<circle cx="431.4" cy="768.6" r="5.1" class="c"/>
<circle cx="490.8" cy="870.0" r="5.1" class="c"/>
<circle cx="392.7" cy="848.1" r="5.1" class="c"/>
<circle cx="349.3" cy="895.0" r="5.1" class="c"/>
<circle cx="344.7" cy="845.7" r="5.1" class="o"/>
<circle cx="252.0" cy="835.7" r="5.1" class="o"/>
<circle cx="446.3" cy="738.4" r="5.1" class="c"/>
<circle cx="487.4" cy="741.2" r="5.1" class="o"/>
<circle cx="584.9" cy="852.7" r="5.1" class="o"/>
<circle cx="481.8" cy="773.0" r="5.1" class="o"/>
<circle cx="336.0" cy="918.3" r="5.1" class="c"/>
<circle cx="426.5" cy="793.8" r="5.1" class="c"/>
<circle cx="352.0" cy="781.7" r="5.1" class="c"/>
<circle cx="511.6" cy="875.5" r="5.1" class="c"/>
<circle cx="605.0" cy="791.7" r="5.1" class="c"/>
<circle cx="526.8" cy="899.1" r="5.1" class="c"/>
<circle cx="576.0" cy="888.7" r="5.1" class="o"/>
<circle cx="348.7" cy="837.0" r="5.1" class="o"/>
<circle cx="248.2" cy="725.2" r="5.1" class="c"/>
<circle cx="280.0" cy="812.3" r="5.1" class="c"/>
<circle cx="417.0" cy="816.1" r="5.1" class="o"/>
<circle cx="317.3" cy="887.7" r="5.1" class="c"/>
<circle cx="510.3" cy="836.9" r="5.1" class="c"/>
<circle cx="592.5" cy="890.9" r="5.1" class="c"/>
<circle cx="357.3" cy="931.0" r="5.1" class="c"/>
<circle cx="256.0" cy="789.7" r="5.1" class="c"/>
<circle cx="601.6" cy="872.8" r="5.1" class="c"/>
<circle cx="441.0" cy="935.7" r="5.1" class="c"/>
<circle cx="445.8" cy="790.4" r="5.1" class="c"/>
<circle cx="585.6" cy="742.6" r="5.1" class="o"/>
<circle cx="493.4" cy="1040.2" r="5.1" class="o"/>
<circle cx="264.7" cy="805.7" r="5.1" class="c"/>
<circle cx="325.3" cy="766.3" r="5.1" class="c"/>
<circle cx="452.1" cy="815.3" r="5.1" class="c"/>
<circle cx="336.0" cy="871.0" r="5.1" class="c"/>
<circle cx="301.3" cy="867.7" r="5.1" class="c"/>
<circle cx="402.7" cy="830.3" r="5.1" class="c"/>
<circle cx="444.7" cy="804.6" r="5.1" class="c"/>
<circle cx="602.7" cy="916.9" r="5.1" class="c"/>
<circle cx="451.8" cy="855.6" r="5.1" class="o"/>
<circle cx="396.7" cy="852.3" r="5.1" class="c"/>
<circle cx="561.6" cy="993.3" r="5.1" class="c"/>
<circle cx="452.8" cy="843.0" r="5.1" class="c"/>
<circle cx="586.3" cy="901.2" r="5.1" class="c"/>
<circle cx="557.3" cy="772.4" r="5.1" class="c"/>
<circle cx="294.3" cy="803.3" r="5.1" class="c"/>
<circle cx="362.7" cy="799.0" r="5.1" class="c"/>
<circle cx="489.1" cy="826.2" r="5.1" class="c"/>
<circle cx="559.3" cy="908.7" r="5.1" class="o"/>
<circle cx="272.7" cy="716.1" r="5.1" class="c"/>
<circle cx="259.3" cy="776.3" r="5.1" class="c"/>
<circle cx="250.0" cy="741.7" r="5.1" class="c"/>
<circle cx="463.8" cy="869.3" r="5.1" class="c"/>
<circle cx="452.1" cy="773.0" r="5.1" class="o"/>
<circle cx="374.7" cy="779.0" r="5.1" class="c"/>
<circle cx="250.0" cy="848.3" r="5.1" class="o"/>
<circle cx="565.4" cy="837.4" r="5.1" class="o"/>
<circle cx="301.3" cy="890.3" r="5.1" class="o"/>
<circle cx="242.9" cy="686.7" r="5.1" class="c"/>
<circle cx="388.0" cy="768.3" r="5.1" class="c"/>
<circle cx="248.0" cy="764.3" r="5.1" class="c"/>
<circle cx="391.7" cy="799.4" r="5.1" class="o"/>
<circle cx="578.7" cy="741.2" r="5.1" class="o"/>
<circle cx="407.3" cy="757.7" r="5.1" class="c"/>
<circle cx="533.6" cy="806.4" r="5.1" class="o"/>
<circle cx="583.6" cy="820.1" r="5.1" class="o"/>
<circle cx="346.7" cy="816.3" r="5.1" class="o"/>
<circle cx="244.0" cy="775.0" r="5.1" class="c"/>
<circle cx="397.3" cy="787.0" r="5.1" class="o"/>
<circle cx="301.3" cy="775.0" r="5.1" class="c"/>
<circle cx="598.8" cy="780.0" r="5.1" class="o"/>
<circle cx="490.8" cy="854.8" r="5.1" class="c"/>
<circle cx="377.8" cy="805.8" r="5.1" class="o"/>
<circle cx="388.0" cy="775.0" r="5.1" class="c"/>
<circle cx="605.7" cy="763.4" r="5.1" class="o"/>
<circle cx="450.7" cy="795.9" r="5.1" class="o"/>
<circle cx="576.3" cy="880.6" r="5.1" class="c"/>
<circle cx="587.0" cy="763.5" r="5.1" class="c"/>
<circle cx="308.7" cy="862.3" r="5.1" class="o"/>
<circle cx="251.6" cy="804.6" r="5.1" class="c"/>
<circle cx="557.6" cy="847.9" r="5.1" class="o"/>
<circle cx="602.6" cy="1025.2" r="5.1" class="c"/>
<circle cx="354.7" cy="833.0" r="5.1" class="c"/>
<circle cx="259.3" cy="765.0" r="5.1" class="c"/>
<circle cx="578.8" cy="772.3" r="5.1" class="o"/>
<circle cx="591.2" cy="833.3" r="5.1" class="c"/>
<circle cx="529.6" cy="874.1" r="5.1" class="c"/>
<circle cx="452.8" cy="876.2" r="5.1" class="c"/>
<circle cx="363.3" cy="929.0" r="5.1" class="c"/>
<circle cx="601.6" cy="865.1" r="5.1" class="c"/>
<circle cx="414.8" cy="819.4" r="5.1" class="o"/>
<circle cx="550.3" cy="826.3" r="5.1" class="c"/>
<circle cx="292.0" cy="892.3" r="5.1" class="o"/>
<circle cx="597.8" cy="909.8" r="5.1" class="c"/>
<circle cx="499.1" cy="772.4" r="5.1" class="o"/>
<circle cx="242.7" cy="850.3" r="5.1" class="o"/>
<circle cx="459.7" cy="810.4" r="5.1" class="o"/>
<circle cx="486.6" cy="789.3" r="5.1" class="c"/>
<circle cx="281.6" cy="707.3" r="5.1" class="c"/>
<circle cx="553.1" cy="804.2" r="5.1" class="c"/>
<circle cx="430.6" cy="801.4" r="5.1" class="c"/>
<circle cx="374.7" cy="749.7" r="5.1" class="o"/>
<circle cx="246.0" cy="944.3" r="5.1" class="o"/>
<circle cx="294.2" cy="751.2" r="5.1" class="c"/>
<circle cx="365.3" cy="859.7" r="5.1" class="c"/>
<circle cx="275.3" cy="717.7" r="5.1" class="c"/>
<circle cx="478.4" cy="760.6" r="5.1" class="c"/>
<circle cx="543.4" cy="871.4" r="5.1" class="c"/>
<circle cx="597.6" cy="846.6" r="5.1" class="c"/>
<circle cx="595.8" cy="795.0" r="5.1" class="o"/>
<circle cx="333.3" cy="789.0" r="5.1" class="o"/>
<circle cx="330.7" cy="763.7" r="5.1" class="c"/>
<circle cx="374.7" cy="805.7" r="5.1" class="c"/>
<circle cx="462.4" cy="757.1" r="5.1" class="c"/>
<circle cx="567.7" cy="765.4" r="5.1" class="o"/>
<circle cx="594.0" cy="760.6" r="5.1" class="c"/>
<circle cx="606.4" cy="847.1" r="5.1" class="c"/>
<circle cx="503.3" cy="746.1" r="5.1" class="o"/>
<circle cx="431.3" cy="811.8" r="5.1" class="o"/>
<circle cx="543.4" cy="888.7" r="5.1" class="c"/>
<circle cx="568.9" cy="743.9" r="5.1" class="c"/>
<circle cx="577.9" cy="800.2" r="5.1" class="c"/>
<circle cx="290.3" cy="732.3" r="5.1" class="c"/>
<circle cx="553.1" cy="794.5" r="5.1" class="o"/>
<circle cx="290.0" cy="746.9" r="5.1" class="o"/>
<circle cx="527.3" cy="839.3" r="5.1" class="c"/>
<circle cx="572.2" cy="788.7" r="5.1" class="c"/>
<circle cx="536.5" cy="803.5" r="5.1" class="c"/>
<circle cx="405.3" cy="861.7" r="5.1" class="o"/>
<circle cx="463.1" cy="789.7" r="5.1" class="o"/>
<circle cx="421.6" cy="828.4" r="5.1" class="o"/>
<circle cx="272.7" cy="737.0" r="5.1" class="o"/>
<circle cx="326.0" cy="753.7" r="5.1" class="c"/>
<circle cx="422.3" cy="876.1" r="5.1" class="o"/>
<circle cx="585.3" cy="793.2" r="5.1" class="c"/>
<circle cx="603.0" cy="793.7" r="5.1" class="c"/>
<circle cx="596.0" cy="763.4" r="5.1" class="o"/>
<circle cx="438.9" cy="788.3" r="5.1" class="o"/>
<circle cx="369.5" cy="794.2" r="5.1" class="c"/>
<circle cx="441.0" cy="919.8" r="5.1" class="c"/>
<circle cx="420.5" cy="857.5" r="5.1" class="o"/>
<circle cx="443.8" cy="875.4" r="5.1" class="c"/>
<circle cx="438.9" cy="897.0" r="5.1" class="o"/>
<circle cx="440.3" cy="725.0" r="5.1" class="c"/>
<circle cx="286.7" cy="773.7" r="5.1" class="c"/>
<circle cx="376.0" cy="876.3" r="5.1" class="c"/>
<circle cx="419.0" cy="846.9" r="5.1" class="o"/>
<circle cx="474.2" cy="858.9" r="5.1" class="c"/>
<circle cx="241.3" cy="768.3" r="5.1" class="o"/>
<circle cx="556.6" cy="733.6" r="5.1" class="o"/>
<circle cx="349.3" cy="839.7" r="5.1" class="c"/>
<circle cx="573.4" cy="867.0" r="5.1" class="c"/>
<circle cx="281.3" cy="728.6" r="5.1" class="c"/>
<circle cx="527.5" cy="735.0" r="5.1" class="o"/>
<circle cx="541.4" cy="833.3" r="5.1" class="c"/>
<circle cx="573.0" cy="829.1" r="5.1" class="c"/>
<circle cx="586.3" cy="770.3" r="5.1" class="o"/>
<circle cx="503.3" cy="897.7" r="5.1" class="c"/>
<circle cx="553.1" cy="815.3" r="5.1" class="c"/>
<circle cx="394.5" cy="855.3" r="5.1" class="c"/>
<circle cx="283.5" cy="785.1" r="5.1" class="c"/>
<circle cx="498.4" cy="827.7" r="5.1" class="c"/>
<circle cx="250.7" cy="915.0" r="5.1" class="o"/>
<circle cx="350.8" cy="831.2" r="5.1" class="c"/>
<circle cx="478.4" cy="820.8" r="5.1" class="c"/>
<circle cx="590.5" cy="885.9" r="5.1" class="c"/>
<circle cx="346.3" cy="834.1" r="5.1" class="c"/>
<circle cx="282.7" cy="800.3" r="5.1" class="c"/>
<circle cx="318.7" cy="811.0" r="5.1" class="c"/>
<circle cx="605.6" cy="825.8" r="5.1" class="c"/>
<circle cx="310.0" cy="846.3" r="5.1" class="o"/>
<circle cx="393.3" cy="765.7" r="5.1" class="o"/>
<circle cx="312.0" cy="820.3" r="5.1" class="c"/>
<circle cx="592.6" cy="817.2" r="5.1" class="c"/>
<circle cx="517.3" cy="836.6" r="5.1" class="c"/>
<circle cx="585.0" cy="881.8" r="5.1" class="c"/>
<circle cx="605.7" cy="838.8" r="5.1" class="c"/>
<circle cx="344.7" cy="874.8" r="5.1" class="o"/>
<circle cx="397.3" cy="804.3" r="5.1" class="c"/>
<circle cx="326.0" cy="743.0" r="5.1" class="c"/>
<circle cx="257.7" cy="734.2" r="5.1" class="o"/>
<circle cx="589.5" cy="884.7" r="5.1" class="c"/>
<circle cx="604.3" cy="820.8" r="5.1" class="c"/>
<circle cx="607.1" cy="854.1" r="5.1" class="c"/>
<circle cx="526.8" cy="724.6" r="5.1" class="o"/>
<circle cx="426.2" cy="805.8" r="5.1" class="c"/>
<circle cx="400.5" cy="814.9" r="5.1" class="o"/>
<circle cx="452.4" cy="823.3" r="5.1" class="c"/>
<circle cx="461.9" cy="810.1" r="5.1" class="c"/>
<circle cx="354.7" cy="866.3" r="5.1" class="o"/>
<circle cx="566.1" cy="835.6" r="5.1" class="c"/>
<circle cx="580.8" cy="863.1" r="5.1" class="c"/>
<circle cx="556.9" cy="865.4" r="5.1" class="c"/>
<circle cx="519.8" cy="806.1" r="5.1" class="o"/>
<circle cx="443.8" cy="850.6" r="5.1" class="c"/>
<circle cx="248.0" cy="789.7" r="5.1" class="c"/>
<circle cx="376.7" cy="867.0" r="5.1" class="c"/>
<circle cx="501.9" cy="753.0" r="5.1" class="o"/>
<circle cx="356.0" cy="877.7" r="5.1" class="c"/>
<circle cx="432.7" cy="861.7" r="5.1" class="c"/>
<circle cx="601.6" cy="905.3" r="5.1" class="c"/>
<circle cx="587.7" cy="758.2" r="5.1" class="o"/>
<circle cx="568.0" cy="850.6" r="5.1" class="c"/>
<circle cx="443.8" cy="894.9" r="5.1" class="c"/>
<circle cx="244.5" cy="719.2" r="5.1" class="c"/>
<circle cx="318.2" cy="827.9" r="5.1" class="c"/>
<circle cx="480.5" cy="875.7" r="5.1" class="c"/>
<circle cx="526.8" cy="784.1" r="5.1" class="o"/>
<circle cx="266.7" cy="800.3" r="5.1" class="c"/>
<circle cx="304.0" cy="801.7" r="5.1" class="c"/>
<circle cx="393.3" cy="799.0" r="5.1" class="o"/>
<circle cx="594.0" cy="945.4" r="5.1" class="c"/>
<circle cx="514.4" cy="772.4" r="5.1" class="o"/>
<circle cx="260.0" cy="824.3" r="5.1" class="o"/>
<circle cx="452.1" cy="766.1" r="5.1" class="o"/>
<circle cx="443.8" cy="876.2" r="5.1" class="c"/>
<circle cx="489.4" cy="764.7" r="5.1" class="c"/>
<circle cx="442.8" cy="760.9" r="5.1" class="c"/>
<circle cx="571.1" cy="816.7" r="5.1" class="c"/>
<circle cx="282.0" cy="715.6" r="5.1" class="c"/>
<circle cx="318.7" cy="918.3" r="5.1" class="o"/>
<circle cx="468.7" cy="787.6" r="5.1" class="c"/>
<circle cx="353.3" cy="791.0" r="5.1" class="c"/>
<circle cx="605.7" cy="815.3" r="5.1" class="o"/>
<circle cx="374.7" cy="769.7" r="5.1" class="c"/>
<circle cx="289.2" cy="752.3" r="5.1" class="c"/>
<circle cx="293.3" cy="801.7" r="5.1" class="c"/>
<circle cx="564.2" cy="820.8" r="5.1" class="o"/>
<circle cx="550.3" cy="723.2" r="5.1" class="c"/>
<circle cx="254.7" cy="795.0" r="5.1" class="c"/>
<circle cx="301.5" cy="719.9" r="5.1" class="o"/>
<circle cx="407.1" cy="790.3" r="5.1" class="c"/>
<circle cx="365.3" cy="778.3" r="5.1" class="o"/>
<circle cx="319.3" cy="866.3" r="5.1" class="c"/>
<circle cx="244.0" cy="808.3" r="5.1" class="c"/>
<circle cx="295.0" cy="776.9" r="5.1" class="o"/>
<circle cx="251.8" cy="799.0" r="5.1" class="c"/>
<circle cx="317.3" cy="769.7" r="5.1" class="o"/>
<circle cx="313.3" cy="743.7" r="5.1" class="c"/>
<circle cx="549.0" cy="800.0" r="5.1" class="o"/>
<circle cx="441.0" cy="843.1" r="5.1" class="c"/>
<circle cx="244.0" cy="799.0" r="5.1" class="c"/>
<circle cx="606.4" cy="923.3" r="5.1" class="c"/>
<circle cx="384.0" cy="782.3" r="5.1" class="o"/>
<circle cx="421.7" cy="773.7" r="5.1" class="o"/>
<circle cx="272.0" cy="812.3" r="5.1" class="c"/>
<circle cx="374.7" cy="756.3" r="5.1" class="c"/>
<circle cx="415.2" cy="1129.1" r="5.1" class="o"/>
<circle cx="607.1" cy="808.3" r="5.1" class="c"/>
<circle cx="519.2" cy="858.2" r="5.1" class="c"/>
</g>
<polygon points="242.0,778.3 254.1,780.9 266.2,783.6 278.2,786.2 290.3,788.8 302.4,791.4 314.5,794.0 326.5,796.6 338.6,799.1 350.7,801.7 362.8,804.2 374.8,806.7 386.9,809.2 399.0,811.7 411.1,814.1 423.1,816.5 435.2,819.0 447.3,821.3 459.4,823.7 471.5,826.0 483.5,828.4 495.6,830.7 507.7,833.0 519.8,835.2 531.8,837.5 543.9,839.7 556.0,842.0 568.1,844.2 580.1,846.4 592.2,848.6 604.3,850.8 604.3,862.8 592.2,860.2 580.1,857.5 568.1,854.9 556.0,852.3 543.9,849.7 531.8,847.1 519.8,844.5 507.7,842.0 495.6,839.4 483.5,836.9 471.5,834.4 459.4,831.9 447.3,829.4 435.2,827.0 423.1,824.5 411.1,822.1 399.0,819.8 386.9,817.4 374.8,815.1 362.8,812.7 350.7,810.4 338.6,808.1 326.5,805.9 314.5,803.6 302.4,801.4 290.3,799.1 278.2,796.9 266.2,794.7 254.1,792.5 242.0,790.3" fill="#00FFFF" fill-opacity="0.4"/>
<line x1="242" y1="784.3" x2="604.3" y2="856.8" stroke="#0000FF" stroke-width="6.6"/>
<polygon points="242.0,830.3 254.1,828.7 266.2,827.1 278.3,825.5 290.4,823.9 302.5,822.2 314.6,820.6 326.7,818.9 338.8,817.3 350.9,815.5 363.0,813.8 375.1,812.0 387.2,810.2 399.3,808.3 411.4,806.3 423.5,804.3 435.6,802.1 447.7,799.9 459.8,797.6 471.9,795.2 484.0,792.7 496.1,790.2 508.2,787.6 520.3,785.0 532.4,782.3 544.5,779.6 556.6,776.9 568.7,774.1 580.8,771.4 592.9,768.6 605.0,765.8 605.0,785.8 592.9,787.5 580.8,789.2 568.7,790.9 556.6,792.6 544.5,794.4 532.4,796.2 520.3,798.0 508.2,799.8 496.1,801.7 484.0,803.7 471.9,805.7 459.8,807.8 447.7,809.9 435.6,812.2 423.5,814.5 411.4,816.9 399.3,819.5 387.2,822.0 375.1,824.7 363.0,827.4 350.9,830.1 338.8,832.9 326.7,835.7 314.6,838.5 302.5,841.4 290.4,844.2 278.3,847.1 266.2,849.9 254.1,852.8 242.0,855.7" fill="#FF8C00" fill-opacity="0.4"/>
<line x1="242" y1="843" x2="605" y2="775.8" stroke="#FF0000" stroke-width="6.6"/>
<path d="M175.6,662.9 V1162.6 H650.0" fill="none" stroke="#000" stroke-width="1.4"/>
<line x1="198.1" y1="1162.6" x2="198.1" y2="1165.8" stroke="#333" stroke-width="1.3"/>
<text x="198.1" y="1205.9" font-family="'Liberation Sans', Arial, sans-serif" font-size="36.3" font-weight="normal" font-style="normal" fill="#1e1e1e" text-anchor="middle">8</text>
<line x1="305.7" y1="1162.6" x2="305.7" y2="1165.8" stroke="#333" stroke-width="1.3"/>
<text x="305.7" y="1205.9" font-family="'Liberation Sans', Arial, sans-serif" font-size="36.3" font-weight="normal" font-style="normal" fill="#1e1e1e" text-anchor="middle">10</text>
<line x1="413.2" y1="1162.6" x2="413.2" y2="1165.8" stroke="#333" stroke-width="1.3"/>
<text x="413.2" y="1205.9" font-family="'Liberation Sans', Arial, sans-serif" font-size="36.3" font-weight="normal" font-style="normal" fill="#1e1e1e" text-anchor="middle">12</text>
<line x1="520.8" y1="1162.6" x2="520.8" y2="1165.8" stroke="#333" stroke-width="1.3"/>
<text x="520.8" y="1205.9" font-family="'Liberation Sans', Arial, sans-serif" font-size="36.3" font-weight="normal" font-style="normal" fill="#1e1e1e" text-anchor="middle">14</text>
<line x1="628.4" y1="1162.6" x2="628.4" y2="1165.8" stroke="#333" stroke-width="1.3"/>
<text x="628.4" y="1205.9" font-family="'Liberation Sans', Arial, sans-serif" font-size="36.3" font-weight="normal" font-style="normal" fill="#1e1e1e" text-anchor="middle">16</text>
<line x1="172.4" y1="1065.8" x2="175.6" y2="1065.8" stroke="#333" stroke-width="1.3"/>
<text x="167.8" y="1080.4" font-family="'Liberation Sans', Arial, sans-serif" font-size="36.3" font-weight="normal" font-style="normal" fill="#1e1e1e" text-anchor="end">2</text>
<line x1="172.4" y1="938.3" x2="175.6" y2="938.3" stroke="#333" stroke-width="1.3"/>
<text x="167.8" y="952.9" font-family="'Liberation Sans', Arial, sans-serif" font-size="36.3" font-weight="normal" font-style="normal" fill="#1e1e1e" text-anchor="end">3</text>
<line x1="172.4" y1="810.9" x2="175.6" y2="810.9" stroke="#333" stroke-width="1.3"/>
<text x="167.8" y="825.5" font-family="'Liberation Sans', Arial, sans-serif" font-size="36.3" font-weight="normal" font-style="normal" fill="#1e1e1e" text-anchor="end">4</text>
<line x1="172.4" y1="683.4" x2="175.6" y2="683.4" stroke="#333" stroke-width="1.3"/>
<text x="167.8" y="698.0" font-family="'Liberation Sans', Arial, sans-serif" font-size="36.3" font-weight="normal" font-style="normal" fill="#1e1e1e" text-anchor="end">5</text>
<g stroke="#000" stroke-width="1.2">
<circle cx="961.3" cy="829.1" r="5.1" class="c"/>
<circle cx="783.9" cy="904.0" r="5.1" class="c"/>
<circle cx="868.4" cy="802.0" r="5.1" class="c"/>
<circle cx="1141.7" cy="801.6" r="5.1" class="c"/>
<circle cx="830.2" cy="765.6" r="5.1" class="c"/>
<circle cx="972.8" cy="767.1" r="5.1" class="c"/>
<circle cx="963.1" cy="714.9" r="5.1" class="c"/>
<circle cx="968.4" cy="774.2" r="5.1" class="c"/>
<circle cx="871.6" cy="866.5" r="5.1" class="c"/>
<circle cx="789.9" cy="893.3" r="5.1" class="c"/>
<circle cx="965.3" cy="881.2" r="5.1" class="c"/>
<circle cx="956.0" cy="741.5" r="5.1" class="c"/>
<circle cx="1049.1" cy="867.6" r="5.1" class="c"/>
<circle cx="1117.8" cy="798.0" r="5.1" class="c"/>
<circle cx="1051.0" cy="867.5" r="5.1" class="c"/>
<circle cx="886.6" cy="713.3" r="5.1" class="c"/>
<circle cx="836.8" cy="881.2" r="5.1" class="o"/>
<circle cx="1015.1" cy="906.0" r="5.1" class="c"/>
<circle cx="792.6" cy="741.0" r="5.1" class="o"/>
<circle cx="988.7" cy="810.4" r="5.1" class="c"/>
<circle cx="971.2" cy="834.1" r="5.1" class="c"/>
<circle cx="789.9" cy="917.4" r="5.1" class="c"/>
<circle cx="1084.4" cy="840.1" r="5.1" class="c"/>
<circle cx="962.6" cy="886.6" r="5.1" class="c"/>
<circle cx="988.7" cy="817.6" r="5.1" class="c"/>
<circle cx="788.8" cy="817.5" r="5.1" class="c"/>
<circle cx="802.5" cy="884.1" r="5.1" class="c"/>
<circle cx="798.0" cy="779.0" r="5.1" class="o"/>
<circle cx="789.9" cy="875.9" r="5.1" class="c"/>
<circle cx="847.5" cy="838.4" r="5.1" class="o"/>
<circle cx="878.2" cy="869.8" r="5.1" class="c"/>
<circle cx="872.9" cy="870.6" r="5.1" class="c"/>
<circle cx="1046.2" cy="783.0" r="5.1" class="c"/>
<circle cx="1052.4" cy="765.3" r="5.1" class="c"/>
<circle cx="921.5" cy="813.1" r="5.1" class="c"/>
<circle cx="949.8" cy="791.0" r="5.1" class="c"/>
<circle cx="993.8" cy="857.3" r="5.1" class="c"/>
<circle cx="784.5" cy="928.1" r="5.1" class="c"/>
<circle cx="821.0" cy="877.3" r="5.1" class="c"/>
<circle cx="1003.8" cy="822.8" r="5.1" class="c"/>
<circle cx="827.6" cy="783.1" r="5.1" class="c"/>
<circle cx="788.7" cy="784.4" r="5.1" class="o"/>
<circle cx="788.7" cy="767.0" r="5.1" class="o"/>
<circle cx="828.2" cy="723.4" r="5.1" class="c"/>
<circle cx="902.4" cy="879.9" r="5.1" class="c"/>
<circle cx="869.1" cy="735.5" r="5.1" class="o"/>
<circle cx="856.9" cy="863.8" r="5.1" class="c"/>
<circle cx="915.3" cy="785.7" r="5.1" class="c"/>
<circle cx="828.1" cy="845.2" r="5.1" class="c"/>
<circle cx="775.3" cy="795.8" r="5.1" class="o"/>
<circle cx="1138.0" cy="858.6" r="5.1" class="c"/>
<circle cx="1002.0" cy="754.7" r="5.1" class="c"/>
<circle cx="1101.9" cy="788.3" r="5.1" class="c"/>
<circle cx="1082.4" cy="856.6" r="5.1" class="c"/>
<circle cx="828.9" cy="733.4" r="5.1" class="o"/>
<circle cx="1089.2" cy="892.3" r="5.1" class="c"/>
<circle cx="796.7" cy="736.1" r="5.1" class="o"/>
<circle cx="828.1" cy="797.3" r="5.1" class="o"/>
<circle cx="823.4" cy="782.7" r="5.1" class="o"/>
<circle cx="795.3" cy="853.1" r="5.1" class="o"/>
<circle cx="999.3" cy="842.2" r="5.1" class="c"/>
<circle cx="846.4" cy="850.3" r="5.1" class="o"/>
<circle cx="1007.0" cy="837.7" r="5.1" class="c"/>
<circle cx="810.1" cy="808.6" r="5.1" class="c"/>
<circle cx="763.2" cy="822.0" r="5.1" class="c"/>
<circle cx="845.0" cy="787.1" r="5.1" class="c"/>
<circle cx="1106.4" cy="764.9" r="5.1" class="c"/>
<circle cx="924.7" cy="1021.8" r="5.1" class="c"/>
<circle cx="1069.1" cy="877.7" r="5.1" class="c"/>
<circle cx="1050.1" cy="892.3" r="5.1" class="c"/>
<circle cx="828.9" cy="894.3" r="5.1" class="c"/>
<circle cx="810.0" cy="841.7" r="5.1" class="o"/>
<circle cx="1095.8" cy="861.3" r="5.1" class="c"/>
<circle cx="841.6" cy="772.3" r="5.1" class="o"/>
<circle cx="1086.0" cy="823.7" r="5.1" class="c"/>
<circle cx="1029.4" cy="789.2" r="5.1" class="c"/>
<circle cx="854.8" cy="830.1" r="5.1" class="c"/>
<circle cx="978.1" cy="788.3" r="5.1" class="c"/>
<circle cx="1124.2" cy="823.5" r="5.1" class="c"/>
<circle cx="818.2" cy="730.8" r="5.1" class="o"/>
<circle cx="757.1" cy="818.0" r="5.1" class="c"/>
<circle cx="1048.7" cy="847.0" r="5.1" class="c"/>
<circle cx="808.4" cy="795.9" r="5.1" class="o"/>
<circle cx="808.9" cy="820.2" r="5.1" class="c"/>
<circle cx="1043.3" cy="882.0" r="5.1" class="c"/>
<circle cx="994.0" cy="774.2" r="5.1" class="c"/>
<circle cx="1012.6" cy="727.3" r="5.1" class="c"/>
<circle cx="850.2" cy="859.8" r="5.1" class="o"/>
<circle cx="1093.1" cy="826.3" r="5.1" class="c"/>
<circle cx="878.5" cy="749.5" r="5.1" class="c"/>
<circle cx="779.3" cy="776.4" r="5.1" class="o"/>
<circle cx="935.7" cy="805.1" r="5.1" class="c"/>
<circle cx="831.4" cy="817.9" r="5.1" class="o"/>
<circle cx="967.5" cy="742.3" r="5.1" class="c"/>
<circle cx="814.1" cy="776.6" r="5.1" class="c"/>
<circle cx="830.1" cy="863.8" r="5.1" class="o"/>
<circle cx="950.6" cy="844.4" r="5.1" class="c"/>
<circle cx="810.1" cy="775.7" r="5.1" class="o"/>
<circle cx="780.6" cy="740.1" r="5.1" class="o"/>
<circle cx="785.4" cy="774.4" r="5.1" class="c"/>
<circle cx="1062.5" cy="902.6" r="5.1" class="c"/>
<circle cx="823.2" cy="814.9" r="5.1" class="c"/>
<circle cx="785.9" cy="842.4" r="5.1" class="o"/>
<circle cx="846.3" cy="778.4" r="5.1" class="o"/>
<circle cx="966.7" cy="924.8" r="5.1" class="c"/>
<circle cx="839.5" cy="719.0" r="5.1" class="c"/>
<circle cx="816.8" cy="722.7" r="5.1" class="o"/>
<circle cx="903.7" cy="865.2" r="5.1" class="c"/>
<circle cx="832.4" cy="813.5" r="5.1" class="o"/>
<circle cx="839.4" cy="837.7" r="5.1" class="c"/>
<circle cx="794.8" cy="717.3" r="5.1" class="c"/>
<circle cx="798.3" cy="1137.3" r="5.1" class="c"/>
<circle cx="786.6" cy="847.1" r="5.1" class="c"/>
<circle cx="975.5" cy="753.0" r="5.1" class="c"/>
<circle cx="949.2" cy="834.4" r="5.1" class="c"/>
<circle cx="994.0" cy="767.1" r="5.1" class="c"/>
<circle cx="823.5" cy="749.5" r="5.1" class="c"/>
<circle cx="1031.2" cy="742.3" r="5.1" class="c"/>
<circle cx="841.6" cy="827.9" r="5.1" class="o"/>
<circle cx="1046.0" cy="914.9" r="5.1" class="c"/>
<circle cx="997.6" cy="798.0" r="5.1" class="c"/>
<circle cx="1076.2" cy="847.0" r="5.1" class="c"/>
<circle cx="817.4" cy="742.4" r="5.1" class="o"/>
<circle cx="871.8" cy="807.9" r="5.1" class="o"/>
<circle cx="794.0" cy="800.5" r="5.1" class="o"/>
<circle cx="1080.7" cy="756.5" r="5.1" class="c"/>
<circle cx="1053.6" cy="866.2" r="5.1" class="c"/>
<circle cx="782.0" cy="780.8" r="5.1" class="o"/>
<circle cx="879.9" cy="816.6" r="5.1" class="c"/>
<circle cx="946.3" cy="721.1" r="5.1" class="c"/>
<circle cx="814.0" cy="825.3" r="5.1" class="c"/>
<circle cx="808.8" cy="744.2" r="5.1" class="c"/>
<circle cx="885.0" cy="833.0" r="5.1" class="c"/>
<circle cx="950.7" cy="748.5" r="5.1" class="c"/>
<circle cx="893.3" cy="819.3" r="5.1" class="c"/>
<circle cx="828.9" cy="748.2" r="5.1" class="o"/>
<circle cx="827.5" cy="898.2" r="5.1" class="c"/>
<circle cx="995.9" cy="921.1" r="5.1" class="c"/>
<circle cx="973.2" cy="867.6" r="5.1" class="c"/>
<circle cx="814.9" cy="893.9" r="5.1" class="c"/>
<circle cx="1079.6" cy="851.8" r="5.1" class="c"/>
<circle cx="1076.0" cy="825.7" r="5.1" class="c"/>
<circle cx="832.6" cy="852.7" r="5.1" class="c"/>
<circle cx="976.3" cy="802.5" r="5.1" class="c"/>
<circle cx="812.1" cy="723.6" r="5.1" class="o"/>
<circle cx="832.8" cy="910.0" r="5.1" class="o"/>
<circle cx="799.9" cy="723.8" r="5.1" class="o"/>
<circle cx="956.0" cy="718.5" r="5.1" class="c"/>
<circle cx="757.1" cy="840.4" r="5.1" class="c"/>
<circle cx="796.7" cy="768.3" r="5.1" class="o"/>
<circle cx="863.8" cy="799.2" r="5.1" class="c"/>
<circle cx="842.8" cy="912.7" r="5.1" class="o"/>
<circle cx="789.9" cy="942.8" r="5.1" class="c"/>
<circle cx="1054.2" cy="846.3" r="5.1" class="c"/>
<circle cx="838.7" cy="721.1" r="5.1" class="o"/>
<circle cx="1057.7" cy="857.3" r="5.1" class="c"/>
<circle cx="808.7" cy="842.2" r="5.1" class="c"/>
<circle cx="1026.1" cy="884.0" r="5.1" class="c"/>
<circle cx="874.3" cy="891.3" r="5.1" class="o"/>
<circle cx="924.2" cy="826.3" r="5.1" class="c"/>
<circle cx="1078.6" cy="780.4" r="5.1" class="c"/>
<circle cx="785.9" cy="830.7" r="5.1" class="c"/>
<circle cx="1031.2" cy="768.9" r="5.1" class="c"/>
<circle cx="935.9" cy="859.8" r="5.1" class="c"/>
<circle cx="983.4" cy="828.1" r="5.1" class="c"/>
<circle cx="1069.7" cy="773.0" r="5.1" class="c"/>
<circle cx="925.1" cy="835.7" r="5.1" class="c"/>
<circle cx="895.7" cy="854.5" r="5.1" class="c"/>
<circle cx="801.1" cy="716.7" r="5.1" class="o"/>
<circle cx="933.0" cy="757.4" r="5.1" class="c"/>
<circle cx="877.6" cy="877.2" r="5.1" class="c"/>
<circle cx="838.1" cy="845.1" r="5.1" class="c"/>
<circle cx="948.1" cy="802.5" r="5.1" class="c"/>
<circle cx="1064.8" cy="801.6" r="5.1" class="c"/>
<circle cx="920.6" cy="722.0" r="5.1" class="c"/>
<circle cx="778.6" cy="764.3" r="5.1" class="o"/>
<circle cx="796.6" cy="928.1" r="5.1" class="c"/>
<circle cx="850.8" cy="881.0" r="5.1" class="o"/>
<circle cx="933.9" cy="731.7" r="5.1" class="c"/>
<circle cx="775.8" cy="906.0" r="5.1" class="o"/>
<circle cx="834.3" cy="749.5" r="5.1" class="o"/>
<circle cx="831.4" cy="858.5" r="5.1" class="c"/>
<circle cx="810.9" cy="727.7" r="5.1" class="c"/>
<circle cx="804.8" cy="816.6" r="5.1" class="o"/>
<circle cx="1122.9" cy="798.3" r="5.1" class="c"/>
<circle cx="876.9" cy="847.8" r="5.1" class="o"/>
<circle cx="966.7" cy="847.8" r="5.1" class="c"/>
<circle cx="1136.6" cy="844.9" r="5.1" class="c"/>
<circle cx="938.3" cy="745.0" r="5.1" class="c"/>
<circle cx="804.1" cy="807.2" r="5.1" class="o"/>
<circle cx="823.0" cy="891.9" r="5.1" class="o"/>
<circle cx="1061.2" cy="820.2" r="5.1" class="c"/>
<circle cx="1015.8" cy="849.0" r="5.1" class="c"/>
<circle cx="914.5" cy="809.5" r="5.1" class="c"/>
<circle cx="1035.0" cy="868.9" r="5.1" class="c"/>
<circle cx="788.7" cy="753.8" r="5.1" class="o"/>
<circle cx="798.1" cy="751.6" r="5.1" class="o"/>
<circle cx="848.2" cy="897.4" r="5.1" class="c"/>
<circle cx="784.3" cy="722.1" r="5.1" class="o"/>
<circle cx="937.4" cy="738.8" r="5.1" class="c"/>
<circle cx="874.3" cy="936.1" r="5.1" class="o"/>
<circle cx="1124.2" cy="823.8" r="5.1" class="c"/>
<circle cx="799.4" cy="795.5" r="5.1" class="o"/>
<circle cx="1154.1" cy="792.7" r="5.1" class="c"/>
<circle cx="790.7" cy="725.4" r="5.1" class="o"/>
<circle cx="958.7" cy="802.5" r="5.1" class="c"/>
<circle cx="915.8" cy="910.0" r="5.1" class="c"/>
<circle cx="796.6" cy="841.1" r="5.1" class="o"/>
<circle cx="891.0" cy="928.1" r="5.1" class="c"/>
<circle cx="792.0" cy="734.1" r="5.1" class="o"/>
<circle cx="932.1" cy="750.3" r="5.1" class="c"/>
<circle cx="805.3" cy="895.3" r="5.1" class="o"/>
<circle cx="1029.7" cy="763.6" r="5.1" class="c"/>
<circle cx="965.5" cy="874.6" r="5.1" class="c"/>
<circle cx="1002.1" cy="783.8" r="5.1" class="c"/>
<circle cx="766.5" cy="843.1" r="5.1" class="c"/>
<circle cx="839.4" cy="851.8" r="5.1" class="c"/>
<circle cx="779.3" cy="752.3" r="5.1" class="o"/>
<circle cx="954.6" cy="830.4" r="5.1" class="c"/>
<circle cx="1163.8" cy="800.7" r="5.1" class="c"/>
<circle cx="960.4" cy="791.9" r="5.1" class="c"/>
<circle cx="1027.6" cy="756.5" r="5.1" class="c"/>
<circle cx="948.1" cy="724.7" r="5.1" class="c"/>
<circle cx="846.7" cy="1063.8" r="5.1" class="c"/>
<circle cx="1011.7" cy="876.5" r="5.1" class="c"/>
<circle cx="791.3" cy="760.3" r="5.1" class="o"/>
<circle cx="826.3" cy="762.0" r="5.1" class="o"/>
<circle cx="1132.0" cy="822.8" r="5.1" class="c"/>
<circle cx="929.5" cy="714.9" r="5.1" class="c"/>
<circle cx="966.6" cy="766.2" r="5.1" class="c"/>
<circle cx="845.3" cy="750.0" r="5.1" class="o"/>
<circle cx="1029.5" cy="858.6" r="5.1" class="c"/>
<circle cx="972.8" cy="788.3" r="5.1" class="c"/>
<circle cx="1054.2" cy="796.3" r="5.1" class="c"/>
<circle cx="870.2" cy="907.4" r="5.1" class="c"/>
<circle cx="975.5" cy="740.6" r="5.1" class="c"/>
<circle cx="828.7" cy="842.4" r="5.1" class="c"/>
<circle cx="827.4" cy="929.4" r="5.1" class="c"/>
<circle cx="1050.1" cy="881.3" r="5.1" class="c"/>
<circle cx="826.1" cy="871.2" r="5.1" class="c"/>
<circle cx="815.5" cy="714.0" r="5.1" class="c"/>
<circle cx="851.5" cy="900.0" r="5.1" class="c"/>
<circle cx="1137.3" cy="811.3" r="5.1" class="c"/>
<circle cx="1064.2" cy="840.2" r="5.1" class="c"/>
<circle cx="991.4" cy="819.3" r="5.1" class="c"/>
<circle cx="849.2" cy="767.0" r="5.1" class="o"/>
<circle cx="831.3" cy="894.3" r="5.1" class="c"/>
<circle cx="771.8" cy="865.2" r="5.1" class="c"/>
<circle cx="1109.9" cy="798.9" r="5.1" class="c"/>
<circle cx="1036.4" cy="919.7" r="5.1" class="c"/>
<circle cx="1021.3" cy="837.4" r="5.1" class="c"/>
<circle cx="1002.9" cy="773.3" r="5.1" class="c"/>
<circle cx="823.4" cy="839.1" r="5.1" class="o"/>
<circle cx="840.7" cy="839.2" r="5.1" class="o"/>
<circle cx="1078.9" cy="830.5" r="5.1" class="c"/>
<circle cx="816.2" cy="716.0" r="5.1" class="o"/>
<circle cx="815.5" cy="738.8" r="5.1" class="o"/>
<circle cx="864.5" cy="765.0" r="5.1" class="c"/>
<circle cx="849.0" cy="796.5" r="5.1" class="c"/>
<circle cx="870.3" cy="807.9" r="5.1" class="o"/>
<circle cx="832.8" cy="886.6" r="5.1" class="o"/>
<circle cx="1046.0" cy="906.0" r="5.1" class="c"/>
<circle cx="814.0" cy="889.3" r="5.1" class="o"/>
<circle cx="998.6" cy="850.4" r="5.1" class="c"/>
<circle cx="1046.0" cy="925.2" r="5.1" class="c"/>
<circle cx="850.4" cy="756.2" r="5.1" class="c"/>
<circle cx="812.1" cy="787.8" r="5.1" class="c"/>
<circle cx="877.2" cy="775.0" r="5.1" class="c"/>
<circle cx="819.4" cy="914.7" r="5.1" class="c"/>
<circle cx="781.2" cy="763.6" r="5.1" class="c"/>
<circle cx="777.8" cy="839.7" r="5.1" class="c"/>
<circle cx="1017.0" cy="781.2" r="5.1" class="c"/>
<circle cx="786.0" cy="801.9" r="5.1" class="o"/>
<circle cx="1038.2" cy="760.9" r="5.1" class="c"/>
<circle cx="1011.7" cy="824.6" r="5.1" class="c"/>
<circle cx="828.9" cy="797.8" r="5.1" class="c"/>
<circle cx="794.6" cy="845.1" r="5.1" class="c"/>
<circle cx="846.7" cy="807.5" r="5.1" class="c"/>
<circle cx="1040.0" cy="798.0" r="5.1" class="c"/>
<circle cx="1077.0" cy="788.1" r="5.1" class="c"/>
<circle cx="851.5" cy="865.2" r="5.1" class="o"/>
<circle cx="835.7" cy="849.7" r="5.1" class="o"/>
<circle cx="794.6" cy="860.5" r="5.1" class="o"/>
<circle cx="990.4" cy="864.1" r="5.1" class="c"/>
<circle cx="877.6" cy="859.1" r="5.1" class="o"/>
<circle cx="908.8" cy="684.0" r="5.1" class="c"/>
<circle cx="1047.1" cy="767.1" r="5.1" class="c"/>
<circle cx="888.6" cy="812.6" r="5.1" class="c"/>
<circle cx="778.5" cy="869.9" r="5.1" class="c"/>
<circle cx="1024.0" cy="845.6" r="5.1" class="c"/>
<circle cx="865.4" cy="990.5" r="5.1" class="c"/>
<circle cx="909.1" cy="723.8" r="5.1" class="c"/>
<circle cx="788.2" cy="788.6" r="5.1" class="c"/>
<circle cx="1111.9" cy="831.9" r="5.1" class="c"/>
<circle cx="1086.0" cy="775.1" r="5.1" class="c"/>
<circle cx="846.2" cy="771.9" r="5.1" class="o"/>
<circle cx="1067.4" cy="777.7" r="5.1" class="c"/>
<circle cx="945.2" cy="863.8" r="5.1" class="c"/>
<circle cx="942.7" cy="758.3" r="5.1" class="c"/>
<circle cx="779.2" cy="875.9" r="5.1" class="c"/>
<circle cx="938.3" cy="773.3" r="5.1" class="c"/>
<circle cx="891.7" cy="849.8" r="5.1" class="c"/>
<circle cx="794.7" cy="757.6" r="5.1" class="o"/>
<circle cx="955.9" cy="877.2" r="5.1" class="c"/>
<circle cx="1078.9" cy="855.8" r="5.1" class="c"/>
<circle cx="943.2" cy="892.6" r="5.1" class="c"/>
<circle cx="842.3" cy="803.2" r="5.1" class="c"/>
<circle cx="948.9" cy="729.1" r="5.1" class="c"/>
<circle cx="1050.8" cy="837.4" r="5.1" class="c"/>
<circle cx="942.7" cy="738.8" r="5.1" class="c"/>
<circle cx="971.8" cy="833.5" r="5.1" class="c"/>
<circle cx="1138.0" cy="877.2" r="5.1" class="c"/>
<circle cx="1029.4" cy="752.1" r="5.1" class="c"/>
<circle cx="847.5" cy="830.4" r="5.1" class="c"/>
<circle cx="854.2" cy="901.3" r="5.1" class="c"/>
<circle cx="799.3" cy="886.6" r="5.1" class="c"/>
<circle cx="929.5" cy="726.4" r="5.1" class="c"/>
<circle cx="1129.3" cy="755.6" r="5.1" class="c"/>
<circle cx="847.8" cy="747.8" r="5.1" class="o"/>
<circle cx="1100.1" cy="780.4" r="5.1" class="c"/>
<circle cx="864.9" cy="857.1" r="5.1" class="c"/>
<circle cx="953.4" cy="757.4" r="5.1" class="c"/>
<circle cx="798.0" cy="807.2" r="5.1" class="o"/>
<circle cx="974.6" cy="797.2" r="5.1" class="c"/>
<circle cx="846.1" cy="842.4" r="5.1" class="o"/>
<circle cx="874.3" cy="942.8" r="5.1" class="o"/>
<circle cx="865.6" cy="896.0" r="5.1" class="c"/>
<circle cx="855.7" cy="772.3" r="5.1" class="c"/>
<circle cx="988.8" cy="765.7" r="5.1" class="c"/>
<circle cx="783.9" cy="883.9" r="5.1" class="c"/>
<circle cx="1002.1" cy="874.6" r="5.1" class="c"/>
<circle cx="827.9" cy="793.6" r="5.1" class="o"/>
<circle cx="868.9" cy="847.8" r="5.1" class="c"/>
<circle cx="881.2" cy="781.7" r="5.1" class="c"/>
<circle cx="822.1" cy="748.6" r="5.1" class="o"/>
<circle cx="969.3" cy="753.0" r="5.1" class="c"/>
<circle cx="774.5" cy="863.8" r="5.1" class="c"/>
<circle cx="837.3" cy="795.2" r="5.1" class="o"/>
<circle cx="835.6" cy="767.0" r="5.1" class="c"/>
<circle cx="832.9" cy="789.8" r="5.1" class="o"/>
<circle cx="910.9" cy="795.4" r="5.1" class="c"/>
<circle cx="807.3" cy="857.1" r="5.1" class="c"/>
<circle cx="804.6" cy="846.4" r="5.1" class="c"/>
<circle cx="775.2" cy="858.5" r="5.1" class="c"/>
<circle cx="820.6" cy="836.1" r="5.1" class="c"/>
<circle cx="787.2" cy="778.8" r="5.1" class="o"/>
<circle cx="855.1" cy="748.2" r="5.1" class="c"/>
<circle cx="790.1" cy="796.9" r="5.1" class="o"/>
<circle cx="981.5" cy="837.4" r="5.1" class="c"/>
<circle cx="930.5" cy="856.5" r="5.1" class="c"/>
<circle cx="803.3" cy="790.4" r="5.1" class="c"/>
<circle cx="973.7" cy="745.9" r="5.1" class="c"/>
<circle cx="1131.1" cy="855.9" r="5.1" class="c"/>
<circle cx="865.1" cy="775.0" r="5.1" class="c"/>
<circle cx="1035.4" cy="772.2" r="5.1" class="c"/>
<circle cx="791.1" cy="762.3" r="5.1" class="o"/>
<circle cx="877.7" cy="802.0" r="5.1" class="c"/>
<circle cx="866.5" cy="793.1" r="5.1" class="o"/>
<circle cx="791.3" cy="753.6" r="5.1" class="o"/>
<circle cx="909.1" cy="878.6" r="5.1" class="c"/>
<circle cx="1116.0" cy="786.6" r="5.1" class="c"/>
<circle cx="828.9" cy="811.2" r="5.1" class="o"/>
<circle cx="776.5" cy="894.6" r="5.1" class="c"/>
<circle cx="1129.2" cy="1023.1" r="5.1" class="c"/>
<circle cx="874.3" cy="929.4" r="5.1" class="c"/>
<circle cx="792.0" cy="717.3" r="5.1" class="o"/>
<circle cx="837.0" cy="811.2" r="5.1" class="o"/>
<circle cx="838.3" cy="745.5" r="5.1" class="o"/>
<circle cx="785.6" cy="866.7" r="5.1" class="c"/>
<circle cx="777.2" cy="801.7" r="5.1" class="o"/>
<circle cx="839.6" cy="736.8" r="5.1" class="c"/>
<circle cx="842.1" cy="848.9" r="5.1" class="c"/>
<circle cx="997.6" cy="806.9" r="5.1" class="c"/>
<circle cx="948.1" cy="704.9" r="5.1" class="c"/>
<circle cx="859.1" cy="782.4" r="5.1" class="o"/>
<circle cx="784.6" cy="819.3" r="5.1" class="c"/>
<circle cx="792.1" cy="887.5" r="5.1" class="c"/>
<circle cx="847.0" cy="803.0" r="5.1" class="o"/>
<circle cx="954.6" cy="943.5" r="5.1" class="c"/>
<circle cx="963.1" cy="792.3" r="5.1" class="c"/>
<circle cx="842.3" cy="803.2" r="5.1" class="o"/>
<circle cx="1018.8" cy="791.0" r="5.1" class="c"/>
<circle cx="1009.9" cy="789.2" r="5.1" class="c"/>
<circle cx="800.8" cy="793.6" r="5.1" class="o"/>
<circle cx="799.2" cy="737.7" r="5.1" class="o"/>
<circle cx="782.5" cy="943.5" r="5.1" class="c"/>
<circle cx="796.4" cy="747.4" r="5.1" class="c"/>
<circle cx="850.1" cy="887.4" r="5.1" class="c"/>
<circle cx="827.6" cy="758.9" r="5.1" class="o"/>
<circle cx="806.2" cy="719.6" r="5.1" class="o"/>
<circle cx="836.8" cy="890.6" r="5.1" class="o"/>
<circle cx="819.4" cy="863.8" r="5.1" class="o"/>
<circle cx="893.0" cy="879.9" r="5.1" class="c"/>
<circle cx="855.5" cy="837.1" r="5.1" class="c"/>
<circle cx="832.8" cy="916.1" r="5.1" class="o"/>
<circle cx="1057.4" cy="835.7" r="5.1" class="c"/>
<circle cx="1015.2" cy="764.4" r="5.1" class="c"/>
<circle cx="831.4" cy="928.1" r="5.1" class="c"/>
<circle cx="803.8" cy="756.4" r="5.1" class="o"/>
<circle cx="1094.8" cy="795.4" r="5.1" class="c"/>
<circle cx="795.3" cy="897.3" r="5.1" class="c"/>
<circle cx="785.7" cy="857.3" r="5.1" class="c"/>
<circle cx="1009.2" cy="784.2" r="5.1" class="c"/>
<circle cx="792.7" cy="730.8" r="5.1" class="o"/>
<circle cx="925.9" cy="770.6" r="5.1" class="c"/>
<circle cx="955.1" cy="762.7" r="5.1" class="c"/>
<circle cx="769.9" cy="796.5" r="5.1" class="c"/>
<circle cx="969.3" cy="867.8" r="5.1" class="c"/>
<circle cx="802.0" cy="862.5" r="5.1" class="c"/>
<circle cx="789.3" cy="743.5" r="5.1" class="o"/>
<circle cx="924.2" cy="733.5" r="5.1" class="c"/>
<circle cx="842.1" cy="859.1" r="5.1" class="o"/>
<circle cx="797.0" cy="1037.8" r="5.1" class="o"/>
<circle cx="845.4" cy="1137.3" r="5.1" class="c"/>
<circle cx="836.3" cy="793.1" r="5.1" class="c"/>
<circle cx="820.9" cy="793.8" r="5.1" class="o"/>
<circle cx="875.5" cy="841.4" r="5.1" class="c"/>
<circle cx="914.5" cy="734.4" r="5.1" class="c"/>
<circle cx="1059.5" cy="785.7" r="5.1" class="c"/>
<circle cx="850.2" cy="889.9" r="5.1" class="o"/>
<circle cx="1125.8" cy="762.7" r="5.1" class="c"/>
<circle cx="1126.7" cy="816.6" r="5.1" class="c"/>
<circle cx="974.6" cy="846.3" r="5.1" class="c"/>
<circle cx="1112.4" cy="761.6" r="5.1" class="c"/>
<circle cx="1119.4" cy="761.4" r="5.1" class="c"/>
<circle cx="1030.3" cy="821.9" r="5.1" class="c"/>
<circle cx="821.0" cy="735.5" r="5.1" class="o"/>
<circle cx="894.6" cy="722.7" r="5.1" class="c"/>
<circle cx="953.4" cy="773.3" r="5.1" class="c"/>
<circle cx="792.6" cy="916.1" r="5.1" class="c"/>
<circle cx="1004.6" cy="797.2" r="5.1" class="c"/>
<circle cx="822.7" cy="835.5" r="5.1" class="o"/>
<circle cx="897.3" cy="788.4" r="5.1" class="c"/>
<circle cx="823.5" cy="789.8" r="5.1" class="o"/>
<circle cx="986.5" cy="801.9" r="5.1" class="c"/>
<circle cx="1029.4" cy="798.0" r="5.1" class="c"/>
<circle cx="1023.2" cy="777.7" r="5.1" class="c"/>
<circle cx="1085.0" cy="863.3" r="5.1" class="c"/>
<circle cx="1048.7" cy="859.3" r="5.1" class="c"/>
<circle cx="854.4" cy="763.0" r="5.1" class="c"/>
<circle cx="778.8" cy="830.2" r="5.1" class="c"/>
<circle cx="1108.5" cy="884.7" r="5.1" class="c"/>
<circle cx="914.5" cy="719.4" r="5.1" class="c"/>
<circle cx="869.1" cy="727.4" r="5.1" class="o"/>
<circle cx="811.3" cy="865.2" r="5.1" class="c"/>
<circle cx="981.7" cy="780.2" r="5.1" class="c"/>
<circle cx="902.4" cy="873.2" r="5.1" class="c"/>
<circle cx="897.3" cy="796.5" r="5.1" class="c"/>
<circle cx="1130.2" cy="736.2" r="5.1" class="c"/>
<circle cx="771.2" cy="835.7" r="5.1" class="c"/>
<circle cx="818.2" cy="743.5" r="5.1" class="o"/>
<circle cx="1079.8" cy="779.5" r="5.1" class="c"/>
<circle cx="855.0" cy="812.6" r="5.1" class="c"/>
<circle cx="1040.9" cy="788.3" r="5.1" class="c"/>
<circle cx="1006.2" cy="861.4" r="5.1" class="c"/>
<circle cx="924.2" cy="782.1" r="5.1" class="c"/>
<circle cx="1092.9" cy="796.4" r="5.1" class="c"/>
<circle cx="798.2" cy="745.9" r="5.1" class="o"/>
<circle cx="843.5" cy="886.6" r="5.1" class="o"/>
<circle cx="922.5" cy="839.7" r="5.1" class="c"/>
<circle cx="1023.9" cy="866.8" r="5.1" class="c"/>
<circle cx="925.9" cy="797.2" r="5.1" class="c"/>
<circle cx="984.2" cy="831.9" r="5.1" class="c"/>
<circle cx="1092.0" cy="873.3" r="5.1" class="c"/>
<circle cx="874.5" cy="726.1" r="5.1" class="o"/>
<circle cx="869.1" cy="766.3" r="5.1" class="o"/>
<circle cx="864.9" cy="869.2" r="5.1" class="o"/>
<circle cx="836.8" cy="931.5" r="5.1" class="o"/>
<circle cx="780.5" cy="851.8" r="5.1" class="c"/>
<circle cx="972.8" cy="760.0" r="5.1" class="c"/>
<circle cx="1063.0" cy="819.1" r="5.1" class="c"/>
<circle cx="785.3" cy="796.6" r="5.1" class="o"/>
<circle cx="859.8" cy="790.5" r="5.1" class="o"/>
<circle cx="905.6" cy="818.4" r="5.1" class="c"/>
<circle cx="1079.6" cy="924.5" r="5.1" class="c"/>
<circle cx="977.0" cy="780.6" r="5.1" class="c"/>
<circle cx="789.7" cy="820.8" r="5.1" class="o"/>
<circle cx="903.7" cy="852.5" r="5.1" class="c"/>
<circle cx="1061.2" cy="738.8" r="5.1" class="c"/>
<circle cx="841.5" cy="926.1" r="5.1" class="o"/>
<circle cx="1052.4" cy="773.3" r="5.1" class="c"/>
<circle cx="983.4" cy="722.0" r="5.1" class="c"/>
<circle cx="791.9" cy="1126.8" r="5.1" class="o"/>
<circle cx="1024.4" cy="769.3" r="5.1" class="c"/>
<circle cx="998.0" cy="819.2" r="5.1" class="c"/>
<circle cx="891.7" cy="830.4" r="5.1" class="c"/>
<circle cx="789.9" cy="933.5" r="5.1" class="c"/>
<circle cx="1140.7" cy="864.8" r="5.1" class="c"/>
<circle cx="881.2" cy="797.2" r="5.1" class="o"/>
<circle cx="802.0" cy="877.9" r="5.1" class="o"/>
<circle cx="791.3" cy="779.0" r="5.1" class="o"/>
<circle cx="1156.7" cy="825.5" r="5.1" class="c"/>
<circle cx="793.9" cy="874.5" r="5.1" class="c"/>
<circle cx="866.6" cy="814.2" r="5.1" class="c"/>
<circle cx="831.6" cy="778.4" r="5.1" class="c"/>
<circle cx="770.6" cy="872.0" r="5.1" class="c"/>
<circle cx="1105.7" cy="850.4" r="5.1" class="c"/>
<circle cx="878.5" cy="789.8" r="5.1" class="c"/>
<circle cx="1112.5" cy="820.2" r="5.1" class="c"/>
<circle cx="831.4" cy="833.0" r="5.1" class="c"/>
<circle cx="1044.7" cy="819.9" r="5.1" class="c"/>
<circle cx="857.1" cy="800.5" r="5.1" class="o"/>
<circle cx="858.0" cy="812.3" r="5.1" class="c"/>
<circle cx="957.3" cy="863.8" r="5.1" class="c"/>
<circle cx="1093.3" cy="819.5" r="5.1" class="c"/>
<circle cx="948.9" cy="824.6" r="5.1" class="c"/>
<circle cx="1041.9" cy="852.5" r="5.1" class="c"/>
<circle cx="1070.1" cy="768.0" r="5.1" class="c"/>
<circle cx="788.0" cy="726.2" r="5.1" class="o"/>
<circle cx="818.0" cy="873.2" r="5.1" class="c"/>
<circle cx="846.8" cy="872.5" r="5.1" class="c"/>
<circle cx="918.4" cy="859.8" r="5.1" class="c"/>
<circle cx="886.6" cy="783.1" r="5.1" class="c"/>
<circle cx="794.6" cy="866.5" r="5.1" class="c"/>
<circle cx="1117.8" cy="767.1" r="5.1" class="c"/>
<circle cx="812.7" cy="877.2" r="5.1" class="c"/>
<circle cx="895.7" cy="860.5" r="5.1" class="c"/>
<circle cx="1035.0" cy="831.9" r="5.1" class="c"/>
<circle cx="782.7" cy="785.6" r="5.1" class="o"/>
<circle cx="816.3" cy="867.6" r="5.1" class="o"/>
<circle cx="912.4" cy="896.0" r="5.1" class="c"/>
<circle cx="847.1" cy="718.2" r="5.1" class="o"/>
<circle cx="777.4" cy="898.1" r="5.1" class="c"/>
<circle cx="1187.7" cy="783.0" r="5.1" class="c"/>
<circle cx="850.4" cy="747.5" r="5.1" class="c"/>
<circle cx="861.1" cy="754.9" r="5.1" class="c"/>
<circle cx="804.8" cy="803.2" r="5.1" class="c"/>
<circle cx="1072.1" cy="836.7" r="5.1" class="c"/>
<circle cx="1077.1" cy="794.5" r="5.1" class="c"/>
<circle cx="912.2" cy="701.7" r="5.1" class="c"/>
<circle cx="1116.0" cy="781.2" r="5.1" class="c"/>
<circle cx="919.8" cy="875.9" r="5.1" class="c"/>
<circle cx="920.6" cy="740.6" r="5.1" class="c"/>
<circle cx="939.2" cy="788.3" r="5.1" class="c"/>
<circle cx="845.9" cy="754.6" r="5.1" class="o"/>
<circle cx="930.5" cy="844.4" r="5.1" class="c"/>
<circle cx="965.7" cy="751.2" r="5.1" class="c"/>
<circle cx="792.7" cy="812.6" r="5.1" class="o"/>
<circle cx="1013.5" cy="808.7" r="5.1" class="c"/>
<circle cx="822.2" cy="815.3" r="5.1" class="o"/>
<circle cx="1032.3" cy="925.9" r="5.1" class="c"/>
<circle cx="865.1" cy="744.2" r="5.1" class="c"/>
<circle cx="971.0" cy="826.3" r="5.1" class="c"/>
<circle cx="961.3" cy="743.2" r="5.1" class="c"/>
<circle cx="841.0" cy="756.9" r="5.1" class="c"/>
<circle cx="801.9" cy="775.7" r="5.1" class="o"/>
<circle cx="765.2" cy="775.7" r="5.1" class="c"/>
<circle cx="815.3" cy="841.1" r="5.1" class="c"/>
<circle cx="885.9" cy="726.7" r="5.1" class="c"/>
<circle cx="774.8" cy="781.0" r="5.1" class="o"/>
<circle cx="777.8" cy="718.8" r="5.1" class="o"/>
<circle cx="815.5" cy="777.7" r="5.1" class="c"/>
<circle cx="883.9" cy="766.3" r="5.1" class="o"/>
<circle cx="1050.6" cy="821.9" r="5.1" class="c"/>
<circle cx="988.6" cy="802.2" r="5.1" class="c"/>
<circle cx="833.6" cy="755.6" r="5.1" class="c"/>
<circle cx="1044.6" cy="868.9" r="5.1" class="c"/>
<circle cx="783.3" cy="805.9" r="5.1" class="c"/>
<circle cx="1089.1" cy="841.4" r="5.1" class="c"/>
<circle cx="846.3" cy="768.3" r="5.1" class="c"/>
<circle cx="815.5" cy="812.6" r="5.1" class="o"/>
<circle cx="1053.6" cy="917.0" r="5.1" class="c"/>
<circle cx="963.1" cy="806.0" r="5.1" class="c"/>
<circle cx="875.6" cy="833.0" r="5.1" class="o"/>
</g>
<polygon points="757.2,821.2 771.5,820.6 785.8,820.0 800.2,819.4 814.5,818.8 828.8,818.1 843.1,817.4 857.4,816.7 871.8,815.9 886.1,815.1 900.4,814.3 914.7,813.4 929.0,812.5 943.4,811.5 957.7,810.4 972.0,809.3 986.3,808.2 1000.6,807.0 1015.0,805.8 1029.3,804.6 1043.6,803.4 1057.9,802.1 1072.2,800.8 1086.6,799.5 1100.9,798.2 1115.2,796.8 1129.5,795.5 1143.8,794.1 1158.2,792.8 1172.5,791.4 1186.8,790.0 1186.8,815.0 1172.5,815.4 1158.2,815.8 1143.8,816.2 1129.5,816.6 1115.2,817.1 1100.9,817.5 1086.6,818.0 1072.2,818.4 1057.9,818.9 1043.6,819.4 1029.3,820.0 1015.0,820.5 1000.6,821.1 986.3,821.7 972.0,822.4 957.7,823.1 943.4,823.8 929.0,824.6 914.7,825.4 900.4,826.3 886.1,827.2 871.8,828.2 857.4,829.2 843.1,830.3 828.8,831.4 814.5,832.5 800.2,833.6 785.8,834.8 771.5,836.0 757.2,837.2" fill="#00FFFF" fill-opacity="0.4"/>
<line x1="757.2" y1="829.2" x2="1186.8" y2="802.5" stroke="#0000FF" stroke-width="6.6"/>
<polygon points="775.9,776.8 779.4,778.6 783.0,780.3 786.5,782.0 790.0,783.7 793.6,785.3 797.1,787.0 800.6,788.5 804.2,790.1 807.7,791.6 811.2,793.0 814.8,794.4 818.3,795.7 821.8,796.9 825.4,798.1 828.9,799.1 832.4,800.0 836.0,800.9 839.5,801.6 843.0,802.3 846.6,802.9 850.1,803.4 853.6,803.9 857.2,804.3 860.7,804.7 864.2,805.1 867.8,805.4 871.3,805.8 874.8,806.1 878.4,806.4 881.9,806.7 881.9,842.7 878.4,840.7 874.8,838.6 871.3,836.6 867.8,834.6 864.2,832.7 860.7,830.7 857.2,828.8 853.6,826.9 850.1,825.1 846.6,823.3 843.0,821.5 839.5,819.9 836.0,818.3 832.4,816.8 828.9,815.4 825.4,814.1 821.8,812.9 818.3,811.8 814.8,810.8 811.2,809.9 807.7,809.0 804.2,808.1 800.6,807.3 797.1,806.6 793.6,805.9 790.0,805.2 786.5,804.6 783.0,804.0 779.4,803.4 775.9,802.8" fill="#FF8C00" fill-opacity="0.4"/>
<line x1="775.9" y1="789.8" x2="881.9" y2="824.7" stroke="#FF0000" stroke-width="6.6"/>
<path d="M735.0,660.7 V1160.3 H1208.7" fill="none" stroke="#000" stroke-width="1.4"/>
<line x1="765.2" y1="1160.3" x2="765.2" y2="1163.5" stroke="#333" stroke-width="1.3"/>
<text x="765.2" y="1203.6" font-family="'Liberation Sans', Arial, sans-serif" font-size="36.3" font-weight="normal" font-style="normal" fill="#1e1e1e" text-anchor="middle">0</text>
<line x1="866.3" y1="1160.3" x2="866.3" y2="1163.5" stroke="#333" stroke-width="1.3"/>
<text x="866.3" y="1203.6" font-family="'Liberation Sans', Arial, sans-serif" font-size="36.3" font-weight="normal" font-style="normal" fill="#1e1e1e" text-anchor="middle">5</text>
<line x1="967.5" y1="1160.3" x2="967.5" y2="1163.5" stroke="#333" stroke-width="1.3"/>
<text x="967.5" y="1203.6" font-family="'Liberation Sans', Arial, sans-serif" font-size="36.3" font-weight="normal" font-style="normal" fill="#1e1e1e" text-anchor="middle">10</text>
<line x1="1068.6" y1="1160.3" x2="1068.6" y2="1163.5" stroke="#333" stroke-width="1.3"/>
<text x="1068.6" y="1203.6" font-family="'Liberation Sans', Arial, sans-serif" font-size="36.3" font-weight="normal" font-style="normal" fill="#1e1e1e" text-anchor="middle">15</text>
<line x1="1169.7" y1="1160.3" x2="1169.7" y2="1163.5" stroke="#333" stroke-width="1.3"/>
<text x="1169.7" y="1203.6" font-family="'Liberation Sans', Arial, sans-serif" font-size="36.3" font-weight="normal" font-style="normal" fill="#1e1e1e" text-anchor="middle">20</text>
<line x1="731.8" y1="1063.6" x2="735.0" y2="1063.6" stroke="#333" stroke-width="1.3"/>
<text x="727.2" y="1078.2" font-family="'Liberation Sans', Arial, sans-serif" font-size="36.3" font-weight="normal" font-style="normal" fill="#1e1e1e" text-anchor="end">2</text>
<line x1="731.8" y1="936.2" x2="735.0" y2="936.2" stroke="#333" stroke-width="1.3"/>
<text x="727.2" y="950.8" font-family="'Liberation Sans', Arial, sans-serif" font-size="36.3" font-weight="normal" font-style="normal" fill="#1e1e1e" text-anchor="end">3</text>
<line x1="731.8" y1="808.7" x2="735.0" y2="808.7" stroke="#333" stroke-width="1.3"/>
<text x="727.2" y="823.3" font-family="'Liberation Sans', Arial, sans-serif" font-size="36.3" font-weight="normal" font-style="normal" fill="#1e1e1e" text-anchor="end">4</text>
<line x1="731.8" y1="681.3" x2="735.0" y2="681.3" stroke="#333" stroke-width="1.3"/>
<text x="727.2" y="695.9" font-family="'Liberation Sans', Arial, sans-serif" font-size="36.3" font-weight="normal" font-style="normal" fill="#1e1e1e" text-anchor="end">5</text>
<g stroke="#000" stroke-width="1.2">
<circle cx="1319.6" cy="793.3" r="5.1" class="o"/>
<circle cx="1319.2" cy="809.7" r="5.1" class="o"/>
<circle cx="1318.9" cy="798.8" r="5.1" class="o"/>
<circle cx="1317.7" cy="755.2" r="5.1" class="o"/>
<circle cx="1318.1" cy="877.3" r="5.1" class="o"/>
<circle cx="1317.0" cy="878.7" r="5.1" class="o"/>
<circle cx="1320.3" cy="728.5" r="5.1" class="o"/>
<circle cx="1317.5" cy="776.0" r="5.1" class="o"/>
<circle cx="1318.2" cy="760.4" r="5.1" class="o"/>
<circle cx="1319.6" cy="851.4" r="5.1" class="o"/>
<circle cx="1318.4" cy="757.5" r="5.1" class="o"/>
<circle cx="1319.3" cy="849.6" r="5.1" class="o"/>
<circle cx="1318.0" cy="920.9" r="5.1" class="o"/>
<circle cx="1319.0" cy="830.5" r="5.1" class="o"/>
<circle cx="1318.2" cy="831.0" r="5.1" class="o"/>
<circle cx="1317.6" cy="762.5" r="5.1" class="o"/>
<circle cx="1318.6" cy="886.9" r="5.1" class="o"/>
<circle cx="1320.0" cy="892.8" r="5.1" class="o"/>
<circle cx="1320.4" cy="845.4" r="5.1" class="o"/>
<circle cx="1318.6" cy="720.5" r="5.1" class="o"/>
<circle cx="1319.7" cy="866.3" r="5.1" class="o"/>
<circle cx="1319.4" cy="805.4" r="5.1" class="o"/>
<circle cx="1319.5" cy="824.5" r="5.1" class="o"/>
<circle cx="1317.0" cy="744.1" r="5.1" class="o"/>
<circle cx="1319.2" cy="905.1" r="5.1" class="o"/>
<circle cx="1316.9" cy="894.4" r="5.1" class="o"/>
<circle cx="1318.9" cy="881.2" r="5.1" class="o"/>
<circle cx="1318.7" cy="750.7" r="5.1" class="o"/>
<circle cx="1318.6" cy="706.3" r="5.1" class="o"/>
<circle cx="1320.5" cy="829.6" r="5.1" class="o"/>
<circle cx="1319.2" cy="761.6" r="5.1" class="o"/>
<circle cx="1320.5" cy="861.5" r="5.1" class="o"/>
<circle cx="1317.2" cy="861.2" r="5.1" class="o"/>
<circle cx="1319.1" cy="787.0" r="5.1" class="o"/>
<circle cx="1318.5" cy="756.5" r="5.1" class="o"/>
<circle cx="1316.9" cy="867.3" r="5.1" class="o"/>
<circle cx="1319.1" cy="741.1" r="5.1" class="o"/>
<circle cx="1318.0" cy="929.6" r="5.1" class="o"/>
<circle cx="1317.8" cy="759.7" r="5.1" class="o"/>
<circle cx="1318.9" cy="902.0" r="5.1" class="o"/>
<circle cx="1319.9" cy="790.9" r="5.1" class="o"/>
<circle cx="1316.8" cy="866.6" r="5.1" class="o"/>
<circle cx="1316.9" cy="902.8" r="5.1" class="o"/>
<circle cx="1317.8" cy="930.9" r="5.1" class="o"/>
<circle cx="1319.1" cy="832.1" r="5.1" class="o"/>
<circle cx="1318.8" cy="738.0" r="5.1" class="o"/>
<circle cx="1320.0" cy="920.2" r="5.1" class="o"/>
<circle cx="1319.3" cy="762.8" r="5.1" class="o"/>
<circle cx="1316.9" cy="845.9" r="5.1" class="o"/>
<circle cx="1318.0" cy="823.1" r="5.1" class="o"/>
<circle cx="1319.1" cy="866.0" r="5.1" class="o"/>
<circle cx="1317.3" cy="776.4" r="5.1" class="o"/>
<circle cx="1319.4" cy="839.7" r="5.1" class="o"/>
<circle cx="1317.8" cy="800.8" r="5.1" class="o"/>
<circle cx="1320.3" cy="767.0" r="5.1" class="o"/>
<circle cx="1318.7" cy="828.0" r="5.1" class="o"/>
<circle cx="1320.4" cy="801.2" r="5.1" class="o"/>
<circle cx="1317.7" cy="825.9" r="5.1" class="o"/>
<circle cx="1319.5" cy="751.4" r="5.1" class="o"/>
<circle cx="1317.6" cy="895.6" r="5.1" class="o"/>
<circle cx="1317.6" cy="861.1" r="5.1" class="o"/>
<circle cx="1375.1" cy="799.7" r="5.1" class="c"/>
<circle cx="1354.3" cy="730.0" r="5.1" class="c"/>
<circle cx="1415.6" cy="817.3" r="5.1" class="c"/>
<circle cx="1377.7" cy="893.9" r="5.1" class="c"/>
<circle cx="1408.1" cy="881.1" r="5.1" class="c"/>
<circle cx="1344.6" cy="755.3" r="5.1" class="c"/>
<circle cx="1453.4" cy="794.8" r="5.1" class="c"/>
<circle cx="1366.2" cy="830.6" r="5.1" class="c"/>
<circle cx="1369.6" cy="773.8" r="5.1" class="c"/>
<circle cx="1324.8" cy="781.7" r="5.1" class="c"/>
<circle cx="1342.6" cy="808.4" r="5.1" class="c"/>
<circle cx="1353.0" cy="701.2" r="5.1" class="c"/>
<circle cx="1325.9" cy="870.8" r="5.1" class="c"/>
<circle cx="1371.4" cy="789.1" r="5.1" class="c"/>
<circle cx="1341.2" cy="766.6" r="5.1" class="c"/>
<circle cx="1416.8" cy="847.3" r="5.1" class="c"/>
<circle cx="1340.3" cy="714.0" r="5.1" class="c"/>
<circle cx="1325.2" cy="790.8" r="5.1" class="c"/>
<circle cx="1327.5" cy="792.7" r="5.1" class="c"/>
<circle cx="1359.3" cy="843.1" r="5.1" class="c"/>
<circle cx="1388.4" cy="877.8" r="5.1" class="c"/>
<circle cx="1411.4" cy="845.1" r="5.1" class="c"/>
<circle cx="1352.6" cy="857.8" r="5.1" class="c"/>
<circle cx="1316.8" cy="728.0" r="5.1" class="o"/>
<circle cx="1336.4" cy="861.3" r="5.1" class="c"/>
<circle cx="1490.4" cy="757.4" r="5.1" class="c"/>
<circle cx="1438.8" cy="807.1" r="5.1" class="c"/>
<circle cx="1368.2" cy="742.4" r="5.1" class="c"/>
<circle cx="1327.5" cy="726.7" r="5.1" class="c"/>
<circle cx="1418.9" cy="812.3" r="5.1" class="c"/>
<circle cx="1337.1" cy="852.8" r="5.1" class="c"/>
<circle cx="1371.8" cy="789.7" r="5.1" class="c"/>
<circle cx="1394.0" cy="845.8" r="5.1" class="c"/>
<circle cx="1332.9" cy="713.3" r="5.1" class="c"/>
<circle cx="1322.5" cy="888.7" r="5.1" class="c"/>
<circle cx="1319.5" cy="722.7" r="5.1" class="o"/>
<circle cx="1445.4" cy="822.3" r="5.1" class="c"/>
<circle cx="1403.7" cy="843.1" r="5.1" class="c"/>
<circle cx="1330.8" cy="915.8" r="5.1" class="c"/>
<circle cx="1354.1" cy="939.6" r="5.1" class="c"/>
<circle cx="1447.6" cy="916.0" r="5.1" class="c"/>
<circle cx="1370.1" cy="728.4" r="5.1" class="c"/>
<circle cx="1373.2" cy="895.8" r="5.1" class="c"/>
<circle cx="1348.3" cy="843.2" r="5.1" class="c"/>
<circle cx="1339.8" cy="877.8" r="5.1" class="c"/>
<circle cx="1320.8" cy="793.7" r="5.1" class="c"/>
<circle cx="1346.2" cy="827.5" r="5.1" class="c"/>
<circle cx="1327.5" cy="757.5" r="5.1" class="c"/>
<circle cx="1368.5" cy="772.5" r="5.1" class="c"/>
<circle cx="1327.1" cy="799.7" r="5.1" class="c"/>
<circle cx="1388.3" cy="826.2" r="5.1" class="c"/>
<circle cx="1316.8" cy="799.1" r="5.1" class="o"/>
<circle cx="1337.2" cy="941.0" r="5.1" class="c"/>
<circle cx="1440.7" cy="892.5" r="5.1" class="c"/>
<circle cx="1391.1" cy="897.9" r="5.1" class="c"/>
<circle cx="1344.9" cy="824.6" r="5.1" class="c"/>
<circle cx="1370.4" cy="881.9" r="5.1" class="c"/>
<circle cx="1330.0" cy="764.0" r="5.1" class="c"/>
<circle cx="1443.5" cy="786.6" r="5.1" class="c"/>
<circle cx="1338.2" cy="770.9" r="5.1" class="c"/>
<circle cx="1365.2" cy="807.3" r="5.1" class="c"/>
<circle cx="1491.9" cy="846.5" r="5.1" class="c"/>
<circle cx="1428.1" cy="821.9" r="5.1" class="c"/>
<circle cx="1321.3" cy="861.8" r="5.1" class="c"/>
<circle cx="1316.8" cy="762.9" r="5.1" class="o"/>
<circle cx="1322.8" cy="712.6" r="5.1" class="c"/>
<circle cx="1491.5" cy="875.0" r="5.1" class="c"/>
<circle cx="1326.2" cy="821.9" r="5.1" class="c"/>
<circle cx="1340.0" cy="851.2" r="5.1" class="c"/>
<circle cx="1318.1" cy="821.9" r="5.1" class="o"/>
<circle cx="1353.0" cy="720.0" r="5.1" class="c"/>
<circle cx="1352.5" cy="778.1" r="5.1" class="c"/>
<circle cx="1316.9" cy="934.7" r="5.1" class="o"/>
<circle cx="1383.9" cy="885.1" r="5.1" class="c"/>
<circle cx="1325.9" cy="763.6" r="5.1" class="c"/>
<circle cx="1346.1" cy="834.0" r="5.1" class="c"/>
<circle cx="1396.8" cy="869.4" r="5.1" class="c"/>
<circle cx="1342.2" cy="874.9" r="5.1" class="c"/>
<circle cx="1335.9" cy="894.0" r="5.1" class="c"/>
<circle cx="1331.0" cy="854.4" r="5.1" class="c"/>
<circle cx="1367.0" cy="727.3" r="5.1" class="c"/>
<circle cx="1339.4" cy="749.6" r="5.1" class="c"/>
<circle cx="1331.7" cy="799.3" r="5.1" class="c"/>
<circle cx="1391.2" cy="823.2" r="5.1" class="c"/>
<circle cx="1418.9" cy="886.3" r="5.1" class="c"/>
<circle cx="1357.9" cy="918.1" r="5.1" class="c"/>
<circle cx="1336.9" cy="724.0" r="5.1" class="c"/>
<circle cx="1330.2" cy="768.3" r="5.1" class="c"/>
<circle cx="1342.0" cy="879.3" r="5.1" class="c"/>
<circle cx="1338.2" cy="731.4" r="5.1" class="c"/>
<circle cx="1364.0" cy="827.4" r="5.1" class="c"/>
<circle cx="1315.5" cy="788.4" r="5.1" class="o"/>
<circle cx="1358.9" cy="881.9" r="5.1" class="c"/>
<circle cx="1432.3" cy="1063.5" r="5.1" class="c"/>
<circle cx="1331.5" cy="884.7" r="5.1" class="c"/>
<circle cx="1337.1" cy="904.2" r="5.1" class="c"/>
<circle cx="1371.0" cy="865.6" r="5.1" class="c"/>
<circle cx="1409.3" cy="787.0" r="5.1" class="c"/>
<circle cx="1378.1" cy="871.1" r="5.1" class="c"/>
<circle cx="1351.9" cy="799.0" r="5.1" class="c"/>
<circle cx="1480.5" cy="837.4" r="5.1" class="c"/>
<circle cx="1366.3" cy="848.5" r="5.1" class="c"/>
<circle cx="1531.4" cy="821.9" r="5.1" class="c"/>
<circle cx="1342.5" cy="764.4" r="5.1" class="c"/>
<circle cx="1326.2" cy="772.3" r="5.1" class="o"/>
<circle cx="1455.9" cy="828.0" r="5.1" class="c"/>
<circle cx="1358.6" cy="729.5" r="5.1" class="c"/>
<circle cx="1335.7" cy="897.2" r="5.1" class="c"/>
<circle cx="1325.5" cy="872.1" r="5.1" class="c"/>
<circle cx="1342.6" cy="870.8" r="5.1" class="c"/>
<circle cx="1334.2" cy="823.2" r="5.1" class="c"/>
<circle cx="1451.1" cy="787.7" r="5.1" class="c"/>
<circle cx="1346.3" cy="724.0" r="5.1" class="c"/>
<circle cx="1409.3" cy="805.8" r="5.1" class="c"/>
<circle cx="1317.6" cy="851.4" r="5.1" class="o"/>
<circle cx="1353.6" cy="776.0" r="5.1" class="c"/>
<circle cx="1399.9" cy="766.7" r="5.1" class="c"/>
<circle cx="1344.7" cy="729.1" r="5.1" class="c"/>
<circle cx="1329.8" cy="841.3" r="5.1" class="c"/>
<circle cx="1406.5" cy="833.3" r="5.1" class="c"/>
<circle cx="1362.4" cy="789.7" r="5.1" class="c"/>
<circle cx="1327.3" cy="927.8" r="5.1" class="c"/>
<circle cx="1366.0" cy="800.1" r="5.1" class="c"/>
<circle cx="1341.8" cy="801.3" r="5.1" class="c"/>
<circle cx="1329.0" cy="846.3" r="5.1" class="c"/>
<circle cx="1366.8" cy="939.0" r="5.1" class="c"/>
<circle cx="1368.1" cy="715.3" r="5.1" class="c"/>
<circle cx="1365.2" cy="804.1" r="5.1" class="c"/>
<circle cx="1365.5" cy="750.2" r="5.1" class="c"/>
<circle cx="1472.0" cy="872.5" r="5.1" class="c"/>
<circle cx="1374.2" cy="738.4" r="5.1" class="c"/>
<circle cx="1369.5" cy="884.7" r="5.1" class="c"/>
<circle cx="1469.1" cy="815.6" r="5.1" class="c"/>
<circle cx="1366.0" cy="807.3" r="5.1" class="c"/>
<circle cx="1373.1" cy="758.9" r="5.1" class="c"/>
<circle cx="1385.6" cy="892.7" r="5.1" class="c"/>
<circle cx="1371.1" cy="811.9" r="5.1" class="c"/>
<circle cx="1363.7" cy="765.6" r="5.1" class="c"/>
<circle cx="1334.3" cy="872.2" r="5.1" class="c"/>
<circle cx="1316.9" cy="838.9" r="5.1" class="o"/>
<circle cx="1357.5" cy="800.2" r="5.1" class="c"/>
<circle cx="1326.2" cy="736.1" r="5.1" class="o"/>
<circle cx="1353.0" cy="738.8" r="5.1" class="c"/>
<circle cx="1360.9" cy="772.4" r="5.1" class="c"/>
<circle cx="1366.0" cy="858.3" r="5.1" class="c"/>
<circle cx="1374.3" cy="818.8" r="5.1" class="c"/>
<circle cx="1393.2" cy="775.0" r="5.1" class="c"/>
<circle cx="1345.4" cy="884.7" r="5.1" class="c"/>
<circle cx="1338.3" cy="787.0" r="5.1" class="c"/>
<circle cx="1320.8" cy="733.4" r="5.1" class="o"/>
<circle cx="1367.6" cy="811.9" r="5.1" class="c"/>
<circle cx="1346.3" cy="741.4" r="5.1" class="c"/>
<circle cx="1359.2" cy="767.7" r="5.1" class="c"/>
<circle cx="1348.2" cy="733.1" r="5.1" class="c"/>
<circle cx="1337.1" cy="862.5" r="5.1" class="c"/>
<circle cx="1354.7" cy="769.4" r="5.1" class="c"/>
<circle cx="1316.9" cy="880.6" r="5.1" class="o"/>
<circle cx="1416.0" cy="794.7" r="5.1" class="c"/>
<circle cx="1372.3" cy="820.5" r="5.1" class="c"/>
<circle cx="1374.4" cy="779.0" r="5.1" class="c"/>
<circle cx="1350.9" cy="926.4" r="5.1" class="c"/>
<circle cx="1321.2" cy="806.8" r="5.1" class="c"/>
<circle cx="1376.2" cy="841.2" r="5.1" class="c"/>
<circle cx="1380.6" cy="854.2" r="5.1" class="c"/>
<circle cx="1339.0" cy="810.2" r="5.1" class="c"/>
<circle cx="1349.0" cy="795.1" r="5.1" class="c"/>
<circle cx="1363.7" cy="721.1" r="5.1" class="c"/>
<circle cx="1323.5" cy="927.6" r="5.1" class="c"/>
<circle cx="1344.9" cy="788.4" r="5.1" class="c"/>
<circle cx="1432.9" cy="838.9" r="5.1" class="c"/>
<circle cx="1322.1" cy="871.4" r="5.1" class="c"/>
<circle cx="1326.6" cy="843.8" r="5.1" class="o"/>
<circle cx="1471.8" cy="1136.8" r="5.1" class="c"/>
<circle cx="1446.4" cy="810.9" r="5.1" class="c"/>
<circle cx="1432.1" cy="809.8" r="5.1" class="c"/>
<circle cx="1355.1" cy="930.6" r="5.1" class="c"/>
<circle cx="1416.0" cy="754.8" r="5.1" class="c"/>
<circle cx="1382.7" cy="842.0" r="5.1" class="c"/>
<circle cx="1440.3" cy="905.5" r="5.1" class="c"/>
<circle cx="1325.8" cy="811.8" r="5.1" class="c"/>
<circle cx="1491.8" cy="929.3" r="5.1" class="c"/>
<circle cx="1361.0" cy="797.7" r="5.1" class="c"/>
<circle cx="1368.6" cy="736.8" r="5.1" class="c"/>
<circle cx="1315.5" cy="748.1" r="5.1" class="o"/>
<circle cx="1385.2" cy="803.1" r="5.1" class="c"/>
<circle cx="1360.7" cy="990.3" r="5.1" class="c"/>
<circle cx="1411.7" cy="896.3" r="5.1" class="c"/>
<circle cx="1351.8" cy="741.8" r="5.1" class="c"/>
<circle cx="1355.1" cy="894.4" r="5.1" class="c"/>
<circle cx="1369.0" cy="852.8" r="5.1" class="c"/>
<circle cx="1361.7" cy="1136.8" r="5.1" class="c"/>
<circle cx="1416.2" cy="858.3" r="5.1" class="c"/>
<circle cx="1328.1" cy="784.6" r="5.1" class="c"/>
<circle cx="1715.2" cy="821.7" r="5.1" class="c"/>
<circle cx="1328.7" cy="943.1" r="5.1" class="c"/>
<circle cx="1351.8" cy="848.9" r="5.1" class="c"/>
<circle cx="1461.6" cy="858.7" r="5.1" class="c"/>
<circle cx="1390.5" cy="789.7" r="5.1" class="c"/>
<circle cx="1343.3" cy="876.7" r="5.1" class="c"/>
<circle cx="1331.5" cy="803.1" r="5.1" class="c"/>
<circle cx="1356.3" cy="753.2" r="5.1" class="c"/>
<circle cx="1374.6" cy="848.3" r="5.1" class="c"/>
<circle cx="1366.5" cy="799.0" r="5.1" class="c"/>
<circle cx="1320.4" cy="905.6" r="5.1" class="o"/>
<circle cx="1374.6" cy="870.8" r="5.1" class="c"/>
<circle cx="1334.2" cy="730.9" r="5.1" class="c"/>
<circle cx="1355.1" cy="889.6" r="5.1" class="o"/>
<circle cx="1430.1" cy="868.8" r="5.1" class="c"/>
<circle cx="1363.3" cy="922.0" r="5.1" class="c"/>
<circle cx="1340.2" cy="713.3" r="5.1" class="c"/>
<circle cx="1527.6" cy="870.1" r="5.1" class="c"/>
<circle cx="1363.4" cy="872.2" r="5.1" class="c"/>
<circle cx="1337.1" cy="884.7" r="5.1" class="c"/>
<circle cx="1375.4" cy="759.2" r="5.1" class="c"/>
<circle cx="1448.3" cy="853.0" r="5.1" class="c"/>
<circle cx="1392.5" cy="727.1" r="5.1" class="c"/>
<circle cx="1478.6" cy="830.8" r="5.1" class="c"/>
<circle cx="1386.6" cy="786.6" r="5.1" class="c"/>
<circle cx="1354.0" cy="735.5" r="5.1" class="c"/>
<circle cx="1486.8" cy="812.8" r="5.1" class="c"/>
<circle cx="1432.1" cy="795.1" r="5.1" class="c"/>
<circle cx="1360.9" cy="830.9" r="5.1" class="c"/>
<circle cx="1350.3" cy="779.0" r="5.1" class="c"/>
<circle cx="1339.8" cy="918.1" r="5.1" class="c"/>
<circle cx="1320.0" cy="789.8" r="5.1" class="c"/>
<circle cx="1355.7" cy="762.9" r="5.1" class="c"/>
<circle cx="1389.8" cy="863.9" r="5.1" class="c"/>
<circle cx="1350.4" cy="758.9" r="5.1" class="c"/>
<circle cx="1339.0" cy="766.8" r="5.1" class="c"/>
<circle cx="1390.5" cy="805.8" r="5.1" class="c"/>
<circle cx="1322.3" cy="844.4" r="5.1" class="c"/>
<circle cx="1328.0" cy="869.0" r="5.1" class="c"/>
<circle cx="1374.7" cy="752.1" r="5.1" class="c"/>
<circle cx="1747.5" cy="825.3" r="5.1" class="c"/>
<circle cx="1374.4" cy="809.8" r="5.1" class="c"/>
<circle cx="1335.7" cy="920.8" r="5.1" class="c"/>
<circle cx="1350.1" cy="765.8" r="5.1" class="c"/>
<circle cx="1387.8" cy="740.1" r="5.1" class="c"/>
<circle cx="1360.4" cy="722.0" r="5.1" class="c"/>
<circle cx="1355.1" cy="908.3" r="5.1" class="c"/>
<circle cx="1379.8" cy="781.0" r="5.1" class="c"/>
<circle cx="1387.4" cy="818.2" r="5.1" class="c"/>
<circle cx="1360.3" cy="791.5" r="5.1" class="c"/>
<circle cx="1358.1" cy="683.8" r="5.1" class="c"/>
<circle cx="1376.6" cy="756.0" r="5.1" class="c"/>
<circle cx="1353.7" cy="754.8" r="5.1" class="c"/>
<circle cx="1367.2" cy="777.8" r="5.1" class="c"/>
<circle cx="1381.1" cy="792.4" r="5.1" class="c"/>
<circle cx="1334.2" cy="825.9" r="5.1" class="c"/>
<circle cx="1441.3" cy="924.4" r="5.1" class="c"/>
<circle cx="1320.8" cy="779.0" r="5.1" class="o"/>
<circle cx="1379.8" cy="752.2" r="5.1" class="c"/>
<circle cx="1316.8" cy="716.0" r="5.1" class="o"/>
<circle cx="1354.8" cy="748.5" r="5.1" class="c"/>
<circle cx="1345.0" cy="821.8" r="5.1" class="c"/>
<circle cx="1361.0" cy="784.3" r="5.1" class="c"/>
<circle cx="1427.3" cy="914.6" r="5.1" class="c"/>
<circle cx="1438.4" cy="906.9" r="5.1" class="c"/>
<circle cx="1321.1" cy="883.3" r="5.1" class="c"/>
<circle cx="1341.5" cy="774.5" r="5.1" class="c"/>
<circle cx="1374.7" cy="769.4" r="5.1" class="c"/>
<circle cx="1354.8" cy="747.9" r="5.1" class="c"/>
<circle cx="1318.8" cy="756.2" r="5.1" class="c"/>
<circle cx="1405.3" cy="799.1" r="5.1" class="c"/>
<circle cx="1416.2" cy="868.1" r="5.1" class="c"/>
<circle cx="1343.5" cy="913.2" r="5.1" class="c"/>
<circle cx="1371.8" cy="901.4" r="5.1" class="c"/>
<circle cx="1335.5" cy="859.8" r="5.1" class="c"/>
<circle cx="1418.7" cy="817.9" r="5.1" class="c"/>
<circle cx="1365.5" cy="704.8" r="5.1" class="c"/>
<circle cx="1447.3" cy="894.4" r="5.1" class="c"/>
<circle cx="1447.3" cy="842.7" r="5.1" class="c"/>
<circle cx="1347.6" cy="815.2" r="5.1" class="c"/>
<circle cx="1364.1" cy="738.6" r="5.1" class="c"/>
<circle cx="1420.0" cy="742.1" r="5.1" class="c"/>
<circle cx="1442.6" cy="808.0" r="5.1" class="c"/>
<circle cx="1340.8" cy="826.4" r="5.1" class="c"/>
<circle cx="1373.4" cy="840.3" r="5.1" class="c"/>
<circle cx="1334.2" cy="795.1" r="5.1" class="c"/>
<circle cx="1359.7" cy="772.3" r="5.1" class="c"/>
<circle cx="1375.7" cy="740.6" r="5.1" class="c"/>
<circle cx="1446.8" cy="800.8" r="5.1" class="c"/>
<circle cx="1339.8" cy="929.2" r="5.1" class="c"/>
<circle cx="1342.6" cy="895.8" r="5.1" class="c"/>
<circle cx="1317.6" cy="868.1" r="5.1" class="o"/>
<circle cx="1372.4" cy="749.0" r="5.1" class="c"/>
<circle cx="1327.3" cy="872.6" r="5.1" class="c"/>
<circle cx="1316.9" cy="943.1" r="5.1" class="o"/>
<circle cx="1410.6" cy="812.5" r="5.1" class="c"/>
<circle cx="1444.9" cy="881.1" r="5.1" class="c"/>
<circle cx="1438.4" cy="893.1" r="5.1" class="c"/>
<circle cx="1333.3" cy="878.7" r="5.1" class="c"/>
<circle cx="1379.8" cy="821.9" r="5.1" class="c"/>
<circle cx="1333.7" cy="863.8" r="5.1" class="c"/>
<circle cx="1326.1" cy="763.2" r="5.1" class="c"/>
<circle cx="1348.9" cy="943.1" r="5.1" class="c"/>
<circle cx="1340.2" cy="740.3" r="5.1" class="c"/>
<circle cx="1543.7" cy="828.9" r="5.1" class="c"/>
<circle cx="1420.0" cy="791.0" r="5.1" class="c"/>
<circle cx="1321.8" cy="787.3" r="5.1" class="c"/>
<circle cx="1479.6" cy="738.8" r="5.1" class="c"/>
<circle cx="1355.0" cy="732.0" r="5.1" class="c"/>
<circle cx="1370.4" cy="799.1" r="5.1" class="c"/>
<circle cx="1357.2" cy="864.8" r="5.1" class="c"/>
<circle cx="1349.0" cy="770.9" r="5.1" class="c"/>
<circle cx="1357.9" cy="883.3" r="5.1" class="c"/>
<circle cx="1347.0" cy="716.0" r="5.1" class="c"/>
<circle cx="1366.2" cy="881.9" r="5.1" class="c"/>
<circle cx="1349.4" cy="877.9" r="5.1" class="c"/>
<circle cx="1366.2" cy="924.3" r="5.1" class="c"/>
<circle cx="1483.0" cy="892.1" r="5.1" class="c"/>
<circle cx="1340.6" cy="1022.7" r="5.1" class="c"/>
<circle cx="1375.8" cy="872.4" r="5.1" class="c"/>
<circle cx="1353.6" cy="930.9" r="5.1" class="c"/>
<circle cx="1363.7" cy="852.9" r="5.1" class="c"/>
<circle cx="1382.9" cy="855.6" r="5.1" class="c"/>
<circle cx="1365.1" cy="921.7" r="5.1" class="c"/>
<circle cx="1370.4" cy="749.5" r="5.1" class="c"/>
<circle cx="1368.3" cy="866.8" r="5.1" class="c"/>
<circle cx="1365.6" cy="855.1" r="5.1" class="c"/>
<circle cx="1502.7" cy="866.3" r="5.1" class="c"/>
<circle cx="1405.3" cy="765.6" r="5.1" class="c"/>
<circle cx="1398.2" cy="855.8" r="5.1" class="c"/>
<circle cx="1331.8" cy="1127.0" r="5.1" class="o"/>
<circle cx="1351.4" cy="891.5" r="5.1" class="c"/>
<circle cx="1336.7" cy="811.8" r="5.1" class="c"/>
<circle cx="1330.7" cy="888.4" r="5.1" class="c"/>
<circle cx="1378.7" cy="875.0" r="5.1" class="c"/>
<circle cx="1360.0" cy="819.3" r="5.1" class="c"/>
<circle cx="1352.3" cy="877.8" r="5.1" class="c"/>
<circle cx="1337.4" cy="748.6" r="5.1" class="c"/>
<circle cx="1372.9" cy="778.0" r="5.1" class="c"/>
<circle cx="1378.5" cy="762.9" r="5.1" class="c"/>
<circle cx="1341.0" cy="812.3" r="5.1" class="c"/>
<circle cx="1334.2" cy="741.4" r="5.1" class="c"/>
<circle cx="1323.2" cy="894.4" r="5.1" class="o"/>
<circle cx="1394.9" cy="853.4" r="5.1" class="c"/>
<circle cx="1372.2" cy="721.7" r="5.1" class="c"/>
<circle cx="1363.7" cy="824.6" r="5.1" class="c"/>
<circle cx="1366.7" cy="778.0" r="5.1" class="c"/>
<circle cx="1331.6" cy="890.3" r="5.1" class="c"/>
<circle cx="1406.8" cy="835.7" r="5.1" class="c"/>
<circle cx="1345.2" cy="884.0" r="5.1" class="c"/>
<circle cx="1374.6" cy="837.5" r="5.1" class="c"/>
<circle cx="1360.4" cy="1021.7" r="5.1" class="c"/>
<circle cx="1330.6" cy="753.8" r="5.1" class="c"/>
<circle cx="1357.9" cy="866.7" r="5.1" class="c"/>
<circle cx="1340.7" cy="719.2" r="5.1" class="c"/>
<circle cx="1339.4" cy="846.6" r="5.1" class="c"/>
<circle cx="1367.7" cy="770.3" r="5.1" class="c"/>
<circle cx="1590.9" cy="809.0" r="5.1" class="c"/>
<circle cx="1350.9" cy="865.9" r="5.1" class="c"/>
<circle cx="1340.0" cy="880.6" r="5.1" class="c"/>
<circle cx="1571.0" cy="835.2" r="5.1" class="c"/>
<circle cx="1430.1" cy="845.8" r="5.1" class="c"/>
<circle cx="1359.3" cy="902.8" r="5.1" class="c"/>
<circle cx="1318.3" cy="1037.5" r="5.1" class="o"/>
<circle cx="1363.9" cy="937.4" r="5.1" class="c"/>
<circle cx="1398.2" cy="855.6" r="5.1" class="c"/>
<circle cx="1347.8" cy="772.6" r="5.1" class="c"/>
<circle cx="1316.9" cy="925.0" r="5.1" class="o"/>
<circle cx="1338.6" cy="842.5" r="5.1" class="c"/>
<circle cx="1316.8" cy="775.0" r="5.1" class="o"/>
<circle cx="1341.7" cy="782.1" r="5.1" class="c"/>
<circle cx="1401.9" cy="822.4" r="5.1" class="c"/>
<circle cx="1366.4" cy="744.1" r="5.1" class="c"/>
<circle cx="1322.8" cy="846.1" r="5.1" class="c"/>
<circle cx="1366.4" cy="777.6" r="5.1" class="c"/>
<circle cx="1388.4" cy="900.0" r="5.1" class="c"/>
<circle cx="1338.2" cy="784.3" r="5.1" class="c"/>
<circle cx="1374.6" cy="847.4" r="5.1" class="c"/>
<circle cx="1349.4" cy="841.9" r="5.1" class="c"/>
<circle cx="1346.3" cy="792.3" r="5.1" class="c"/>
<circle cx="1385.2" cy="781.7" r="5.1" class="c"/>
<circle cx="1342.3" cy="803.1" r="5.1" class="c"/>
<circle cx="1351.4" cy="828.2" r="5.1" class="c"/>
<circle cx="1333.7" cy="844.0" r="5.1" class="c"/>
<circle cx="1363.4" cy="855.6" r="5.1" class="c"/>
<circle cx="1377.1" cy="800.4" r="5.1" class="c"/>
<circle cx="1403.9" cy="817.9" r="5.1" class="c"/>
<circle cx="1378.5" cy="769.4" r="5.1" class="c"/>
<circle cx="1380.1" cy="830.6" r="5.1" class="c"/>
<circle cx="1420.0" cy="803.1" r="5.1" class="c"/>
<circle cx="1322.2" cy="748.1" r="5.1" class="c"/>
<circle cx="1450.6" cy="764.8" r="5.1" class="c"/>
<circle cx="1345.6" cy="750.8" r="5.1" class="c"/>
<circle cx="1438.4" cy="925.0" r="5.1" class="c"/>
<circle cx="1327.8" cy="723.2" r="5.1" class="c"/>
<circle cx="1354.9" cy="781.5" r="5.1" class="c"/>
<circle cx="1361.7" cy="755.5" r="5.1" class="c"/>
<circle cx="1418.0" cy="824.4" r="5.1" class="c"/>
<circle cx="1354.2" cy="714.1" r="5.1" class="c"/>
<circle cx="1367.2" cy="738.6" r="5.1" class="c"/>
<circle cx="1465.9" cy="779.6" r="5.1" class="c"/>
<circle cx="1398.6" cy="797.7" r="5.1" class="c"/>
<circle cx="1348.7" cy="749.8" r="5.1" class="c"/>
<circle cx="1347.6" cy="760.2" r="5.1" class="c"/>
<circle cx="1316.9" cy="912.5" r="5.1" class="o"/>
<circle cx="1401.3" cy="766.9" r="5.1" class="c"/>
<circle cx="1516.0" cy="804.6" r="5.1" class="c"/>
<circle cx="1382.5" cy="742.8" r="5.1" class="c"/>
<circle cx="1316.9" cy="890.3" r="5.1" class="o"/>
<circle cx="1468.2" cy="905.9" r="5.1" class="c"/>
<circle cx="1385.2" cy="769.6" r="5.1" class="c"/>
<circle cx="1347.0" cy="734.1" r="5.1" class="c"/>
<circle cx="1316.1" cy="815.2" r="5.1" class="o"/>
<circle cx="1412.7" cy="791.3" r="5.1" class="c"/>
<circle cx="1338.2" cy="757.5" r="5.1" class="c"/>
<circle cx="1338.3" cy="755.0" r="5.1" class="c"/>
<circle cx="1366.2" cy="909.7" r="5.1" class="c"/>
<circle cx="1403.9" cy="773.6" r="5.1" class="c"/>
<circle cx="1372.0" cy="853.7" r="5.1" class="c"/>
<circle cx="1387.8" cy="750.8" r="5.1" class="c"/>
<circle cx="1334.2" cy="750.2" r="5.1" class="c"/>
<circle cx="1363.6" cy="822.1" r="5.1" class="c"/>
<circle cx="1437.1" cy="915.3" r="5.1" class="c"/>
<circle cx="1362.4" cy="808.5" r="5.1" class="c"/>
<circle cx="1329.4" cy="856.9" r="5.1" class="c"/>
</g>
<polygon points="1316.8,807.2 1331.1,811.7 1345.4,814.1 1359.7,815.5 1374.0,816.7 1388.3,817.6 1402.7,818.4 1417.0,819.2 1431.3,820.0 1445.6,820.7 1459.9,821.4 1474.2,822.1 1488.5,822.8 1502.8,823.5 1517.1,824.2 1531.4,824.9 1545.8,825.6 1560.1,826.3 1574.4,826.9 1588.7,827.6 1603.0,828.3 1617.3,829.0 1631.6,829.6 1645.9,830.3 1660.2,831.0 1674.5,831.6 1688.9,832.3 1703.2,833.0 1717.5,833.7 1731.8,834.3 1746.1,835.0 1746.1,910.0 1731.8,906.7 1717.5,903.4 1703.2,900.1 1688.9,896.9 1674.5,893.6 1660.2,890.3 1645.9,887.0 1631.6,883.7 1617.3,880.5 1603.0,877.2 1588.7,873.9 1574.4,870.6 1560.1,867.4 1545.8,864.1 1531.4,860.8 1517.1,857.5 1502.8,854.3 1488.5,851.0 1474.2,847.8 1459.9,844.5 1445.6,841.3 1431.3,838.1 1417.0,834.8 1402.7,831.7 1388.3,828.6 1374.0,825.6 1359.7,822.7 1345.4,820.2 1331.1,818.6 1316.8,819.2" fill="#00FFFF" fill-opacity="0.4"/>
<line x1="1316.8" y1="813.2" x2="1746.1" y2="872.5" stroke="#0000FF" stroke-width="6.6"/>
<polygon points="1314.8,794.8 1316.1,796.0 1317.5,797.0 1318.8,797.9 1320.2,798.6 1321.5,798.9 1322.8,798.7 1324.2,797.9 1325.5,796.7 1326.9,795.3 1328.2,793.8 1329.5,792.2 1330.9,790.6 1332.2,788.9 1333.6,787.1 1334.9,785.4 1336.2,783.6 1337.6,781.8 1338.9,780.0 1340.3,778.2 1341.6,776.4 1342.9,774.6 1344.3,772.8 1345.6,771.0 1347.0,769.2 1348.3,767.4 1349.6,765.5 1351.0,763.7 1352.3,761.9 1353.7,760.0 1355.0,758.2 1355.0,876.2 1353.7,873.5 1352.3,870.7 1351.0,868.0 1349.6,865.3 1348.3,862.6 1347.0,859.9 1345.6,857.1 1344.3,854.4 1342.9,851.7 1341.6,849.0 1340.3,846.3 1338.9,843.6 1337.6,841.0 1336.2,838.3 1334.9,835.6 1333.6,833.0 1332.2,830.4 1330.9,827.8 1329.5,825.2 1328.2,822.7 1326.9,820.3 1325.5,818.0 1324.2,816.0 1322.8,814.3 1321.5,813.1 1320.2,812.6 1318.8,812.4 1317.5,812.4 1316.1,812.5 1314.8,812.8" fill="#FF8C00" fill-opacity="0.4"/>
<line x1="1314.8" y1="803.8" x2="1355" y2="817.2" stroke="#FF0000" stroke-width="6.6"/>
<path d="M1294.4,660.7 V1160.0 H1763.0" fill="none" stroke="#000" stroke-width="1.4"/>
<line x1="1316.8" y1="1160.0" x2="1316.8" y2="1163.2" stroke="#333" stroke-width="1.3"/>
<text x="1316.8" y="1203.3" font-family="'Liberation Sans', Arial, sans-serif" font-size="36.3" font-weight="normal" font-style="normal" fill="#1e1e1e" text-anchor="middle">0</text>
<line x1="1409.5" y1="1160.0" x2="1409.5" y2="1163.2" stroke="#333" stroke-width="1.3"/>
<text x="1409.5" y="1203.3" font-family="'Liberation Sans', Arial, sans-serif" font-size="36.3" font-weight="normal" font-style="normal" fill="#1e1e1e" text-anchor="middle">10</text>
<line x1="1502.3" y1="1160.0" x2="1502.3" y2="1163.2" stroke="#333" stroke-width="1.3"/>
<text x="1502.3" y="1203.3" font-family="'Liberation Sans', Arial, sans-serif" font-size="36.3" font-weight="normal" font-style="normal" fill="#1e1e1e" text-anchor="middle">20</text>
<line x1="1595.0" y1="1160.0" x2="1595.0" y2="1163.2" stroke="#333" stroke-width="1.3"/>
<text x="1595.0" y="1203.3" font-family="'Liberation Sans', Arial, sans-serif" font-size="36.3" font-weight="normal" font-style="normal" fill="#1e1e1e" text-anchor="middle">30</text>
<line x1="1687.8" y1="1160.0" x2="1687.8" y2="1163.2" stroke="#333" stroke-width="1.3"/>
<text x="1687.8" y="1203.3" font-family="'Liberation Sans', Arial, sans-serif" font-size="36.3" font-weight="normal" font-style="normal" fill="#1e1e1e" text-anchor="middle">40</text>
<line x1="1291.2" y1="1062.8" x2="1294.4" y2="1062.8" stroke="#333" stroke-width="1.3"/>
<text x="1286.6" y="1077.4" font-family="'Liberation Sans', Arial, sans-serif" font-size="36.3" font-weight="normal" font-style="normal" fill="#1e1e1e" text-anchor="end">2</text>
<line x1="1291.2" y1="935.6" x2="1294.4" y2="935.6" stroke="#333" stroke-width="1.3"/>
<text x="1286.6" y="950.2" font-family="'Liberation Sans', Arial, sans-serif" font-size="36.3" font-weight="normal" font-style="normal" fill="#1e1e1e" text-anchor="end">3</text>
<line x1="1291.2" y1="808.5" x2="1294.4" y2="808.5" stroke="#333" stroke-width="1.3"/>
<text x="1286.6" y="823.1" font-family="'Liberation Sans', Arial, sans-serif" font-size="36.3" font-weight="normal" font-style="normal" fill="#1e1e1e" text-anchor="end">4</text>
<line x1="1291.2" y1="681.3" x2="1294.4" y2="681.3" stroke="#333" stroke-width="1.3"/>
<text x="1286.6" y="695.9" font-family="'Liberation Sans', Arial, sans-serif" font-size="36.3" font-weight="normal" font-style="normal" fill="#1e1e1e" text-anchor="end">5</text>
<rect x="1226" y="280" width="42" height="15.4" fill="#fff"/>
<rect x="1255" y="915" width="21" height="45" fill="#fff"/>
<text x="185.5" y="35.1" font-family="Carlito, 'Liberation Sans', sans-serif" font-size="44.5" font-weight="bold" font-style="normal" fill="#000" text-anchor="start" textLength="428.0" lengthAdjust="spacingAndGlyphs" stroke="#fff" stroke-width="0.45">Day length Hypothesis</text>
<text x="742.5" y="35.1" font-family="Carlito, 'Liberation Sans', sans-serif" font-size="44.5" font-weight="bold" font-style="normal" fill="#000" text-anchor="start" textLength="468.0" lengthAdjust="spacingAndGlyphs" stroke="#fff" stroke-width="0.45">Temperature Hypothesis</text>
<text x="1324.5" y="35.1" font-family="Carlito, 'Liberation Sans', sans-serif" font-size="44.5" font-weight="bold" font-style="normal" fill="#000" text-anchor="start" textLength="398.0" lengthAdjust="spacingAndGlyphs" stroke="#fff" stroke-width="0.45">Resource Hypothesis</text>
<text x="35.8" y="463.0" font-family="Carlito, 'Liberation Sans', sans-serif" font-size="46.5" font-weight="normal" font-style="normal" fill="#000" text-anchor="start" textLength="314.0" lengthAdjust="spacingAndGlyphs" transform="rotate(-90 35.8 463.0)" stroke="#000" stroke-width="1.5">Species Richness</text>
<text x="35.8" y="1029.0" font-family="Carlito, 'Liberation Sans', sans-serif" font-size="46.5" font-weight="normal" font-style="normal" fill="#000" text-anchor="start" textLength="328.0" lengthAdjust="spacingAndGlyphs" transform="rotate(-90 35.8 1029.0)" stroke="#000" stroke-width="1.5">Species Evenness</text>
<text x="96.8" y="358.0" font-family="Carlito, 'Liberation Sans', sans-serif" font-size="38" font-weight="bold" font-style="normal" fill="#000" text-anchor="start" textLength="100.0" lengthAdjust="spacingAndGlyphs" transform="rotate(-90 96.8 358.0)">Chao1</text>
<text x="96.8" y="924.5" font-family="Carlito, 'Liberation Sans', sans-serif" font-size="38" font-weight="bold" font-style="normal" fill="#000" text-anchor="start" textLength="142.0" lengthAdjust="spacingAndGlyphs" transform="rotate(-90 96.8 924.5)">Shannon</text>
<text x="59.5" y="94.2" font-family="Carlito, 'Liberation Sans', sans-serif" font-size="52.5" font-weight="normal" font-style="normal" fill="#000" text-anchor="start">a</text>
<text x="652.5" y="95.8" font-family="Carlito, 'Liberation Sans', sans-serif" font-size="52.5" font-weight="normal" font-style="normal" fill="#000" text-anchor="start">c</text>
<text x="1235.5" y="96.0" font-family="Carlito, 'Liberation Sans', sans-serif" font-size="52.5" font-weight="normal" font-style="normal" fill="#000" text-anchor="start">e</text>
<text x="69.0" y="666.0" font-family="Carlito, 'Liberation Sans', sans-serif" font-size="48.5" font-weight="normal" font-style="normal" fill="#000" text-anchor="start">b</text>
<text x="652.5" y="666.0" font-family="Carlito, 'Liberation Sans', sans-serif" font-size="48.5" font-weight="normal" font-style="normal" fill="#000" text-anchor="start">d</text>
<text x="1243.5" y="661.0" font-family="Carlito, 'Liberation Sans', sans-serif" font-size="48.5" font-weight="normal" font-style="normal" fill="#000" text-anchor="start">f</text>
<text x="283.0" y="1249.0" font-family="Carlito, 'Liberation Sans', sans-serif" font-size="38" font-weight="bold" font-style="normal" fill="#000" text-anchor="start" textLength="301.0" lengthAdjust="spacingAndGlyphs">Day length (hours)</text>
<text x="854.5" y="1249" font-family="Carlito, 'Liberation Sans', sans-serif" font-size="38" font-weight="bold" fill="#000" textLength="278" lengthAdjust="spacingAndGlyphs">Temperature (<tspan font-size="24" dy="-14">o</tspan><tspan dy="14">C)</tspan></text>
<text x="1373" y="1249" font-family="Carlito, 'Liberation Sans', sans-serif" font-size="38" font-weight="bold" fill="#000" textLength="339" lengthAdjust="spacingAndGlyphs">Chlorophyll <tspan font-style="italic">a</tspan> (μg L<tspan font-size="24" dy="-14">-1</tspan><tspan dy="14">)</tspan></text>
<text x="382.5" y="112.5" font-family="Carlito, 'Liberation Sans', sans-serif" font-size="27.5" font-weight="bold" font-style="italic" fill="#2222FF" text-anchor="start" textLength="204.0" lengthAdjust="spacingAndGlyphs">R=-0.72, p&lt;0.001</text>
<text x="382.5" y="148.3" font-family="Carlito, 'Liberation Sans', sans-serif" font-size="27.5" font-weight="bold" font-style="italic" fill="#FF0000" text-anchor="start" textLength="204.0" lengthAdjust="spacingAndGlyphs">R=-0.29, p&lt;0.001</text>
<text x="1000.0" y="112.5" font-family="Carlito, 'Liberation Sans', sans-serif" font-size="27.5" font-weight="bold" font-style="italic" fill="#2222FF" text-anchor="start" textLength="204.0" lengthAdjust="spacingAndGlyphs">R=-0.07, p=0.132</text>
<text x="1000.0" y="148.5" font-family="Carlito, 'Liberation Sans', sans-serif" font-size="27.5" font-weight="bold" font-style="italic" fill="#FF0000" text-anchor="start" textLength="195.0" lengthAdjust="spacingAndGlyphs">R=0.42, p&lt;0.001</text>
<text x="1541.0" y="112.5" font-family="Carlito, 'Liberation Sans', sans-serif" font-size="27.5" font-weight="bold" font-style="italic" fill="#2222FF" text-anchor="start" textLength="205.0" lengthAdjust="spacingAndGlyphs">R=-0.18, p&lt;0.001</text>
<text x="1541.0" y="148.6" font-family="Carlito, 'Liberation Sans', sans-serif" font-size="27.5" font-weight="bold" font-style="italic" fill="#FF0000" text-anchor="start" textLength="206.0" lengthAdjust="spacingAndGlyphs">R=-0.16, p=0.024</text>
<text x="204.0" y="1076.0" font-family="Carlito, 'Liberation Sans', sans-serif" font-size="27.5" font-weight="bold" font-style="italic" fill="#2222FF" text-anchor="start" textLength="205.0" lengthAdjust="spacingAndGlyphs">R=-0.44, p&lt;0.001</text>
<text x="204.0" y="1112.3" font-family="Carlito, 'Liberation Sans', sans-serif" font-size="27.5" font-weight="bold" font-style="italic" fill="#FF0000" text-anchor="start" textLength="196.0" lengthAdjust="spacingAndGlyphs">R=0.41, p&lt;0.001</text>
<text x="974.5" y="1076.7" font-family="Carlito, 'Liberation Sans', sans-serif" font-size="27.5" font-weight="bold" font-style="italic" fill="#2222FF" text-anchor="start" textLength="206.0" lengthAdjust="spacingAndGlyphs">R= 0.12, p&lt;0.005</text>
<text x="974.5" y="1112.7" font-family="Carlito, 'Liberation Sans', sans-serif" font-size="27.5" font-weight="bold" font-style="italic" fill="#FF0000" text-anchor="start" textLength="204.0" lengthAdjust="spacingAndGlyphs">R=-0.18, p=0.011</text>
<text x="1536.5" y="1076.7" font-family="Carlito, 'Liberation Sans', sans-serif" font-size="27.5" font-weight="bold" font-style="italic" fill="#2222FF" text-anchor="start" textLength="206.0" lengthAdjust="spacingAndGlyphs">R=-0.12, p&lt;0.005</text>
<text x="1536.5" y="1112.5" font-family="Carlito, 'Liberation Sans', sans-serif" font-size="27.5" font-weight="bold" font-style="italic" fill="#FF0000" text-anchor="start" textLength="207.0" lengthAdjust="spacingAndGlyphs">R=-0.03, p=0.716</text>
<circle cx="1587.2" cy="205.4" r="9.4" fill="#00F0F0" stroke="#111" stroke-width="1.3"/>
<circle cx="1587.6" cy="253.7" r="9.8" fill="#F0923A" stroke="#111" stroke-width="1.3"/>
<text x="1604.5" y="209.7" font-family="Carlito, 'Liberation Sans', sans-serif" font-size="30" font-weight="bold" font-style="normal" fill="#000" text-anchor="start" textLength="122.0" lengthAdjust="spacingAndGlyphs">euphotic</text>
<text x="1604.5" y="260.2" font-family="Carlito, 'Liberation Sans', sans-serif" font-size="30" font-weight="bold" font-style="normal" fill="#000" text-anchor="start" textLength="103.0" lengthAdjust="spacingAndGlyphs">aphotic</text>
<circle cx="1587.2" cy="956.7" r="9.4" fill="#00F0F0" stroke="#111" stroke-width="1.3"/>
<circle cx="1587.6" cy="1005" r="9.8" fill="#F0923A" stroke="#111" stroke-width="1.3"/>
<text x="1604.5" y="961.0" font-family="Carlito, 'Liberation Sans', sans-serif" font-size="30" font-weight="bold" font-style="normal" fill="#000" text-anchor="start" textLength="122.0" lengthAdjust="spacingAndGlyphs">euphotic</text>
<text x="1604.5" y="1011.5" font-family="Carlito, 'Liberation Sans', sans-serif" font-size="30" font-weight="bold" font-style="normal" fill="#000" text-anchor="start" textLength="103.0" lengthAdjust="spacingAndGlyphs">aphotic</text>
</svg>
</body></html>
